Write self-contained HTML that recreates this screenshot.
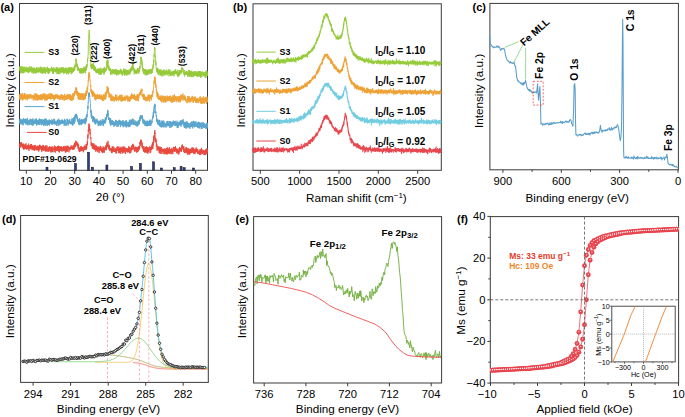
<!DOCTYPE html>
<html><head><meta charset="utf-8"><title>Figure</title>
<style>html,body{margin:0;padding:0;background:#fff;width:685px;height:417px;overflow:hidden}svg{display:block}text{font-family:"Liberation Sans", sans-serif}</style>
</head><body><svg width="685" height="417" viewBox="0 0 685 417" font-family='"Liberation Sans", sans-serif'><rect width="685" height="417" fill="#fff"/><rect x="19.5" y="3.5" width="188.0" height="166.8" fill="none" stroke="#3a3a3a" stroke-width="1"/><line x1="26.3" y1="170.3" x2="26.3" y2="173.8" stroke="#3a3a3a" stroke-width="1.0" /><text x="26.3" y="185.3" font-size="11.2" text-anchor="middle" fill="#000" >10</text><line x1="50.5" y1="170.3" x2="50.5" y2="173.8" stroke="#3a3a3a" stroke-width="1.0" /><text x="50.5" y="185.3" font-size="11.2" text-anchor="middle" fill="#000" >20</text><line x1="74.7" y1="170.3" x2="74.7" y2="173.8" stroke="#3a3a3a" stroke-width="1.0" /><text x="74.7" y="185.3" font-size="11.2" text-anchor="middle" fill="#000" >30</text><line x1="98.9" y1="170.3" x2="98.9" y2="173.8" stroke="#3a3a3a" stroke-width="1.0" /><text x="98.9" y="185.3" font-size="11.2" text-anchor="middle" fill="#000" >40</text><line x1="123.1" y1="170.3" x2="123.1" y2="173.8" stroke="#3a3a3a" stroke-width="1.0" /><text x="123.1" y="185.3" font-size="11.2" text-anchor="middle" fill="#000" >50</text><line x1="147.3" y1="170.3" x2="147.3" y2="173.8" stroke="#3a3a3a" stroke-width="1.0" /><text x="147.3" y="185.3" font-size="11.2" text-anchor="middle" fill="#000" >60</text><line x1="171.5" y1="170.3" x2="171.5" y2="173.8" stroke="#3a3a3a" stroke-width="1.0" /><text x="171.5" y="185.3" font-size="11.2" text-anchor="middle" fill="#000" >70</text><line x1="195.7" y1="170.3" x2="195.7" y2="173.8" stroke="#3a3a3a" stroke-width="1.0" /><text x="195.7" y="185.3" font-size="11.2" text-anchor="middle" fill="#000" >80</text><text x="110.2" y="200.7" font-size="11.7" text-anchor="middle" fill="#000" >2θ (°)</text><text transform="translate(13.6,90.4) rotate(-90)" x="0" y="0" font-size="11.7" text-anchor="middle" fill="#000">Intensity (a.u.)</text><text x="0.4" y="11" font-size="11" font-weight="bold" text-anchor="start" fill="#000" >(a)</text><polyline points="20,145.3 20,145.8 20,144.8 20,143.8 20,144.6 20,143.7 20,145.5 20,147.8 20,144.6 20,144.4 20,146.4 20.1,146.2 20.2,145.8 20.3,144 20.4,145.6 20.5,146.9 20.6,143.3 20.7,144.9 20.8,142.4 20.9,143.5 21,142.5 21.1,145.4 21.2,143.6 21.3,146.3 21.4,146.1 21.5,145.5 21.6,142.3 21.7,145 21.8,145.9 21.8,146.2 21.9,143.3 22,145.2 22.1,144.3 22.2,144.6 22.3,147.9 22.4,144.7 22.5,146.1 22.6,147.7 22.7,145.1 22.8,146 22.9,146.4 23,146.3 23.1,144.1 23.2,146.4 23.3,148.7 23.4,143.6 23.5,147.8 23.6,146.5 23.7,145.2 23.8,149.9 23.9,147.7 24,144.3 24.1,146.6 24.2,147.5 24.3,146.1 24.4,147.7 24.5,146.4 24.6,147.7 24.7,149.1 24.8,145.4 24.8,146.9 24.9,145.8 25,146.8 25.1,144.6 25.2,145.6 25.3,146.3 25.4,148.3 25.5,148.7 25.6,144.4 25.7,145.4 25.8,147.9 25.9,143.3 26,146 26.1,146.6 26.2,149 26.3,148 26.4,146.3 26.5,146.2 26.6,146.5 26.7,149.6 26.8,146.2 26.9,146.4 27,147.6 27.1,146.8 27.2,146.6 27.3,145.1 27.4,147 27.5,146.3 27.6,149.1 27.7,148.2 27.8,147 27.8,148.3 27.9,146.5 28,149 28.1,147.1 28.2,148.2 28.3,144.9 28.4,147.8 28.5,144.2 28.6,143.6 28.7,146.7 28.8,145.7 28.9,147.5 29,150.9 29.1,145.8 29.2,146.2 29.3,147.7 29.4,148.2 29.5,147 29.6,147 29.7,148.6 29.8,148.3 29.9,145.6 30,147.3 30.1,147.5 30.2,145.6 30.3,147.9 30.4,145.9 30.5,149.2 30.6,147.8 30.7,147.6 30.8,146.5 30.8,147.3 30.9,144 31,145.5 31.1,148.2 31.2,144 31.3,149 31.4,144.5 31.5,148.9 31.6,146.1 31.7,149 31.8,147.9 31.9,144.9 32,149.8 32.1,150.2 32.2,147.6 32.3,147.2 32.4,147.4 32.5,146 32.6,149.6 32.7,146.8 32.8,147.6 32.9,146.4 33,146.7 33.1,145.5 33.2,150 33.3,147.5 33.4,149.5 33.5,147.8 33.6,146.6 33.7,147.3 33.8,146.9 33.9,147.9 33.9,147.2 34,147.3 34.1,145.5 34.2,146.5 34.3,150.8 34.4,146.7 34.5,146.1 34.6,148.5 34.7,150.4 34.8,145.4 34.9,147.6 35,146.9 35.1,144.9 35.2,149.3 35.3,147.9 35.4,148.1 35.5,146.7 35.6,148.8 35.7,147.1 35.8,147.8 35.9,146.1 36,145.9 36.1,150.4 36.2,147.2 36.3,148.6 36.4,148 36.5,147.3 36.6,147.2 36.7,149.2 36.8,147.6 36.9,147.9 36.9,148.2 37,150.2 37.1,149.3 37.2,148.8 37.3,147.2 37.4,145.7 37.5,149.8 37.6,149.9 37.7,147.9 37.8,149.1 37.9,149.6 38,149.7 38.1,149.8 38.2,147.4 38.3,150.9 38.4,146.1 38.5,149.8 38.6,149.1 38.7,149.8 38.8,151.6 38.9,150.9 39,146.3 39.1,145.3 39.2,149.7 39.3,146.5 39.4,148.3 39.5,149.8 39.6,145.4 39.7,144.7 39.8,148.8 39.9,148.4 39.9,147.9 40,148.4 40.1,146.9 40.2,145.7 40.3,148.1 40.4,146.7 40.5,145.5 40.6,149.3 40.7,148.3 40.8,149.1 40.9,146.7 41,147.3 41.1,146.7 41.2,146.9 41.3,148.8 41.4,147.1 41.5,149.1 41.6,149.1 41.7,152 41.8,146 41.9,150 42,148.3 42.1,148.5 42.2,146 42.3,147.7 42.4,149.8 42.5,148.4 42.6,148.7 42.7,148 42.8,150.5 42.9,148.5 42.9,144.9 43,147.3 43.1,145.1 43.2,145 43.3,147.6 43.4,150.9 43.5,148.6 43.6,146.5 43.7,146.9 43.8,150.6 43.9,148.9 44,148.7 44.1,148.5 44.2,148.7 44.3,150 44.4,149.6 44.5,149 44.6,146.8 44.7,149.5 44.8,147.4 44.9,150.5 45,146.4 45.1,148.4 45.2,148.6 45.3,146.3 45.4,151.7 45.5,151.2 45.6,147.9 45.7,150 45.8,149.3 45.9,145.1 46,149.1 46,148.6 46.1,148.8 46.2,146.8 46.3,148.2 46.4,148.4 46.5,150.8 46.6,149.3 46.7,148.7 46.8,151.4 46.9,147.8 47,148 47.1,145.6 47.2,151.5 47.3,150.4 47.4,150.3 47.5,149.9 47.6,148.9 47.7,149.1 47.8,148.3 47.9,148.4 48,148.9 48.1,151.4 48.2,149.7 48.3,148.7 48.4,147.8 48.5,147.7 48.6,151.6 48.7,149.7 48.8,148.9 48.9,148.2 49,146.9 49,148.7 49.1,150.3 49.2,148.1 49.3,148.4 49.4,148.4 49.5,149 49.6,146 49.7,148.4 49.8,147.3 49.9,150.4 50,147.5 50.1,149.9 50.2,151.5 50.3,148.3 50.4,147.8 50.5,149.2 50.6,148.9 50.7,147.1 50.8,149.7 50.9,152.4 51,148.4 51.1,148.5 51.2,147 51.3,149.4 51.4,146.7 51.5,146.9 51.6,151.1 51.7,147.3 51.8,150.8 51.9,151.6 52,149.4 52,149.9 52.1,152.3 52.2,148.6 52.3,147.9 52.4,146.5 52.5,149 52.6,151.5 52.7,150.6 52.8,147.3 52.9,147.4 53,148 53.1,149.4 53.2,148.6 53.3,149.3 53.4,149.5 53.5,148.4 53.6,148.9 53.7,149.3 53.8,148.8 53.9,149.8 54,152.2 54.1,150 54.2,149.1 54.3,146 54.4,149.6 54.5,145.6 54.6,146.5 54.7,150.5 54.8,150.2 54.9,148.7 55,146 55,148.3 55.1,147.8 55.2,150.1 55.3,152.6 55.4,149.4 55.5,147.6 55.6,146.9 55.7,148.9 55.8,148.7 55.9,147 56,149.2 56.1,147 56.2,150.9 56.3,150.9 56.4,150.9 56.5,148.2 56.6,149.9 56.7,148.8 56.8,148.3 56.9,148.4 57,146.7 57.1,146.5 57.2,150.4 57.3,148.7 57.4,149.4 57.5,150.8 57.6,146 57.7,147.6 57.8,149.3 57.9,149.7 58,148.4 58.1,150.8 58.1,149.4 58.2,146.9 58.3,147.4 58.4,150.4 58.5,149.8 58.6,145.7 58.7,151.4 58.8,150.1 58.9,151.4 59,148.4 59.1,148.5 59.2,147.1 59.3,152.6 59.4,148.7 59.5,151.8 59.6,147.9 59.7,149.3 59.8,146.1 59.9,148.4 60,150.8 60.1,146.9 60.2,150.9 60.3,149.7 60.4,147.2 60.5,148.2 60.6,148.3 60.7,149 60.8,148.1 60.9,147.6 61,148.5 61.1,147.3 61.1,146.8 61.2,149 61.3,150.6 61.4,146.4 61.5,149.1 61.6,148 61.7,147.4 61.8,150.6 61.9,148.2 62,151.7 62.1,147.7 62.2,149.8 62.3,148.7 62.4,147.8 62.5,150.1 62.6,148.8 62.7,150.2 62.8,149 62.9,147.2 63,148.9 63.1,149.2 63.2,150.8 63.3,147.5 63.4,149.1 63.5,146.1 63.6,150.3 63.7,147.2 63.8,146 63.9,149 64,151.1 64.1,146.5 64.1,147.2 64.2,147.8 64.3,147.2 64.4,149.8 64.5,147.7 64.6,147.9 64.7,150.2 64.8,147.8 64.9,149.9 65,147.5 65.1,147 65.2,145.9 65.3,152.4 65.4,148.6 65.5,149.6 65.6,149.1 65.7,149.4 65.8,149.2 65.9,152.5 66,147.3 66.1,146.4 66.2,147.4 66.3,146.8 66.4,150.5 66.5,150.6 66.6,147.5 66.7,146.7 66.8,148.5 66.9,151.6 67,145.6 67.1,150.1 67.1,147.3 67.2,151 67.3,147.3 67.4,148.7 67.5,146.5 67.6,147.4 67.7,151.6 67.8,150.6 67.9,148.5 68,147.6 68.1,145.8 68.2,148.5 68.3,149.1 68.4,149 68.5,149 68.6,147.2 68.7,149 68.8,149.1 68.9,151.4 69,152.4 69.1,148.9 69.2,147.8 69.3,149 69.4,148.1 69.5,147.8 69.6,149 69.7,147.3 69.8,150.2 69.9,148.9 70,149.5 70.1,148.8 70.2,147.8 70.2,147.4 70.3,148.7 70.4,148.1 70.5,149.5 70.6,149 70.7,146.7 70.8,149.1 70.9,146.7 71,147.9 71.1,148.5 71.2,145.4 71.3,149.1 71.4,149.2 71.5,148.7 71.6,148.2 71.7,148.3 71.8,147.2 71.9,148.4 72,147.9 72.1,149 72.2,146.7 72.3,149.2 72.4,149 72.5,148.5 72.6,147.9 72.7,149.6 72.8,145.7 72.9,149.4 73,148.9 73.1,149 73.2,149.1 73.2,147.2 73.3,147.8 73.4,149.3 73.5,148.8 73.6,148.3 73.7,145.2 73.8,148.6 73.9,149.6 74,149.2 74.1,147.6 74.2,144.3 74.3,148.5 74.4,146.4 74.5,142.8 74.6,146.8 74.7,143.3 74.8,143.3 74.9,144.2 75,147.2 75.1,144.1 75.2,144.9 75.3,147.1 75.4,146.5 75.5,143.3 75.6,142.7 75.7,140.7 75.8,141.5 75.9,143.3 76,143.1 76.1,142.6 76.2,144.1 76.2,141.1 76.3,142.5 76.4,144.1 76.5,144 76.6,145.2 76.7,144.3 76.8,143.4 76.9,144.8 77,142.8 77.1,142 77.2,146.2 77.3,145.4 77.4,146.3 77.5,143 77.6,145.6 77.7,145.4 77.8,145.2 77.9,143.3 78,146.5 78.1,148.9 78.2,148.1 78.3,146.5 78.4,147.7 78.5,149.2 78.6,144.4 78.7,147.8 78.8,149.1 78.9,149.4 79,151.3 79.1,150.4 79.2,149 79.2,149 79.3,149.9 79.4,147.6 79.5,148.5 79.6,150.2 79.7,152.1 79.8,148.4 79.9,148.6 80,149.1 80.1,151.1 80.2,148.7 80.3,151.4 80.4,147.1 80.5,148.5 80.6,148.5 80.7,150.2 80.8,150.7 80.9,146.2 81,147.3 81.1,149.4 81.2,147.7 81.3,146.2 81.4,150.7 81.5,149.7 81.6,149.7 81.7,148 81.8,150.7 81.9,148.4 82,150.8 82.1,147.2 82.2,147.3 82.3,149.2 82.3,147.6 82.4,150 82.5,149.3 82.6,147.2 82.7,148.9 82.8,148.1 82.9,150.4 83,147.6 83.1,147.9 83.2,150.8 83.3,152.3 83.4,152.2 83.5,148.7 83.6,149 83.7,151.3 83.8,148.3 83.9,146.8 84,148.7 84.1,149.3 84.2,147 84.3,145.5 84.4,145.8 84.5,149.5 84.6,146.9 84.7,148 84.8,148.5 84.9,149.2 85,147.5 85.1,148.9 85.2,146.3 85.3,147.2 85.3,145.9 85.4,149.6 85.5,147.5 85.6,146.1 85.7,146.7 85.8,146.8 85.9,148.2 86,144 86.1,144.8 86.2,145.8 86.3,149.8 86.4,147.6 86.5,145.4 86.6,146.6 86.7,148.6 86.8,144.2 86.9,143.5 87,145.8 87.1,144 87.2,143.8 87.3,141.1 87.4,144.7 87.5,143.6 87.6,140.8 87.7,140.2 87.8,134.6 87.9,138.4 88,135.9 88.1,136 88.2,135.4 88.3,132.6 88.3,129.2 88.4,131.8 88.5,128.8 88.6,128.6 88.7,127.3 88.8,127 88.9,123.5 89,128.8 89.1,127 89.2,128.5 89.3,130.3 89.4,127.3 89.5,124.7 89.6,127.1 89.7,127.4 89.8,129.6 89.9,131.6 90,129 90.1,134.2 90.2,131.9 90.3,136.1 90.4,136.3 90.5,136.9 90.6,138.1 90.7,138.1 90.8,138.7 90.9,137.5 91,141.1 91.1,144.9 91.2,145.7 91.3,145 91.3,144.3 91.4,142.3 91.5,146.3 91.6,144 91.7,144.2 91.8,144 91.9,144.9 92,144.1 92.1,144.8 92.2,143.1 92.3,144.5 92.4,148.8 92.5,145.1 92.6,144.9 92.7,146.3 92.8,146.6 92.9,143.5 93,145.2 93.1,147.2 93.2,146.2 93.3,146.1 93.4,148.7 93.5,144.9 93.6,146.4 93.7,145.5 93.8,149.2 93.9,143.4 94,145.8 94.1,146.2 94.2,148.4 94.3,148.4 94.4,150 94.4,144.9 94.5,149.1 94.6,147.4 94.7,146.8 94.8,149.1 94.9,146.6 95,144.7 95.1,147.7 95.2,145.8 95.3,147.4 95.4,149.2 95.5,149.2 95.6,151.5 95.7,148.4 95.8,146.1 95.9,147.5 96,147.3 96.1,146.8 96.2,149.7 96.3,147.9 96.4,145.6 96.5,150.3 96.6,148.9 96.7,149.7 96.8,149.3 96.9,150.3 97,149.3 97.1,151.4 97.2,150 97.3,149.9 97.4,150 97.4,146.7 97.5,149 97.6,148.9 97.7,149.7 97.8,147 97.9,152.2 98,149.5 98.1,147.3 98.2,146.4 98.3,148.9 98.4,149.2 98.5,148.2 98.6,149.6 98.7,148.3 98.8,150.4 98.9,148.2 99,149.4 99.1,151.2 99.2,153.1 99.3,147.7 99.4,148.7 99.5,148 99.6,150.9 99.7,147.5 99.8,148.7 99.9,149.5 100,147.8 100.1,147.8 100.2,148.7 100.3,145.9 100.4,147 100.4,148.8 100.5,149.8 100.6,149.2 100.7,146.4 100.8,148.7 100.9,150.9 101,150.5 101.1,149.4 101.2,148 101.3,150.7 101.4,148.5 101.5,147.5 101.6,148.1 101.7,152.1 101.8,149.9 101.9,151.6 102,148.7 102.1,151.2 102.2,148.5 102.3,149.3 102.4,153.1 102.5,150.9 102.6,148.6 102.7,149.4 102.8,150.1 102.9,151.6 103,148.6 103.1,146.4 103.2,149 103.3,149.5 103.4,149.6 103.4,151.7 103.5,150 103.6,150.8 103.7,147.4 103.8,150.9 103.9,152.9 104,150.7 104.1,149.7 104.2,149.5 104.3,152.3 104.4,147.5 104.5,148.9 104.6,149.9 104.7,150.3 104.8,148.2 104.9,149.4 105,148.3 105.1,148.9 105.2,148.4 105.3,146.5 105.4,148.3 105.5,149.8 105.6,146.4 105.7,147.5 105.8,148.9 105.9,145.7 106,147.7 106.1,145.3 106.2,148.9 106.3,150.3 106.4,150 106.5,145.8 106.5,147.2 106.6,145.9 106.7,145.6 106.8,147.8 106.9,142.6 107,146.5 107.1,144.3 107.2,146.7 107.3,144.4 107.4,142.8 107.5,144.5 107.6,145.3 107.7,144.1 107.8,145 107.9,143.4 108,140.9 108.1,146.4 108.2,146.3 108.3,145.6 108.4,145.7 108.5,147.7 108.6,145.3 108.7,145.2 108.8,146.3 108.9,149 109,144.7 109.1,149.4 109.2,146.4 109.3,145.8 109.4,150.1 109.5,147.9 109.5,146 109.6,147.8 109.7,150.2 109.8,150.7 109.9,148 110,149.6 110.1,150.2 110.2,147.9 110.3,149.7 110.4,149.1 110.5,148.3 110.6,148.4 110.7,149.5 110.8,149.4 110.9,148.4 111,148.7 111.1,151.5 111.2,149.9 111.3,151.1 111.4,151.7 111.5,150.6 111.6,153.2 111.7,148.2 111.8,151.1 111.9,149.1 112,153 112.1,152.7 112.2,146.3 112.3,148.1 112.4,150.9 112.5,151.2 112.5,151.1 112.6,149.7 112.7,150.6 112.8,151 112.9,149.7 113,151.6 113.1,146.3 113.2,151 113.3,148.1 113.4,151.6 113.5,149.5 113.6,148.3 113.7,150.6 113.8,148.3 113.9,148.3 114,147.2 114.1,149.9 114.2,150.8 114.3,151.7 114.4,149.7 114.5,151.8 114.6,150 114.7,149.8 114.8,151 114.9,151.8 115,149.4 115.1,149.6 115.2,149.7 115.3,150.1 115.4,148.4 115.5,151.8 115.5,149.3 115.6,150.8 115.7,148.6 115.8,150.7 115.9,150.7 116,149.3 116.1,153.6 116.2,150.7 116.3,153.2 116.4,151.7 116.5,148.9 116.6,149.4 116.7,150.8 116.8,150.2 116.9,150.2 117,149.6 117.1,146.9 117.2,149.7 117.3,146.5 117.4,150.7 117.5,148.8 117.6,148.8 117.7,149.7 117.8,150.6 117.9,147.6 118,147 118.1,148.2 118.2,146.5 118.3,148.4 118.4,152.9 118.5,148.3 118.6,151.2 118.6,147.7 118.7,150.6 118.8,149.6 118.9,150 119,151.1 119.1,153.2 119.2,150.5 119.3,150.3 119.4,148.4 119.5,151.2 119.6,149.7 119.7,151.6 119.8,150.1 119.9,153.2 120,146.7 120.1,149.6 120.2,151.7 120.3,149.5 120.4,148.8 120.5,149.7 120.6,147.7 120.7,150.4 120.8,153.8 120.9,152.2 121,148.2 121.1,148.6 121.2,149.5 121.3,151.9 121.4,148.7 121.5,149 121.6,151.7 121.6,151.7 121.7,149.5 121.8,148.2 121.9,147.5 122,148.9 122.1,146.6 122.2,151.5 122.3,149.1 122.4,151 122.5,153.4 122.6,152.2 122.7,148.2 122.8,151.7 122.9,152.2 123,148.9 123.1,148.5 123.2,150 123.3,147.4 123.4,152.8 123.5,146.6 123.6,148.2 123.7,149.7 123.8,149.8 123.9,150.5 124,150.7 124.1,149.8 124.2,152.2 124.3,146.6 124.4,150.2 124.5,148.9 124.6,150.4 124.6,150.6 124.7,148.6 124.8,149.1 124.9,151.6 125,150.8 125.1,149 125.2,153.8 125.3,153.8 125.4,147.6 125.5,150.7 125.6,153.8 125.7,151.6 125.8,150.6 125.9,149.8 126,149.2 126.1,149.8 126.2,149.2 126.3,151.5 126.4,149.5 126.5,149.4 126.6,148.1 126.7,150.1 126.8,148.6 126.9,149.8 127,152 127.1,150.8 127.2,151 127.3,150.8 127.4,150.3 127.5,149.9 127.6,149.6 127.6,151.5 127.7,148.2 127.8,152.5 127.9,150.2 128,148.8 128.1,149.3 128.2,148.9 128.3,150.4 128.4,148.8 128.5,152.1 128.6,148.7 128.7,146.5 128.8,148.8 128.9,146.5 129,150 129.1,151.9 129.2,151.1 129.3,147.6 129.4,148.6 129.5,153.1 129.6,150.5 129.7,149.9 129.8,151.7 129.9,153.4 130,152.1 130.1,150 130.2,150.3 130.3,150.8 130.4,148.6 130.5,147.7 130.6,149.6 130.7,147.8 130.7,149.3 130.8,149.5 130.9,152.8 131,147.6 131.1,148.8 131.2,148.6 131.3,149.6 131.4,150.5 131.5,147.7 131.6,147 131.7,145.4 131.8,146.5 131.9,148.9 132,147.9 132.1,146 132.2,147 132.3,147.6 132.4,148.3 132.5,146.3 132.6,146.8 132.7,144.1 132.8,145.2 132.9,150.1 133,143.8 133.1,146.8 133.2,147.9 133.3,147 133.4,146.4 133.5,147.8 133.6,148 133.7,148 133.7,145 133.8,148.2 133.9,147.1 134,147.7 134.1,149.2 134.2,150 134.3,150.5 134.4,148.2 134.5,150.8 134.6,151.3 134.7,151.3 134.8,151.8 134.9,149.2 135,149.2 135.1,151 135.2,147.2 135.3,150 135.4,148.7 135.5,149 135.6,146.6 135.7,148.1 135.8,149.7 135.9,151.3 136,151.5 136.1,149.6 136.2,149.4 136.3,148.3 136.4,150.4 136.5,149.3 136.6,150.8 136.7,152.8 136.7,149.7 136.8,147.1 136.9,148.2 137,147.1 137.1,147.6 137.2,151.9 137.3,150 137.4,146.9 137.5,150.7 137.6,151.7 137.7,148.8 137.8,148.2 137.9,148.8 138,149.8 138.1,150.4 138.2,151.2 138.3,151.2 138.4,151.1 138.5,151.3 138.6,149.9 138.7,146 138.8,148.3 138.9,148.9 139,147.5 139.1,149.6 139.2,147.1 139.3,145.9 139.4,149.8 139.5,148.2 139.6,147.1 139.7,148.1 139.7,148 139.8,146.4 139.9,141.8 140,143.8 140.1,143.8 140.2,142.5 140.3,144.2 140.4,145.5 140.5,142.1 140.6,140.6 140.7,145.8 140.8,141.2 140.9,139.6 141,142 141.1,142.2 141.2,140.2 141.3,142.9 141.4,140.8 141.5,140.2 141.6,142.4 141.7,143.8 141.8,141.7 141.9,143.8 142,143.5 142.1,147.6 142.2,143.2 142.3,147.3 142.4,145.1 142.5,145.4 142.6,147.2 142.7,147.9 142.8,148.8 142.8,147.5 142.9,146.1 143,146.5 143.1,148.6 143.2,148.9 143.3,150.6 143.4,149 143.5,150.3 143.6,151.3 143.7,149 143.8,146.3 143.9,146.9 144,146.6 144.1,152 144.2,147.8 144.3,151.5 144.4,150.4 144.5,152.5 144.6,151.3 144.7,149.4 144.8,149.3 144.9,149.8 145,150 145.1,148.8 145.2,149.7 145.3,152.6 145.4,146.8 145.5,150.3 145.6,148.3 145.7,150.2 145.8,151.4 145.8,149.8 145.9,151.3 146,147.1 146.1,151.9 146.2,148.9 146.3,151.1 146.4,150.3 146.5,146.4 146.6,148.7 146.7,150.4 146.8,152.7 146.9,150.5 147,150.5 147.1,147.5 147.2,152.5 147.3,153.2 147.4,150.1 147.5,149.6 147.6,147.2 147.7,151.6 147.8,153.6 147.9,151.3 148,152.2 148.1,150.9 148.2,148.3 148.3,152.3 148.4,147.8 148.5,149.6 148.6,150.4 148.7,151.5 148.8,150.7 148.8,150.6 148.9,148.6 149,147.6 149.1,150 149.2,148.6 149.3,147.6 149.4,147.6 149.5,149 149.6,146.6 149.7,147.4 149.8,146.9 149.9,150 150,150.4 150.1,153.2 150.2,147 150.3,148.4 150.4,151.2 150.5,149.1 150.6,148.9 150.7,152.4 150.8,148.8 150.9,147.3 151,146.9 151.1,149.8 151.2,149.6 151.3,146.6 151.4,147.2 151.5,149.7 151.6,149.7 151.7,147.4 151.8,149.5 151.8,149.2 151.9,144.9 152,147.3 152.1,148.4 152.2,146.4 152.3,143.5 152.4,146.3 152.5,147.8 152.6,148.9 152.7,142.1 152.8,148.9 152.9,142.8 153,146 153.1,145.9 153.2,144.9 153.3,142.8 153.4,139.9 153.5,142.3 153.6,139.3 153.7,136.2 153.8,142.6 153.9,139.5 154,140.6 154.1,135.1 154.2,138.6 154.3,138.1 154.4,137.5 154.5,134.3 154.6,131.9 154.7,133.5 154.8,130.1 154.9,130.9 154.9,134.3 155,132.8 155.1,134.8 155.2,135.5 155.3,139.7 155.4,139.4 155.5,137.8 155.6,140.8 155.7,138.1 155.8,139.6 155.9,142.5 156,139.5 156.1,141.8 156.2,140.6 156.3,143.8 156.4,147 156.5,143.3 156.6,145.5 156.7,144 156.8,144 156.9,144.2 157,149.3 157.1,150.7 157.2,148.2 157.3,146.4 157.4,149.1 157.5,147.5 157.6,149.7 157.7,149 157.8,149.1 157.9,149.8 157.9,147.9 158,148.3 158.1,146.1 158.2,148.4 158.3,146.8 158.4,149.1 158.5,147.8 158.6,149.7 158.7,150.4 158.8,147.2 158.9,148.3 159,148.1 159.1,151.1 159.2,152.8 159.3,151.4 159.4,149.3 159.5,152.5 159.6,147.3 159.7,152.7 159.8,148.9 159.9,146.5 160,153.7 160.1,152.9 160.2,148.4 160.3,150.5 160.4,149.8 160.5,150.4 160.6,147.7 160.7,149.1 160.8,151.1 160.9,150.7 160.9,152.4 161,150.5 161.1,154 161.2,149.1 161.3,150.8 161.4,147.1 161.5,148.2 161.6,152.8 161.7,148.8 161.8,151.4 161.9,150.4 162,148.7 162.1,149.9 162.2,149.6 162.3,149.7 162.4,151.8 162.5,151.7 162.6,149.5 162.7,149 162.8,151.1 162.9,150.4 163,152.4 163.1,154.2 163.2,152.1 163.3,150.5 163.4,150.3 163.5,149.1 163.6,149 163.7,148.9 163.8,149.9 163.9,149.9 163.9,152 164,150 164.1,150.3 164.2,148.5 164.3,153.6 164.4,151.6 164.5,153.8 164.6,152.1 164.7,153.3 164.8,150.3 164.9,152 165,154.3 165.1,148.6 165.2,152.8 165.3,153.7 165.4,151.5 165.5,152.1 165.6,153 165.7,149.6 165.8,151.5 165.9,149.2 166,149.5 166.1,149.7 166.2,150.5 166.3,151 166.4,151.6 166.5,148.2 166.6,154.3 166.7,152.8 166.8,152.1 166.9,150.1 167,150.6 167,151.8 167.1,151.5 167.2,147.8 167.3,152.1 167.4,154.4 167.5,147.5 167.6,152.6 167.7,151.5 167.8,150.6 167.9,153.3 168,148.7 168.1,151.1 168.2,153.4 168.3,150.5 168.4,150.1 168.5,151 168.6,150 168.7,153.6 168.8,149.2 168.9,152.4 169,148.6 169.1,152 169.2,150.6 169.3,147.2 169.4,150.8 169.5,148.9 169.6,150 169.7,153.6 169.8,148.8 169.9,148.9 170,153.4 170,151 170.1,153.6 170.2,151.4 170.3,149.2 170.4,150.7 170.5,153 170.6,152.5 170.7,150.8 170.8,150.9 170.9,150.6 171,149.8 171.1,154.3 171.2,150.8 171.3,148.8 171.4,150 171.5,152.1 171.6,152 171.7,150.5 171.8,149.6 171.9,150.8 172,147.8 172.1,148.4 172.2,152.2 172.3,149.9 172.4,151.4 172.5,152.9 172.6,151.8 172.7,150.7 172.8,154.2 172.9,151.8 173,149.9 173,151.8 173.1,151.2 173.2,148.9 173.3,150.5 173.4,150.1 173.5,146.8 173.6,149.9 173.7,149.7 173.8,149.3 173.9,147.1 174,149.4 174.1,149.9 174.2,150.1 174.3,147.8 174.4,150.9 174.5,147.5 174.6,149.2 174.7,151.9 174.8,148.3 174.9,148.6 175,151.4 175.1,148.8 175.2,149 175.3,149.9 175.4,151.4 175.5,146 175.6,148.2 175.7,147.9 175.8,147.8 175.9,148.3 176,148.4 176,150.5 176.1,148.4 176.2,150.3 176.3,150.9 176.4,148.9 176.5,150.5 176.6,153.3 176.7,151 176.8,149.3 176.9,150.4 177,148.9 177.1,151 177.2,152.1 177.3,149.1 177.4,150.2 177.5,152.6 177.6,149.8 177.7,151 177.8,148.9 177.9,149.2 178,149.8 178.1,154.3 178.2,150 178.3,149.8 178.4,149.8 178.5,150.4 178.6,151.9 178.7,151.1 178.8,154.3 178.9,151.1 179,153.2 179.1,151.2 179.1,151.7 179.2,148.1 179.3,150.4 179.4,150.5 179.5,150.2 179.6,147 179.7,152.1 179.8,149.8 179.9,149.7 180,149.9 180.1,149.9 180.2,151 180.3,148 180.4,148.5 180.5,150.6 180.6,150.2 180.7,149.2 180.8,148.8 180.9,148.2 181,149.5 181.1,151.5 181.2,147.5 181.3,151.9 181.4,150.5 181.5,148.1 181.6,150.2 181.7,146.1 181.8,145.5 181.9,146.2 182,147.6 182.1,147.7 182.1,147.3 182.2,148.3 182.3,144.5 182.4,149 182.5,145.7 182.6,147.1 182.7,147.7 182.8,146.5 182.9,146.2 183,147 183.1,148.9 183.2,150.1 183.3,150.2 183.4,147.6 183.5,148.1 183.6,148 183.7,150.5 183.8,146.2 183.9,152.1 184,149.2 184.1,148.7 184.2,150.8 184.3,152.1 184.4,151 184.5,152.3 184.6,150.7 184.7,152.7 184.8,152.8 184.9,150.5 185,153.2 185.1,151 185.1,150.9 185.2,149.2 185.3,150.3 185.4,152.2 185.5,148.6 185.6,152 185.7,151.5 185.8,151.4 185.9,147.4 186,150.8 186.1,152.1 186.2,149.7 186.3,151.2 186.4,147.4 186.5,152.2 186.6,149.9 186.7,152.6 186.8,147.8 186.9,152.3 187,150.7 187.1,152.5 187.2,149.5 187.3,150 187.4,154.7 187.5,149.7 187.6,149.9 187.7,150.6 187.8,149.3 187.9,153.2 188,154.2 188.1,149.9 188.1,148.1 188.2,153.2 188.3,153.1 188.4,152.6 188.5,153.2 188.6,149.6 188.7,150.9 188.8,148.7 188.9,148.7 189,152.9 189.1,150 189.2,154.8 189.3,151.3 189.4,150.1 189.5,152.6 189.6,154.3 189.7,152 189.8,149.1 189.9,151.8 190,153.6 190.1,150.3 190.2,149.8 190.3,153 190.4,151.4 190.5,149.3 190.6,150.5 190.7,149.9 190.8,151.7 190.9,151.4 191,153.2 191.1,152.4 191.2,148.4 191.2,151.9 191.3,152.7 191.4,152 191.5,153 191.6,150.2 191.7,149.5 191.8,152.7 191.9,149.2 192,147.5 192.1,152.9 192.2,149.8 192.3,150.5 192.4,148.6 192.5,148.7 192.6,149 192.7,150.3 192.8,151.6 192.9,147.3 193,152.2 193.1,148.7 193.2,148.9 193.3,151.9 193.4,150.6 193.5,148 193.6,153.8 193.7,149.1 193.8,151 193.9,150.8 194,152.9 194.1,149.6 194.2,152.2 194.2,149.1 194.3,152.3 194.4,149 194.5,149.7 194.6,153.7 194.7,151 194.8,150.6 194.9,154.1 195,151.2 195.1,149.1 195.2,151.9 195.3,148.6 195.4,152.7 195.5,152.9 195.6,149.8 195.7,149.7 195.8,151.2 195.9,151 196,149.3 196.1,152 196.2,147.5 196.3,150.3 196.4,150.4 196.5,150.6 196.6,151.7 196.7,149 196.8,152.2 196.9,150.9 197,150.1 197.1,148.8 197.2,149.2 197.2,151.9 197.3,149.6 197.4,151.4 197.5,153.2 197.6,153.1 197.7,154 197.8,150.8 197.9,149.4 198,153.1 198.1,151.9 198.2,153.3 198.3,151.4 198.4,153.5 198.5,152.8 198.6,152.6 198.7,152.3 198.8,152.1 198.9,151.8 199,151.8 199.1,153.1 199.2,150.5 199.3,154.4 199.4,151.2 199.5,153.1 199.6,151.3 199.7,151 199.8,155 199.9,150.9 200,149.2 200.1,150.2 200.2,150.9 200.2,155 200.3,151.8 200.4,153.1 200.5,149.7 200.6,152.1 200.7,152.6 200.8,154.6 200.9,150.2 201,152.5 201.1,152 201.2,149.7 201.3,151.4 201.4,151 201.5,147.9 201.6,152.5 201.7,152.4 201.8,150.7 201.9,149.1 202,154.1 202.1,151.9 202.2,153.3 202.3,153.9 202.4,150.6 202.5,152.9 202.6,151.1 202.7,151.4 202.8,151.3 202.9,151.5 203,153.4 203.1,151.7 203.2,151.2 203.3,151 203.3,152.1 203.4,149.9 203.5,150.6 203.6,151.4 203.7,150.5 203.8,151.3 203.9,150.4 204,155 204.1,153.8 204.2,152.3 204.3,151.4 204.4,155.1 204.5,152.1 204.6,151.4 204.7,152.1 204.8,152.1 204.9,154 205,151.5 205.1,155.1 205.2,150 205.3,152.8 205.4,149.8 205.5,154.7 205.6,151 205.7,151.4 205.8,153.2 205.9,153.7 206,149.6 206.1,150.9 206.2,149.1 206.3,151.8 206.3,151.4 206.4,150.9 206.5,150.4 206.6,150.9 206.7,150.3 206.8,152.5 206.9,154.2 207,148.2 207,151.4 207,150.8 207,152.4 207,149.9 207,151.3 207,149.8 207,152.8" fill="none" stroke="#e8493f" stroke-width="0.9" stroke-linejoin="round" /><polyline points="20,121.7 20,121.3 20,122.2 20,121.1 20,118.9 20,122.6 20,122.1 20,121.3 20,123.3 20,123.7 20,119.7 20.1,120.2 20.2,124.3 20.3,124.1 20.4,120.3 20.5,119.5 20.6,120.5 20.7,120.7 20.8,118.8 20.9,121.7 21,119.4 21.1,119.5 21.2,123.2 21.3,120.4 21.4,121.5 21.5,122.7 21.6,123.1 21.7,121 21.8,121.7 21.8,120.2 21.9,124.7 22,122.8 22.1,119.7 22.2,121.6 22.3,122.9 22.4,122.5 22.5,124.8 22.6,124.1 22.7,120.7 22.8,121.5 22.9,119.4 23,122.1 23.1,121.9 23.2,125.3 23.3,121.8 23.4,118.1 23.5,120.5 23.6,121.9 23.7,119.5 23.8,120.2 23.9,121 24,122.3 24.1,121.4 24.2,120.1 24.3,123.1 24.4,120.7 24.5,120.8 24.6,119.3 24.7,120.3 24.8,122.8 24.8,118.9 24.9,121.6 25,123 25.1,121 25.2,122.1 25.3,119.8 25.4,124 25.5,123.6 25.6,122.1 25.7,118.6 25.8,119.9 25.9,123.4 26,124.7 26.1,122.2 26.2,123.9 26.3,120.7 26.4,121.4 26.5,121.7 26.6,122.5 26.7,119.1 26.8,123.4 26.9,124.1 27,119.7 27.1,119.4 27.2,122.4 27.3,120.6 27.4,118.1 27.5,123.2 27.6,122 27.7,120.9 27.8,125.4 27.8,122 27.9,120.4 28,121.9 28.1,119.9 28.2,120.4 28.3,122.4 28.4,120.8 28.5,121 28.6,124.7 28.7,123.3 28.8,123.2 28.9,122.7 29,122.6 29.1,124.3 29.2,121.8 29.3,125 29.4,120.1 29.5,121.3 29.6,119.4 29.7,121.2 29.8,122.7 29.9,124.3 30,120.6 30.1,121.8 30.2,121.2 30.3,120.5 30.4,119.7 30.5,121.9 30.6,118.8 30.7,122 30.8,121.9 30.8,120.7 30.9,120.1 31,119.4 31.1,125.1 31.2,119.5 31.3,124.6 31.4,122.9 31.5,121.2 31.6,119.8 31.7,123.7 31.8,124.9 31.9,120.2 32,121.3 32.1,123.7 32.2,122.4 32.3,125.4 32.4,120.9 32.5,122.8 32.6,119.7 32.7,125.5 32.8,120.6 32.9,118.3 33,121.6 33.1,121.6 33.2,125.2 33.3,121.3 33.4,121.8 33.5,122.9 33.6,124.7 33.7,121.8 33.8,123.7 33.9,122.8 33.9,121.4 34,122 34.1,121.9 34.2,120.3 34.3,124 34.4,119.5 34.5,123.9 34.6,123.6 34.7,121.7 34.8,120.6 34.9,121.5 35,122.7 35.1,123.2 35.2,122.4 35.3,123.6 35.4,120.9 35.5,122.3 35.6,119.2 35.7,123.3 35.8,122.2 35.9,121.2 36,124 36.1,123.1 36.2,118.3 36.3,122 36.4,119.4 36.5,123.8 36.6,125.5 36.7,121 36.8,122.1 36.9,121.5 36.9,122.6 37,123.1 37.1,124.2 37.2,120.2 37.3,124.7 37.4,120.3 37.5,122.4 37.6,124 37.7,123.2 37.8,120.3 37.9,120.7 38,121.2 38.1,121.9 38.2,124 38.3,119.7 38.4,122.8 38.5,123 38.6,123 38.7,122.8 38.8,124.6 38.9,122.8 39,123.5 39.1,123 39.2,125.1 39.3,118.7 39.4,124.2 39.5,121.5 39.6,121.5 39.7,120.3 39.8,118.7 39.9,121.3 39.9,120.8 40,122.9 40.1,119.4 40.2,124.5 40.3,122.5 40.4,121.6 40.5,120.8 40.6,120.6 40.7,120 40.8,121.1 40.9,122 41,121.7 41.1,119.6 41.2,121.6 41.3,120.5 41.4,122.3 41.5,125.3 41.6,123.1 41.7,121.5 41.8,119.2 41.9,119.6 42,119.1 42.1,123.3 42.2,120.7 42.3,122.2 42.4,121 42.5,122.2 42.6,124.5 42.7,120.9 42.8,121.5 42.9,120.7 42.9,123.6 43,120.3 43.1,120.1 43.2,119.6 43.3,119.6 43.4,122.9 43.5,125.7 43.6,120.3 43.7,123.7 43.8,122.5 43.9,120.2 44,121.6 44.1,121.7 44.2,120.9 44.3,125.5 44.4,118.8 44.5,122.8 44.6,122.7 44.7,121.1 44.8,122.4 44.9,123.6 45,122.4 45.1,122.8 45.2,123.3 45.3,118.6 45.4,124.7 45.5,125.7 45.6,123.8 45.7,123.9 45.8,119.7 45.9,121.9 46,120.7 46,121.1 46.1,123.8 46.2,120.7 46.3,121.9 46.4,118.8 46.5,121.9 46.6,122.3 46.7,120.9 46.8,120.9 46.9,125.4 47,120 47.1,120.3 47.2,120.7 47.3,124.2 47.4,125.8 47.5,122.7 47.6,120.9 47.7,121.4 47.8,124 47.9,120.6 48,124.7 48.1,124.6 48.2,122.3 48.3,123.3 48.4,123.5 48.5,124.9 48.6,120.3 48.7,124.2 48.8,121.5 48.9,120.8 49,122.4 49,121.8 49.1,120.5 49.2,119.4 49.3,120.5 49.4,124.7 49.5,125.6 49.6,123.3 49.7,124.3 49.8,121.3 49.9,122.1 50,122.7 50.1,120.3 50.2,120.5 50.3,122.4 50.4,121.6 50.5,120.4 50.6,122.9 50.7,121.8 50.8,124 50.9,122.2 51,121.7 51.1,122.4 51.2,121.9 51.3,121.1 51.4,121.5 51.5,123.5 51.6,123.4 51.7,124.5 51.8,119.3 51.9,121.5 52,121.5 52,122.5 52.1,121.5 52.2,121.3 52.3,123.6 52.4,122.6 52.5,120.2 52.6,124.6 52.7,124 52.8,121.2 52.9,123.7 53,121 53.1,124.2 53.2,121.9 53.3,120.9 53.4,121.6 53.5,120.9 53.6,122.6 53.7,122.6 53.8,122.3 53.9,121.3 54,118.7 54.1,122.4 54.2,119 54.3,122.7 54.4,124.3 54.5,122.8 54.6,121.6 54.7,122 54.8,122.1 54.9,121.3 55,121.3 55,120.7 55.1,124.4 55.2,122.3 55.3,124 55.4,121.9 55.5,122.4 55.6,122 55.7,123.1 55.8,123.8 55.9,122.7 56,121.1 56.1,120.9 56.2,125.2 56.3,121.8 56.4,121.8 56.5,124.9 56.6,124.2 56.7,123.3 56.8,121.6 56.9,125.9 57,123 57.1,123.3 57.2,122 57.3,119.9 57.4,120 57.5,123 57.6,123 57.7,121.9 57.8,120.3 57.9,119.8 58,121.8 58.1,119.8 58.1,123.9 58.2,124.4 58.3,125.9 58.4,123.9 58.5,121.3 58.6,120.8 58.7,118.8 58.8,121.3 58.9,122 59,124.1 59.1,123.4 59.2,123.4 59.3,122.7 59.4,123.5 59.5,124.9 59.6,120.5 59.7,121.6 59.8,119.9 59.9,125.2 60,124.6 60.1,123.7 60.2,120.3 60.3,122.7 60.4,122 60.5,122.5 60.6,122 60.7,123.3 60.8,121.7 60.9,123.9 61,122.8 61.1,121.9 61.1,122.2 61.2,121.6 61.3,123.8 61.4,121.9 61.5,122.9 61.6,121.7 61.7,119.8 61.8,124 61.9,120.5 62,123.6 62.1,123.1 62.2,119.5 62.3,120.7 62.4,121.5 62.5,121 62.6,120.3 62.7,123.7 62.8,122 62.9,123.1 63,121.7 63.1,122.9 63.2,121.1 63.3,122.4 63.4,123.4 63.5,122.5 63.6,121.6 63.7,120.5 63.8,122.7 63.9,123 64,122 64.1,121.1 64.1,123.4 64.2,126 64.3,121.9 64.4,123 64.5,123.1 64.6,118.8 64.7,122.6 64.8,121.2 64.9,124.8 65,122 65.1,121.1 65.2,122 65.3,122.7 65.4,121.4 65.5,122.3 65.6,120 65.7,122 65.8,123.8 65.9,125.9 66,123.7 66.1,122.9 66.2,124.5 66.3,124.2 66.4,125.3 66.5,124.3 66.6,122.2 66.7,122.9 66.8,122.7 66.9,122.9 67,122.8 67.1,121 67.1,118.8 67.2,121.2 67.3,118.9 67.4,122.5 67.5,122.4 67.6,119.5 67.7,123.6 67.8,123.9 67.9,122.6 68,125.3 68.1,125.7 68.2,120.3 68.3,124.2 68.4,123.2 68.5,123.1 68.6,124 68.7,121.1 68.8,121.3 68.9,120.9 69,121.1 69.1,122.2 69.2,119.8 69.3,120.5 69.4,123.4 69.5,122.2 69.6,123 69.7,119 69.8,121 69.9,121.4 70,122.4 70.1,121.3 70.2,124 70.2,122.2 70.3,122.3 70.4,122.3 70.5,123.5 70.6,121.5 70.7,124.2 70.8,123.1 70.9,122.5 71,122.3 71.1,123.1 71.2,124 71.3,123.9 71.4,122.9 71.5,123.7 71.6,122.4 71.7,124.3 71.8,122.1 71.9,118.5 72,124.4 72.1,122.3 72.2,120 72.3,121.7 72.4,120.4 72.5,125.6 72.6,122.8 72.7,119.1 72.8,122.8 72.9,121.1 73,125.1 73.1,119.8 73.2,118 73.2,121.7 73.3,120.9 73.4,120.6 73.5,117.7 73.6,121.9 73.7,124 73.8,117.6 73.9,122.8 74,119.6 74.1,124 74.2,121 74.3,119.7 74.4,121.8 74.5,120.5 74.6,118.3 74.7,120.3 74.8,117.9 74.9,115.4 75,121.8 75.1,117.3 75.2,116.5 75.3,117.9 75.4,114.2 75.5,114.3 75.6,115.5 75.7,115.2 75.8,116 75.9,117.7 76,114.8 76.1,116.4 76.2,116.6 76.2,113.8 76.3,116.2 76.4,114.3 76.5,118.1 76.6,117.3 76.7,116.8 76.8,114.7 76.9,117.6 77,116.4 77.1,119.3 77.2,118.1 77.3,117.2 77.4,120.5 77.5,120.4 77.6,118.4 77.7,121.7 77.8,119.4 77.9,119.6 78,120.5 78.1,119.2 78.2,119.9 78.3,120.5 78.4,123.6 78.5,123.7 78.6,120.7 78.7,124.1 78.8,121.3 78.9,122.1 79,123 79.1,122.1 79.2,125.2 79.2,122.1 79.3,119.6 79.4,124 79.5,121 79.6,121.3 79.7,118.2 79.8,123.6 79.9,123.3 80,123.3 80.1,123.6 80.2,124.9 80.3,121.9 80.4,123.6 80.5,120.7 80.6,121.3 80.7,123.8 80.8,122.7 80.9,119.6 81,122.6 81.1,121.7 81.2,120.5 81.3,122.7 81.4,121.3 81.5,119.2 81.6,120 81.7,125.1 81.8,119.3 81.9,122.3 82,123 82.1,123 82.2,119.8 82.3,121.3 82.3,122.1 82.4,123.3 82.5,120.7 82.6,119.8 82.7,123.6 82.8,123.7 82.9,122.4 83,120.7 83.1,122.5 83.2,121.9 83.3,123.2 83.4,119.5 83.5,121.8 83.6,121.3 83.7,119.6 83.8,121.9 83.9,121.6 84,120.7 84.1,122.1 84.2,118.9 84.3,121.2 84.4,122 84.5,121.7 84.6,123 84.7,119 84.8,118.4 84.9,121.4 85,121.6 85.1,124.4 85.2,121.7 85.3,119 85.3,121.9 85.4,118.8 85.5,117.6 85.6,123.6 85.7,120.4 85.8,120.9 85.9,120.5 86,122.4 86.1,119.5 86.2,120.9 86.3,116.6 86.4,115.6 86.5,120.2 86.6,119.9 86.7,117.7 86.8,116.7 86.9,116 87,113.9 87.1,117.1 87.2,114.9 87.3,113.8 87.4,112.7 87.5,113 87.6,111 87.7,110.4 87.8,105.9 87.9,107.6 88,109.1 88.1,103.3 88.2,102.6 88.3,103.1 88.3,101.8 88.4,99.9 88.5,94.6 88.6,97.1 88.7,93.1 88.8,92.8 88.9,94.5 89,92.5 89.1,94.2 89.2,96.5 89.3,94.6 89.4,95.1 89.5,93 89.6,94.5 89.7,94.9 89.8,97.1 89.9,97.4 90,99.5 90.1,101.6 90.2,101.6 90.3,102.1 90.4,103.5 90.5,107.9 90.6,108.3 90.7,111 90.8,112.1 90.9,110.5 91,113.2 91.1,110.2 91.2,117.1 91.3,116.2 91.3,114.3 91.4,113.1 91.5,116.3 91.6,112.7 91.7,115 91.8,118 91.9,117 92,116.3 92.1,119 92.2,115.6 92.3,118.1 92.4,116.8 92.5,116.3 92.6,118.7 92.7,116.2 92.8,121.4 92.9,117.1 93,121.7 93.1,116.5 93.2,119.6 93.3,116.6 93.4,116.5 93.5,119.3 93.6,120.3 93.7,117.1 93.8,121.6 93.9,118.3 94,120.1 94.1,120.7 94.2,121.2 94.3,117.2 94.4,123.3 94.4,121.6 94.5,120 94.6,119.1 94.7,118.1 94.8,118.8 94.9,122.2 95,120.7 95.1,119.4 95.2,120.6 95.3,124.3 95.4,121.1 95.5,120.7 95.6,124.2 95.7,122.7 95.8,122 95.9,120.9 96,119.3 96.1,120 96.2,121.2 96.3,121.7 96.4,122.8 96.5,123.2 96.6,122.6 96.7,122.6 96.8,120.5 96.9,118.7 97,121.4 97.1,120.7 97.2,121.2 97.3,121.9 97.4,120.2 97.4,120.5 97.5,122.3 97.6,122.7 97.7,121.3 97.8,123.4 97.9,122.1 98,120.7 98.1,122.6 98.2,125.8 98.3,121.4 98.4,124.6 98.5,125 98.6,125.2 98.7,121.2 98.8,126.1 98.9,122.8 99,122.2 99.1,122.2 99.2,123.7 99.3,122.7 99.4,122.4 99.5,124.9 99.6,121.4 99.7,120.9 99.8,124.1 99.9,123.9 100,124.6 100.1,120.8 100.2,124.6 100.3,123.5 100.4,125.8 100.4,120.5 100.5,123.1 100.6,122.2 100.7,119.9 100.8,121.5 100.9,124.7 101,121.9 101.1,121.4 101.2,124.2 101.3,124.4 101.4,124.4 101.5,121.3 101.6,122.6 101.7,124.5 101.8,121.5 101.9,121.4 102,124.1 102.1,125.4 102.2,120.6 102.3,119.1 102.4,120.1 102.5,120.9 102.6,122.4 102.7,123.7 102.8,122.3 102.9,121.4 103,122.8 103.1,120.9 103.2,122.5 103.3,121.4 103.4,126.1 103.4,123.9 103.5,121 103.6,120.7 103.7,121.6 103.8,119.5 103.9,121 104,121 104.1,123.7 104.2,121.4 104.3,120.7 104.4,119.7 104.5,119.9 104.6,121.7 104.7,121.4 104.8,123.6 104.9,120.4 105,123.2 105.1,121.7 105.2,121 105.3,117.3 105.4,118.4 105.5,121.7 105.6,122.6 105.7,120.3 105.8,121 105.9,118.6 106,118.4 106.1,117.5 106.2,120 106.3,118.5 106.4,117.1 106.5,116.5 106.5,117.6 106.6,116.7 106.7,114.3 106.8,118.3 106.9,115.3 107,114.5 107.1,116.7 107.2,115.6 107.3,113.4 107.4,114.3 107.5,111.4 107.6,112.2 107.7,109.9 107.8,115.8 107.9,110.6 108,115.5 108.1,113.2 108.2,113.4 108.3,115.2 108.4,116.5 108.5,117.5 108.6,120 108.7,118 108.8,119.3 108.9,117.1 109,119.8 109.1,119.2 109.2,118.5 109.3,119.5 109.4,119.8 109.5,120.5 109.5,121.2 109.6,119.8 109.7,119.6 109.8,122.4 109.9,118.3 110,120.4 110.1,124.3 110.2,118.1 110.3,120.7 110.4,123.2 110.5,119.2 110.6,125.8 110.7,118.7 110.8,124.8 110.9,125.1 111,124.1 111.1,122.1 111.2,123.2 111.3,121 111.4,124.1 111.5,120.7 111.6,122.3 111.7,124.5 111.8,120.9 111.9,122.2 112,123.1 112.1,120.5 112.2,124.9 112.3,123.5 112.4,120.3 112.5,122.9 112.5,121.6 112.6,121.9 112.7,123.2 112.8,121.8 112.9,124.8 113,121.9 113.1,124.8 113.2,123 113.3,124.6 113.4,122.2 113.5,122.3 113.6,121.1 113.7,124.2 113.8,124.8 113.9,126.8 114,125.5 114.1,123.7 114.2,122.9 114.3,123.9 114.4,123.2 114.5,125.8 114.6,124.9 114.7,121.8 114.8,122.1 114.9,125.7 115,123.8 115.1,122.9 115.2,125.4 115.3,122.6 115.4,122.8 115.5,122.5 115.5,119.9 115.6,124.9 115.7,121.2 115.8,122.4 115.9,122.1 116,124.6 116.1,123.3 116.2,123.4 116.3,120.5 116.4,123.2 116.5,120.8 116.6,123.9 116.7,124.1 116.8,123.4 116.9,127 117,124.4 117.1,124.5 117.2,123.7 117.3,123.1 117.4,125.1 117.5,125.4 117.6,121.2 117.7,125.3 117.8,124.4 117.9,125.1 118,124.3 118.1,121.3 118.2,121.4 118.3,126.7 118.4,123.9 118.5,121 118.6,124.1 118.6,122.9 118.7,120.3 118.8,119.9 118.9,120.7 119,124 119.1,123.4 119.2,123.1 119.3,124 119.4,124.6 119.5,119.9 119.6,123 119.7,122.1 119.8,121.4 119.9,122.6 120,123.3 120.1,123.1 120.2,121 120.3,122.7 120.4,127.1 120.5,121.7 120.6,120.6 120.7,124 120.8,124.6 120.9,124.4 121,121.6 121.1,125.3 121.2,122.2 121.3,121.6 121.4,122.5 121.5,123.4 121.6,124.8 121.6,124.7 121.7,123.5 121.8,125.2 121.9,123.7 122,125.2 122.1,121.1 122.2,120.8 122.3,125 122.4,121.2 122.5,123.1 122.6,123.4 122.7,122.8 122.8,122.8 122.9,126 123,120 123.1,125.2 123.2,127.2 123.3,123.7 123.4,123.6 123.5,124.9 123.6,126.8 123.7,121.5 123.8,123.8 123.9,123.3 124,124.6 124.1,123.9 124.2,124.8 124.3,122.9 124.4,123.7 124.5,122.5 124.6,122.5 124.6,123.4 124.7,123.4 124.8,121.6 124.9,126.4 125,123.4 125.1,121.2 125.2,125.6 125.3,122.3 125.4,124.5 125.5,123.6 125.6,124.1 125.7,123.9 125.8,122.6 125.9,123.7 126,127.2 126.1,120 126.2,123.8 126.3,124.4 126.4,121.8 126.5,121.2 126.6,127.2 126.7,123 126.8,127.2 126.9,124.6 127,123.8 127.1,124.5 127.2,124.7 127.3,125.7 127.4,124.4 127.5,123.9 127.6,123.9 127.6,126 127.7,125 127.8,121.8 127.9,122.5 128,124.2 128.1,122.5 128.2,122.9 128.3,121.9 128.4,123.1 128.5,124.3 128.6,125.3 128.7,123.6 128.8,127.1 128.9,123.4 129,127.1 129.1,125.3 129.2,124.4 129.3,122.6 129.4,119.9 129.5,123.2 129.6,123.7 129.7,126.7 129.8,120.9 129.9,126.7 130,122.9 130.1,124.5 130.2,119.6 130.3,123.4 130.4,122.5 130.5,124.3 130.6,123.2 130.7,120.9 130.7,124.5 130.8,124 130.9,123.7 131,124.4 131.1,124.4 131.2,122.4 131.3,119.9 131.4,119.7 131.5,124.4 131.6,123.2 131.7,122 131.8,120.9 131.9,121.6 132,121.4 132.1,120.6 132.2,119.9 132.3,124.6 132.4,121.3 132.5,119.8 132.6,118.5 132.7,119.5 132.8,122 132.9,122.1 133,120.5 133.1,121 133.2,120.5 133.3,119.2 133.4,123.6 133.5,122.1 133.6,125.1 133.7,120.4 133.7,121.6 133.8,123.5 133.9,121.6 134,119.8 134.1,120.6 134.2,122.6 134.3,123.1 134.4,122.4 134.5,124.4 134.6,124.5 134.7,123.4 134.8,122.9 134.9,122.5 135,124 135.1,124.7 135.2,123.2 135.3,123.9 135.4,122.6 135.5,120.7 135.6,121.4 135.7,124.6 135.8,124 135.9,126 136,123.4 136.1,124.8 136.2,125.6 136.3,125 136.4,122.2 136.5,122.9 136.6,123.5 136.7,121.5 136.7,124.1 136.8,125 136.9,122.4 137,126.7 137.1,122.7 137.2,122.8 137.3,122.7 137.4,121.9 137.5,123.8 137.6,123.1 137.7,125.9 137.8,124 137.9,123.8 138,122.5 138.1,120.3 138.2,122.5 138.3,121.1 138.4,124.2 138.5,122.4 138.6,125.2 138.7,123.5 138.8,123.5 138.9,122.3 139,122.1 139.1,122.7 139.2,122.9 139.3,119.8 139.4,121.7 139.5,124.2 139.6,120.1 139.7,119.5 139.7,118.4 139.8,116.8 139.9,121 140,118.7 140.1,118.7 140.2,121 140.3,121 140.4,115.4 140.5,118.4 140.6,117.3 140.7,116.5 140.8,116.4 140.9,115.2 141,117.9 141.1,116.1 141.2,115.6 141.3,117.2 141.4,116.8 141.5,116.2 141.6,116.3 141.7,119.1 141.8,117.3 141.9,116.6 142,115.7 142.1,117 142.2,116.2 142.3,118.6 142.4,119.2 142.5,115.6 142.6,119.6 142.7,121 142.8,120.5 142.8,118.8 142.9,123 143,119.8 143.1,119.1 143.2,119.6 143.3,121.7 143.4,123.6 143.5,124.1 143.6,122.6 143.7,120.2 143.8,121.3 143.9,121 144,122.4 144.1,119.7 144.2,123 144.3,124 144.4,122.7 144.5,123.8 144.6,121.5 144.7,120.6 144.8,122.1 144.9,125.3 145,125.1 145.1,122.5 145.2,125.4 145.3,122.8 145.4,126 145.5,124.2 145.6,122.6 145.7,124.8 145.8,122.1 145.8,121.8 145.9,120.9 146,124 146.1,123.4 146.2,123.4 146.3,122.8 146.4,126.1 146.5,122.8 146.6,122.3 146.7,125.7 146.8,126.1 146.9,124.2 147,120.5 147.1,122.5 147.2,124.6 147.3,123.6 147.4,126.3 147.5,121.2 147.6,124.8 147.7,122.5 147.8,125.9 147.9,123.4 148,125.4 148.1,122.4 148.2,121.1 148.3,121.6 148.4,122.5 148.5,121.7 148.6,125.6 148.7,125.8 148.8,124 148.8,121.7 148.9,123.3 149,122.2 149.1,126 149.2,124 149.3,124.3 149.4,122.7 149.5,119.8 149.6,122 149.7,121.3 149.8,123.9 149.9,123.4 150,121.8 150.1,122.5 150.2,125.9 150.3,121.4 150.4,121.5 150.5,122.6 150.6,121.7 150.7,122.2 150.8,123.8 150.9,125.8 151,119.6 151.1,122.6 151.2,122.6 151.3,122.3 151.4,122 151.5,121.6 151.6,123.8 151.7,121.1 151.8,121.5 151.8,121.6 151.9,121.6 152,120.9 152.1,122.7 152.2,120.6 152.3,120.6 152.4,119.9 152.5,117.9 152.6,117.8 152.7,116.9 152.8,118.6 152.9,116.5 153,115.4 153.1,117 153.2,116.9 153.3,112.2 153.4,117.5 153.5,113.8 153.6,112.8 153.7,114 153.8,111.4 153.9,109.3 154,113.1 154.1,106.8 154.2,107.7 154.3,108.7 154.4,104.7 154.5,105.8 154.6,106.3 154.7,109 154.8,103.8 154.9,105.4 154.9,107 155,106.4 155.1,104.8 155.2,108.3 155.3,108.5 155.4,109.9 155.5,112 155.6,112.7 155.7,112.5 155.8,113.2 155.9,111.5 156,114 156.1,115.4 156.2,115 156.3,116.6 156.4,115.6 156.5,120.3 156.6,121.8 156.7,118 156.8,119.8 156.9,119.1 157,122.2 157.1,121.1 157.2,120.8 157.3,120.5 157.4,121.4 157.5,119.7 157.6,122.8 157.7,120.6 157.8,123 157.9,122.4 157.9,124.3 158,122.5 158.1,124.4 158.2,121.1 158.3,123.9 158.4,122.5 158.5,123.3 158.6,123.2 158.7,124.8 158.8,119.7 158.9,123.8 159,120.7 159.1,125.5 159.2,120 159.3,121.7 159.4,120.6 159.5,126.4 159.6,121.3 159.7,123.8 159.8,122.7 159.9,120.5 160,123.1 160.1,124.9 160.2,123.5 160.3,125.5 160.4,123.2 160.5,123.9 160.6,123.2 160.7,124.5 160.8,127.2 160.9,124.6 160.9,124.3 161,122.9 161.1,122.7 161.2,126.6 161.3,122.1 161.4,122.5 161.5,123.9 161.6,123.3 161.7,127.5 161.8,120.5 161.9,124.8 162,125.4 162.1,122.2 162.2,123 162.3,124.9 162.4,127 162.5,122.6 162.6,121.4 162.7,125.9 162.8,126.9 162.9,123.7 163,120.7 163.1,126.8 163.2,123.9 163.3,126.2 163.4,124.2 163.5,123.6 163.6,123.5 163.7,126.9 163.8,126.8 163.9,120.7 163.9,122.7 164,127.5 164.1,123.7 164.2,122 164.3,124.4 164.4,124.2 164.5,124.2 164.6,123.5 164.7,123.8 164.8,123.6 164.9,125 165,123 165.1,123.9 165.2,124.2 165.3,126.7 165.4,125.1 165.5,124.2 165.6,125.4 165.7,125.2 165.8,126.4 165.9,125.3 166,127.6 166.1,126.8 166.2,124.4 166.3,123.8 166.4,126 166.5,125.4 166.6,124.3 166.7,121.9 166.8,121.3 166.9,125.1 167,125.9 167,125.9 167.1,122.3 167.2,126.3 167.3,123.6 167.4,125.2 167.5,125.3 167.6,123.1 167.7,123.5 167.8,120.9 167.9,122.9 168,121.4 168.1,125.3 168.2,124.7 168.3,126.2 168.4,125.2 168.5,123.4 168.6,125.2 168.7,123.9 168.8,125.6 168.9,125.1 169,122.8 169.1,124.6 169.2,124.7 169.3,124 169.4,126.1 169.5,127.6 169.6,123.9 169.7,124 169.8,121 169.9,124.4 170,123.8 170,121 170.1,125.1 170.2,125.6 170.3,123.3 170.4,123.9 170.5,122.9 170.6,125.9 170.7,121.9 170.8,124 170.9,128 171,124.7 171.1,125.4 171.2,124.3 171.3,122.5 171.4,124.5 171.5,125.3 171.6,122.8 171.7,125.1 171.8,126.7 171.9,126.4 172,121.8 172.1,122.8 172.2,121.7 172.3,126.4 172.4,125.5 172.5,125.7 172.6,122.9 172.7,122.4 172.8,124.5 172.9,124.5 173,122.8 173,124.5 173.1,125.4 173.2,124.6 173.3,122.4 173.4,120.5 173.5,123.6 173.6,124.3 173.7,123.5 173.8,123.2 173.9,122.6 174,125 174.1,123.6 174.2,123.9 174.3,121.9 174.4,122.4 174.5,123.7 174.6,121.6 174.7,121.1 174.8,122.7 174.9,125.4 175,123.6 175.1,125.8 175.2,123 175.3,122.8 175.4,120.9 175.5,122.4 175.6,125.9 175.7,124.1 175.8,124.8 175.9,124.9 176,123.7 176,123.4 176.1,124 176.2,125.1 176.3,124.8 176.4,124.9 176.5,124.3 176.6,122.8 176.7,123.7 176.8,122.6 176.9,126 177,120.7 177.1,124 177.2,128 177.3,123.8 177.4,122.4 177.5,124.4 177.6,126.7 177.7,124.2 177.8,125.6 177.9,124.7 178,123.9 178.1,128.1 178.2,124.7 178.3,123.6 178.4,123.7 178.5,125.2 178.6,125.3 178.7,125.9 178.8,124.8 178.9,122 179,125.4 179.1,124 179.1,124 179.2,121.9 179.3,123.4 179.4,123.2 179.5,124.3 179.6,121.8 179.7,124.4 179.8,124.5 179.9,122.3 180,123.1 180.1,122.6 180.2,125.7 180.3,120.4 180.4,123.4 180.5,121 180.6,123 180.7,125.2 180.8,122.5 180.9,123.7 181,121.9 181.1,126.7 181.2,124.7 181.3,125 181.4,120.6 181.5,120.8 181.6,124.5 181.7,122.1 181.8,121.9 181.9,122.8 182,120 182.1,123.4 182.1,122 182.2,122.8 182.3,120.8 182.4,122.9 182.5,120.8 182.6,123.8 182.7,124.2 182.8,123.9 182.9,123.4 183,123.7 183.1,119.1 183.2,124.3 183.3,122.5 183.4,123.3 183.5,122.8 183.6,121 183.7,122.6 183.8,124.8 183.9,126.2 184,122.8 184.1,122.4 184.2,126.6 184.3,122.6 184.4,127.8 184.5,124.4 184.6,122.8 184.7,126.1 184.8,127.4 184.9,122 185,127.3 185.1,124.1 185.1,127.2 185.2,124 185.3,121.9 185.4,125.6 185.5,126.3 185.6,128.3 185.7,127.8 185.8,126 185.9,124.4 186,123.9 186.1,124.3 186.2,123.4 186.3,124.4 186.4,121.3 186.5,125.2 186.6,124.8 186.7,128.5 186.8,126.2 186.9,124.1 187,125.9 187.1,122.8 187.2,123.9 187.3,121.7 187.4,127.5 187.5,126 187.6,122.9 187.7,124.9 187.8,126.7 187.9,125.9 188,125.7 188.1,123.5 188.1,123.9 188.2,125.2 188.3,126.6 188.4,123.6 188.5,123.1 188.6,127 188.7,123.4 188.8,126.9 188.9,125.5 189,126.6 189.1,128.1 189.2,126.3 189.3,126.4 189.4,123.5 189.5,123.8 189.6,126.2 189.7,127.7 189.8,127.5 189.9,128.7 190,125.6 190.1,125.4 190.2,126.8 190.3,125.1 190.4,125 190.5,123.2 190.6,126.8 190.7,123.2 190.8,126 190.9,122.6 191,127 191.1,123.3 191.2,126.5 191.2,122.3 191.3,124.3 191.4,127.1 191.5,123.6 191.6,125.1 191.7,124.2 191.8,121.4 191.9,125.5 192,125.7 192.1,123 192.2,126 192.3,123.5 192.4,123.2 192.5,124.9 192.6,123.7 192.7,128.4 192.8,122.1 192.9,126.1 193,126.5 193.1,121.2 193.2,121.6 193.3,125.6 193.4,123.8 193.5,125.2 193.6,126.5 193.7,123.8 193.8,122.6 193.9,120.8 194,124.7 194.1,122.7 194.2,124.8 194.2,124.7 194.3,121.8 194.4,127.3 194.5,126.2 194.6,125.8 194.7,122.2 194.8,123.6 194.9,123.4 195,123.7 195.1,122.5 195.2,125.3 195.3,125 195.4,125.3 195.5,123.8 195.6,127 195.7,125.1 195.8,121.2 195.9,123.7 196,124.8 196.1,126.6 196.2,124.4 196.3,124.5 196.4,123.9 196.5,126.2 196.6,124.3 196.7,124 196.8,123.8 196.9,126.1 197,124.2 197.1,122.2 197.2,126.3 197.2,124 197.3,125.8 197.4,125.9 197.5,127.3 197.6,127.1 197.7,124.2 197.8,125 197.9,123 198,128.2 198.1,126 198.2,127.7 198.3,124.7 198.4,121.7 198.5,128 198.6,125.5 198.7,125.5 198.8,125.4 198.9,126.4 199,126.3 199.1,122.5 199.2,127.2 199.3,124.4 199.4,124.5 199.5,128.4 199.6,127 199.7,124.8 199.8,122.1 199.9,125.6 200,126.3 200.1,125.2 200.2,123.2 200.2,124 200.3,123.2 200.4,125.8 200.5,126.8 200.6,127.2 200.7,124.1 200.8,125.8 200.9,126.4 201,124.5 201.1,125.1 201.2,129 201.3,125.8 201.4,127 201.5,124.7 201.6,125.5 201.7,122.4 201.8,125.4 201.9,127.5 202,129 202.1,127.5 202.2,126.6 202.3,125.5 202.4,124.4 202.5,125.2 202.6,126.5 202.7,124.1 202.8,127.1 202.9,123.7 203,122.3 203.1,123.7 203.2,122.5 203.3,123.1 203.3,127.4 203.4,125.1 203.5,125.9 203.6,127.5 203.7,127.7 203.8,124.6 203.9,127.8 204,126.2 204.1,125.5 204.2,126.3 204.3,123 204.4,124.1 204.5,125.3 204.6,126.6 204.7,124.9 204.8,125.3 204.9,127.2 205,128 205.1,126.9 205.2,127.7 205.3,124.8 205.4,125 205.5,126.1 205.6,125 205.7,124.6 205.8,128.4 205.9,125.2 206,123.8 206.1,126.4 206.2,128.7 206.3,125.7 206.3,127.7 206.4,124.8 206.5,124.7 206.6,124.3 206.7,125.3 206.8,128.8 206.9,123.5 207,128.4 207,123.8 207,125.2 207,127 207,126.7 207,126.1 207,122.7 207,126.2" fill="none" stroke="#5aa5cd" stroke-width="0.9" stroke-linejoin="round" /><polyline points="20,94.8 20,100.2 20,96.2 20,96.9 20,94.6 20,95.7 20,94.3 20,98.3 20,96.1 20,97.6 20,95.4 20.1,95.7 20.2,98.9 20.3,94.9 20.4,93.5 20.5,97.3 20.6,94.6 20.7,95.8 20.8,98.2 20.9,95.2 21,98.2 21.1,95.4 21.2,99.2 21.3,98.9 21.4,95.8 21.5,96.3 21.6,95.2 21.7,97 21.8,98.6 21.8,94.1 21.9,98.2 22,94.3 22.1,95.1 22.2,93.5 22.3,100.2 22.4,96.7 22.5,97.1 22.6,95.5 22.7,98.5 22.8,93 22.9,96.7 23,100.3 23.1,96 23.2,96.7 23.3,97.8 23.4,95.2 23.5,96.7 23.6,98.3 23.7,97 23.8,97.3 23.9,96.1 24,97.2 24.1,96.8 24.2,99.2 24.3,97.9 24.4,96.3 24.5,93.1 24.6,97.9 24.7,98 24.8,95.1 24.8,93.2 24.9,94.7 25,98.3 25.1,94.8 25.2,95.9 25.3,97.1 25.4,98.8 25.5,96.7 25.6,96.5 25.7,95.7 25.8,99.6 25.9,98.6 26,96.5 26.1,94.3 26.2,95.3 26.3,97.7 26.4,95.5 26.5,98.3 26.6,97.4 26.7,97.2 26.8,97.9 26.9,97.6 27,95.2 27.1,96.2 27.2,100.3 27.3,94.6 27.4,95.9 27.5,98.6 27.6,96.5 27.7,95.3 27.8,94.4 27.8,97.7 27.9,98.5 28,99.2 28.1,96.8 28.2,98.6 28.3,94.9 28.4,97 28.5,95.6 28.6,97.1 28.7,98.1 28.8,98.6 28.9,95 29,99 29.1,95.9 29.2,95 29.3,96.5 29.4,94.2 29.5,96.8 29.6,97.3 29.7,96.4 29.8,97.7 29.9,96.2 30,96.8 30.1,94.3 30.2,96.9 30.3,95.3 30.4,96 30.5,96.6 30.6,97.1 30.7,93.9 30.8,94.1 30.8,96.3 30.9,97.6 31,97.4 31.1,98.4 31.2,99.1 31.3,97.7 31.4,96.8 31.5,95 31.6,95.2 31.7,96 31.8,97.3 31.9,97.2 32,96.8 32.1,96.6 32.2,97.9 32.3,97.2 32.4,97.3 32.5,97.4 32.6,95.9 32.7,95 32.8,97.7 32.9,97.6 33,96.5 33.1,96.1 33.2,100.4 33.3,95.5 33.4,96.5 33.5,97.3 33.6,94.8 33.7,97.1 33.8,100 33.9,98.5 33.9,98 34,97.9 34.1,97.1 34.2,98.5 34.3,96.6 34.4,96.1 34.5,97 34.6,98.5 34.7,97.4 34.8,98.1 34.9,93.3 35,99 35.1,100.5 35.2,99.2 35.3,96.3 35.4,95.4 35.5,97.4 35.6,95.2 35.7,98.2 35.8,96 35.9,98.6 36,99.3 36.1,93.3 36.2,97.4 36.3,95.7 36.4,94.4 36.5,95.8 36.6,96.5 36.7,98.7 36.8,94.2 36.9,98.7 36.9,100.4 37,98 37.1,97.9 37.2,96.9 37.3,94.9 37.4,97.9 37.5,97.6 37.6,98.2 37.7,100.5 37.8,98.2 37.9,97.7 38,99.7 38.1,94.6 38.2,94.9 38.3,96.3 38.4,95.8 38.5,98.2 38.6,96.4 38.7,100 38.8,99.6 38.9,98.3 39,96.3 39.1,98 39.2,98.4 39.3,95.1 39.4,97.6 39.5,98.2 39.6,97.3 39.7,99.7 39.8,99.1 39.9,95.5 39.9,97.2 40,95.5 40.1,98 40.2,95.5 40.3,98.6 40.4,97.7 40.5,98.7 40.6,96.7 40.7,94.4 40.8,100.1 40.9,96.7 41,99.4 41.1,97.7 41.2,98.2 41.3,100.2 41.4,97.6 41.5,99.4 41.6,94.4 41.7,98.5 41.8,96.6 41.9,96.8 42,97 42.1,97.6 42.2,99.9 42.3,93.8 42.4,97.1 42.5,95.8 42.6,99.1 42.7,96.3 42.8,97.8 42.9,96.3 42.9,98.2 43,98.8 43.1,96.3 43.2,97.1 43.3,94.5 43.4,97.6 43.5,98.5 43.6,96.1 43.7,99 43.8,93.4 43.9,93.8 44,94.6 44.1,96.2 44.2,97.1 44.3,96.9 44.4,96.9 44.5,98.3 44.6,96.2 44.7,94.8 44.8,94.9 44.9,100.7 45,93.5 45.1,96.7 45.2,99.6 45.3,97.9 45.4,95.6 45.5,97.1 45.6,98.6 45.7,99.2 45.8,95.5 45.9,98.4 46,97.5 46,99 46.1,99.5 46.2,96.5 46.3,94.5 46.4,97.8 46.5,100.2 46.6,98.3 46.7,97.5 46.8,100.7 46.9,95.3 47,98.7 47.1,96.1 47.2,97.2 47.3,97.3 47.4,99.7 47.5,95.5 47.6,96.2 47.7,94.3 47.8,98 47.9,96.3 48,97.8 48.1,95.2 48.2,96.5 48.3,98.9 48.4,96.8 48.5,98.2 48.6,98 48.7,96.5 48.8,94.4 48.9,98.8 49,97.4 49,98.8 49.1,93.6 49.2,94.2 49.3,93.5 49.4,95.6 49.5,99 49.6,98.1 49.7,97.1 49.8,97.4 49.9,98.5 50,96.6 50.1,97.8 50.2,97.4 50.3,93.5 50.4,96.5 50.5,99.5 50.6,96.5 50.7,96.9 50.8,96.1 50.9,96.3 51,99.1 51.1,96.7 51.2,95.4 51.3,93.6 51.4,96.2 51.5,93.7 51.6,94 51.7,98.6 51.8,98.4 51.9,93.8 52,98.7 52,98 52.1,95.8 52.2,98.5 52.3,94.3 52.4,95.1 52.5,94.7 52.6,95.2 52.7,98.7 52.8,94.9 52.9,95.2 53,95.5 53.1,97.5 53.2,96.6 53.3,98.7 53.4,96 53.5,94.9 53.6,96.3 53.7,97.3 53.8,95.6 53.9,97.7 54,100.4 54.1,96.2 54.2,97.3 54.3,99.6 54.4,96.1 54.5,95.7 54.6,95.3 54.7,97.9 54.8,98.1 54.9,96.9 55,97.3 55,99.4 55.1,98.7 55.2,94.7 55.3,97.2 55.4,97.4 55.5,98.5 55.6,96.8 55.7,96.1 55.8,96.4 55.9,94.1 56,97.1 56.1,96.1 56.2,98 56.3,95.4 56.4,96.4 56.5,95.5 56.6,95.3 56.7,98.4 56.8,96.4 56.9,98 57,95.2 57.1,97.4 57.2,94.2 57.3,96.4 57.4,96.3 57.5,98.2 57.6,97.5 57.7,96.9 57.8,98.7 57.9,97.5 58,98.1 58.1,98.5 58.1,97.1 58.2,96.7 58.3,97.8 58.4,96.5 58.5,97.9 58.6,99.1 58.7,98.7 58.8,96.5 58.9,95 59,97.1 59.1,97 59.2,99.1 59.3,96.5 59.4,96.8 59.5,98.5 59.6,96.4 59.7,96.9 59.8,100.2 59.9,99.8 60,98.3 60.1,97.7 60.2,95.5 60.3,98.2 60.4,97.3 60.5,97.6 60.6,96.3 60.7,97.2 60.8,96.9 60.9,97.8 61,99.7 61.1,97.9 61.1,94.3 61.2,95.5 61.3,94.5 61.4,95.8 61.5,98.2 61.6,97.9 61.7,96.2 61.8,97.7 61.9,95.9 62,94.8 62.1,94.8 62.2,95.7 62.3,99.7 62.4,94.9 62.5,99.4 62.6,99.6 62.7,96.9 62.8,97.2 62.9,96.2 63,97.2 63.1,98.4 63.2,97.3 63.3,99 63.4,99.3 63.5,97.8 63.6,97.8 63.7,97.1 63.8,97.8 63.9,95.3 64,98 64.1,97.6 64.1,95.7 64.2,100.9 64.3,95.5 64.4,95.7 64.5,97.7 64.6,93.9 64.7,95.9 64.8,94.6 64.9,95.6 65,97 65.1,97.8 65.2,99.2 65.3,98.7 65.4,99.3 65.5,98.3 65.6,96.4 65.7,99.2 65.8,96.4 65.9,96.2 66,99.9 66.1,98.6 66.2,97.6 66.3,98.6 66.4,98.8 66.5,94.9 66.6,97.1 66.7,95.2 66.8,97.5 66.9,96.1 67,99.6 67.1,98.1 67.1,95.8 67.2,97.2 67.3,95.1 67.4,97.3 67.5,98.2 67.6,97.7 67.7,93.9 67.8,96.6 67.9,98.1 68,97.8 68.1,99.2 68.2,95 68.3,98.1 68.4,96.1 68.5,97.5 68.6,97.9 68.7,98.4 68.8,96.2 68.9,97.5 69,95.1 69.1,94.7 69.2,98.2 69.3,97.1 69.4,94.3 69.5,95.7 69.6,97.2 69.7,99.9 69.8,99 69.9,98.5 70,94 70.1,97 70.2,98 70.2,97.8 70.3,97.8 70.4,96.7 70.5,100.2 70.6,99.7 70.7,96.9 70.8,95.4 70.9,100.7 71,96.1 71.1,99.1 71.2,100.4 71.3,95.4 71.4,97.5 71.5,96.4 71.6,97.9 71.7,97.5 71.8,100.3 71.9,98 72,96.9 72.1,98.9 72.2,96.4 72.3,96.2 72.4,100.5 72.5,95.3 72.6,95.9 72.7,96.8 72.8,94.8 72.9,93.1 73,98.4 73.1,95.1 73.2,95.5 73.2,95.7 73.3,94.6 73.4,94.3 73.5,96.4 73.6,99.7 73.7,97.2 73.8,97 73.9,93 74,95.4 74.1,93.2 74.2,96.4 74.3,94.5 74.4,94.7 74.5,94.3 74.6,93.2 74.7,91.3 74.8,94.7 74.9,90.9 75,91 75.1,92.2 75.2,91.2 75.3,92.5 75.4,93.5 75.5,91.9 75.6,91.5 75.7,91 75.8,92.2 75.9,87.3 76,91.1 76.1,88.8 76.2,88.2 76.2,90.5 76.3,89.9 76.4,91.8 76.5,93 76.6,87.8 76.7,91.5 76.8,95.3 76.9,93.8 77,95.1 77.1,93 77.2,90.7 77.3,91.5 77.4,95 77.5,95.7 77.6,93 77.7,94 77.8,95.2 77.9,91.9 78,94.5 78.1,98.1 78.2,99.2 78.3,95.4 78.4,99 78.5,95 78.6,94.6 78.7,92.6 78.8,97.9 78.9,95.6 79,100 79.1,97 79.2,96.8 79.2,93.3 79.3,99.2 79.4,96 79.5,96.4 79.6,93.2 79.7,98.3 79.8,98.5 79.9,95.7 80,96.9 80.1,97.5 80.2,98.5 80.3,97 80.4,99.8 80.5,96.4 80.6,95.8 80.7,96 80.8,93.4 80.9,95.5 81,98.6 81.1,97.3 81.2,95.5 81.3,97.5 81.4,93.4 81.5,96.4 81.6,97.8 81.7,98.1 81.8,95.5 81.9,98.5 82,100.1 82.1,96.1 82.2,98.2 82.3,94.1 82.3,93.4 82.4,97.9 82.5,96.9 82.6,97.2 82.7,95.8 82.8,96.3 82.9,98.2 83,99.8 83.1,96.4 83.2,93.8 83.3,98.9 83.4,97.7 83.5,97.9 83.6,97 83.7,100.3 83.8,96.7 83.9,97.5 84,93.3 84.1,95.5 84.2,95.3 84.3,96.4 84.4,97 84.5,95 84.6,99.3 84.7,94.4 84.8,95.4 84.9,96.6 85,93.9 85.1,97 85.2,97 85.3,95.3 85.3,99.1 85.4,95.8 85.5,96.1 85.6,93.8 85.7,92.4 85.8,94.1 85.9,94.5 86,94.1 86.1,96 86.2,90.9 86.3,92.2 86.4,90.8 86.5,96 86.6,92.4 86.7,92.1 86.8,90.7 86.9,93.7 87,91 87.1,91.6 87.2,87.1 87.3,92.1 87.4,90 87.5,89.6 87.6,90 87.7,86.7 87.8,85.9 87.9,86.5 88,85.1 88.1,82.9 88.2,82.4 88.3,80.4 88.3,81.4 88.4,80.8 88.5,78.2 88.6,80.5 88.7,73.7 88.8,75.2 88.9,78.1 89,74 89.1,71.8 89.2,77.1 89.3,75.8 89.4,73.2 89.5,77.3 89.6,74.9 89.7,75.2 89.8,78.3 89.9,78.7 90,78.6 90.1,81 90.2,80.8 90.3,83.7 90.4,84.5 90.5,86.8 90.6,85.5 90.7,84.8 90.8,85.5 90.9,88.1 91,91.9 91.1,91.2 91.2,89.1 91.3,92.4 91.3,89.1 91.4,93.3 91.5,91.2 91.6,93.5 91.7,93.5 91.8,92.1 91.9,93.3 92,91 92.1,92.9 92.2,95 92.3,96.8 92.4,94.5 92.5,93.4 92.6,91.5 92.7,95.2 92.8,90.5 92.9,92.1 93,94.2 93.1,91.5 93.2,96.5 93.3,95.8 93.4,93 93.5,93.2 93.6,92 93.7,92 93.8,95.4 93.9,95.9 94,95.6 94.1,95.6 94.2,94.3 94.3,96.1 94.4,93 94.4,95.7 94.5,98.4 94.6,98.3 94.7,95.2 94.8,95.6 94.9,98.7 95,99.5 95.1,93.8 95.2,95.8 95.3,97 95.4,98.8 95.5,95.2 95.6,97.9 95.7,96.3 95.8,100.5 95.9,97.7 96,96.7 96.1,96.4 96.2,98.9 96.3,98.2 96.4,95.2 96.5,97.5 96.6,94.8 96.7,95.8 96.8,94.9 96.9,94.9 97,96 97.1,95.5 97.2,98.2 97.3,98.7 97.4,96.9 97.4,95.4 97.5,98.7 97.6,93.8 97.7,94 97.8,98.7 97.9,98.5 98,99.1 98.1,97 98.2,95.2 98.3,96.5 98.4,98.4 98.5,96.1 98.6,96.2 98.7,95 98.8,95.4 98.9,99 99,98.3 99.1,95.5 99.2,95.6 99.3,96.5 99.4,98.5 99.5,95.5 99.6,97.2 99.7,94 99.8,95.3 99.9,98.3 100,99.1 100.1,95.5 100.2,96.2 100.3,98.9 100.4,96.9 100.4,96.6 100.5,98.5 100.6,97.9 100.7,99.5 100.8,98.9 100.9,96.5 101,97.3 101.1,97.4 101.2,95.2 101.3,95.8 101.4,99.3 101.5,94.8 101.6,99.3 101.7,98 101.8,97.3 101.9,98.5 102,98.4 102.1,99.6 102.2,96.8 102.3,97.1 102.4,97.1 102.5,100.8 102.6,99.1 102.7,95.8 102.8,96.9 102.9,96.2 103,97.4 103.1,97.8 103.2,101.1 103.3,94.2 103.4,99.2 103.4,98.1 103.5,96.1 103.6,97 103.7,96.4 103.8,97.3 103.9,98.9 104,94.5 104.1,99.4 104.2,96.4 104.3,99.6 104.4,97.6 104.5,99 104.6,97.7 104.7,98.6 104.8,96.7 104.9,95 105,97.5 105.1,97.4 105.2,99.7 105.3,92.4 105.4,95.4 105.5,97.4 105.6,93.1 105.7,94.7 105.8,98.5 105.9,97 106,92.7 106.1,96.4 106.2,95.7 106.3,94.6 106.4,93.5 106.5,92.9 106.5,90.5 106.6,90.8 106.7,92.5 106.8,91.1 106.9,93.7 107,89.5 107.1,86.2 107.2,88.9 107.3,89.8 107.4,89.8 107.5,89.2 107.6,87.7 107.7,91.9 107.8,88.3 107.9,90.9 108,89.5 108.1,88.2 108.2,93.2 108.3,87.6 108.4,90 108.5,92.7 108.6,91.7 108.7,94.1 108.8,93 108.9,92.7 109,97.5 109.1,93.8 109.2,94.2 109.3,92.9 109.4,93.7 109.5,96.4 109.5,96.5 109.6,95.8 109.7,94.7 109.8,97.3 109.9,93.3 110,95.8 110.1,96.1 110.2,95.2 110.3,97.1 110.4,95.7 110.5,95.6 110.6,100.2 110.7,98.5 110.8,99.3 110.9,97.4 111,99 111.1,98.8 111.2,99.6 111.3,101.1 111.4,97.1 111.5,98 111.6,97.5 111.7,94.1 111.8,95.2 111.9,97.7 112,98.8 112.1,96.7 112.2,99.8 112.3,100 112.4,97.1 112.5,100.3 112.5,100.9 112.6,98.7 112.7,96.2 112.8,100.5 112.9,97.6 113,97.3 113.1,98.2 113.2,97 113.3,99.9 113.4,99.3 113.5,100.1 113.6,99 113.7,96.6 113.8,97.8 113.9,99.6 114,97.3 114.1,101.7 114.2,97.6 114.3,97.1 114.4,100.1 114.5,99.4 114.6,98.1 114.7,97.7 114.8,98.9 114.9,99.6 115,99.5 115.1,97.6 115.2,98.9 115.3,99.6 115.4,99.5 115.5,94.6 115.5,96.6 115.6,96.8 115.7,97.8 115.8,98.5 115.9,99.8 116,99.3 116.1,98 116.2,98.2 116.3,101.3 116.4,97.1 116.5,98.8 116.6,101 116.7,98.8 116.8,94.7 116.9,98.9 117,97.6 117.1,98.1 117.2,100.1 117.3,99.1 117.4,97.8 117.5,99.8 117.6,99 117.7,98.5 117.8,98.8 117.9,98.7 118,97.7 118.1,97.5 118.2,98.3 118.3,96.6 118.4,96.1 118.5,100.6 118.6,97.9 118.6,98.3 118.7,98.1 118.8,98.4 118.9,98.4 119,98.4 119.1,96.9 119.2,100 119.3,97.1 119.4,100.1 119.5,95 119.6,96.5 119.7,100.1 119.8,98.1 119.9,97.2 120,99 120.1,96.5 120.2,98.5 120.3,94.8 120.4,97.6 120.5,97.2 120.6,99.3 120.7,99.9 120.8,96.9 120.9,101.2 121,97.3 121.1,94.8 121.2,94.8 121.3,101.1 121.4,98.2 121.5,97.2 121.6,97.1 121.6,96.5 121.7,100.8 121.8,98.2 121.9,101.5 122,98 122.1,94.8 122.2,99.9 122.3,97.8 122.4,98 122.5,101.1 122.6,97.9 122.7,100.4 122.8,98.4 122.9,97.1 123,99.3 123.1,97.4 123.2,100.6 123.3,100.1 123.4,98.5 123.5,99.5 123.6,99.4 123.7,97.9 123.8,100 123.9,98 124,99.5 124.1,96.8 124.2,98.6 124.3,99.1 124.4,97 124.5,97.7 124.6,97.5 124.6,99.7 124.7,97.2 124.8,99.2 124.9,101.1 125,99.1 125.1,95.6 125.2,98.7 125.3,100.3 125.4,97.9 125.5,100.4 125.6,99.5 125.7,99.2 125.8,98 125.9,97.5 126,98 126.1,98.5 126.2,99.4 126.3,99.2 126.4,97.9 126.5,98.6 126.6,99.1 126.7,95.6 126.8,97.1 126.9,97 127,98.1 127.1,97.9 127.2,98 127.3,96.9 127.4,99.6 127.5,98.9 127.6,95.5 127.6,98.4 127.7,96.4 127.8,101.4 127.9,97.6 128,97.7 128.1,98.5 128.2,98 128.3,98.3 128.4,101.1 128.5,98.8 128.6,99.8 128.7,100.3 128.8,96.6 128.9,101.3 129,99.5 129.1,100 129.2,96.8 129.3,99.7 129.4,99 129.5,97.3 129.6,101.8 129.7,99.2 129.8,97.7 129.9,98.5 130,99.7 130.1,100 130.2,99 130.3,100.1 130.4,100.5 130.5,95.7 130.6,97 130.7,96.1 130.7,97.8 130.8,100.1 130.9,98.7 131,95.6 131.1,96.8 131.2,99 131.3,96.2 131.4,96.8 131.5,97.4 131.6,93.5 131.7,98 131.8,97 131.9,97.3 132,94.5 132.1,94.7 132.2,94.9 132.3,96.3 132.4,95.8 132.5,95.9 132.6,98.7 132.7,97.9 132.8,94.3 132.9,94.5 133,98.7 133.1,95.2 133.2,98.3 133.3,98.8 133.4,95.1 133.5,95.7 133.6,96.5 133.7,95 133.7,94.9 133.8,96 133.9,98.4 134,96.2 134.1,96.7 134.2,96.4 134.3,94.9 134.4,100 134.5,93.9 134.6,96.4 134.7,98.6 134.8,95.3 134.9,98.8 135,100 135.1,96.4 135.2,98.3 135.3,96 135.4,98.9 135.5,98.2 135.6,98.4 135.7,100.4 135.8,98.9 135.9,100.4 136,99.2 136.1,96 136.2,98.6 136.3,99 136.4,95.6 136.5,100.4 136.6,98.2 136.7,98.7 136.7,96.5 136.8,98.2 136.9,98.6 137,97.5 137.1,98.2 137.2,94.4 137.3,100.4 137.4,96 137.5,94.3 137.6,96.2 137.7,96.4 137.8,98.8 137.9,96.2 138,98.2 138.1,96 138.2,101.2 138.3,98.5 138.4,100.9 138.5,95.6 138.6,98.4 138.7,95.5 138.8,98 138.9,98.1 139,93.9 139.1,94.6 139.2,94.3 139.3,93.5 139.4,94.7 139.5,94 139.6,92.9 139.7,95.4 139.7,95.8 139.8,92.3 139.9,93.3 140,93.9 140.1,93.2 140.2,92 140.3,94.3 140.4,94 140.5,93.3 140.6,91.4 140.7,95 140.8,94.3 140.9,90.3 141,90.6 141.1,92.8 141.2,89.3 141.3,91.5 141.4,91 141.5,89.9 141.6,90.9 141.7,88.9 141.8,91 141.9,88.8 142,96.3 142.1,95.7 142.2,95.6 142.3,94.3 142.4,95.9 142.5,96.7 142.6,96.5 142.7,96.7 142.8,93.7 142.8,96.4 142.9,94.9 143,94 143.1,94.3 143.2,97.2 143.3,98.5 143.4,94.4 143.5,100 143.6,99.7 143.7,96.6 143.8,96.5 143.9,97.3 144,99.3 144.1,96.9 144.2,95.8 144.3,98.4 144.4,94.2 144.5,98.1 144.6,99.9 144.7,98.5 144.8,99.4 144.9,98.9 145,99.3 145.1,98.3 145.2,96.7 145.3,97.7 145.4,98 145.5,100.4 145.6,101 145.7,98.9 145.8,96.9 145.8,97 145.9,97.9 146,100.7 146.1,98.8 146.2,98.2 146.3,96.9 146.4,99.8 146.5,98.8 146.6,98.2 146.7,98.5 146.8,101.2 146.9,98 147,101.3 147.1,100.5 147.2,98.4 147.3,99.8 147.4,98.1 147.5,96.8 147.6,97.8 147.7,96.7 147.8,99.2 147.9,98.3 148,99.3 148.1,99.7 148.2,94.6 148.3,98.8 148.4,95.1 148.5,98.5 148.6,96.7 148.7,98.4 148.8,100.6 148.8,95.2 148.9,98.5 149,98 149.1,94.8 149.2,99.2 149.3,98.1 149.4,97.1 149.5,96.7 149.6,101.6 149.7,97.3 149.8,94.8 149.9,96.3 150,97.2 150.1,97.1 150.2,97.6 150.3,95.9 150.4,98.6 150.5,96.8 150.6,95.2 150.7,96.1 150.8,96.8 150.9,98.8 151,98.1 151.1,96.6 151.2,97.1 151.3,97.4 151.4,100.4 151.5,95.6 151.6,97.4 151.7,97.7 151.8,94.6 151.8,96.4 151.9,96.1 152,94.7 152.1,96.3 152.2,96.8 152.3,96.6 152.4,93.9 152.5,94.2 152.6,97 152.7,91 152.8,92.8 152.9,93.4 153,91.5 153.1,91.7 153.2,90.1 153.3,90.4 153.4,90.5 153.5,87 153.6,86.8 153.7,85.5 153.8,83.9 153.9,83.6 154,80.7 154.1,83.1 154.2,83.9 154.3,83.1 154.4,81.6 154.5,77.1 154.6,81.1 154.7,76.9 154.8,78 154.9,81.5 154.9,76.7 155,80.6 155.1,80.2 155.2,80.2 155.3,79.8 155.4,83 155.5,82.4 155.6,86 155.7,87.3 155.8,83.7 155.9,86.1 156,87.3 156.1,86.6 156.2,87.6 156.3,90.4 156.4,90.6 156.5,88.7 156.6,91.3 156.7,93.7 156.8,91.2 156.9,92.1 157,97 157.1,96.9 157.2,92.1 157.3,92.9 157.4,96.2 157.5,93.8 157.6,95.6 157.7,95.5 157.8,97.5 157.9,93.1 157.9,93.2 158,94.8 158.1,98.9 158.2,97 158.3,94.4 158.4,98.3 158.5,98.8 158.6,97.2 158.7,97.1 158.8,98.5 158.9,100 159,98.2 159.1,98.9 159.2,97.9 159.3,97.4 159.4,96.5 159.5,98.6 159.6,97.7 159.7,97.8 159.8,99.9 159.9,99.2 160,99.9 160.1,95.6 160.2,99.4 160.3,97.4 160.4,97 160.5,97 160.6,100.6 160.7,100 160.8,97.3 160.9,96.6 160.9,98.6 161,97.8 161.1,101.5 161.2,96.1 161.3,95.5 161.4,98.3 161.5,98.7 161.6,99 161.7,100.1 161.8,102.4 161.9,98.2 162,97.8 162.1,95.7 162.2,99.2 162.3,100.3 162.4,98.4 162.5,100.9 162.6,98.9 162.7,101.5 162.8,99.5 162.9,97.1 163,97.8 163.1,96.2 163.2,95.9 163.3,99.4 163.4,100.5 163.5,102.4 163.6,98.9 163.7,98.6 163.8,97 163.9,100.7 163.9,99.7 164,98 164.1,100.2 164.2,100 164.3,95.8 164.4,100.3 164.5,99.3 164.6,98.4 164.7,98.3 164.8,102.1 164.9,101.8 165,102.3 165.1,97.1 165.2,97.9 165.3,100.7 165.4,97 165.5,97.8 165.6,96 165.7,102.4 165.8,101 165.9,99.9 166,99.5 166.1,98.4 166.2,98.4 166.3,100.2 166.4,97.9 166.5,101.3 166.6,98.3 166.7,97.6 166.8,101.4 166.9,98.9 167,100.1 167,98.5 167.1,95.6 167.2,100.1 167.3,96.8 167.4,101.1 167.5,96.5 167.6,95.9 167.7,99.7 167.8,100 167.9,99.4 168,97.1 168.1,100.8 168.2,96.7 168.3,98.4 168.4,97.8 168.5,98.6 168.6,100.7 168.7,98.1 168.8,100.2 168.9,100.5 169,96.2 169.1,97.2 169.2,98.6 169.3,98.2 169.4,99.8 169.5,95.9 169.6,100.5 169.7,100.6 169.8,99 169.9,96.8 170,99.3 170,98.3 170.1,100.2 170.2,99.1 170.3,100.5 170.4,98.5 170.5,101.8 170.6,95.7 170.7,97.5 170.8,100.1 170.9,96.6 171,100.5 171.1,97.1 171.2,99.4 171.3,97.6 171.4,98.5 171.5,99.5 171.6,99 171.7,98.5 171.8,102.8 171.9,99.2 172,97.5 172.1,100.8 172.2,100.6 172.3,101.3 172.4,102.3 172.5,97.5 172.6,101 172.7,101.1 172.8,99.1 172.9,99.5 173,95.4 173,98 173.1,102.1 173.2,95.8 173.3,97.9 173.4,99.3 173.5,99.8 173.6,101.5 173.7,95.6 173.8,98.7 173.9,100 174,96.2 174.1,98.3 174.2,101.6 174.3,100.6 174.4,99.1 174.5,94.5 174.6,97.8 174.7,98.7 174.8,97.4 174.9,97.8 175,101.5 175.1,97.6 175.2,96.2 175.3,98.4 175.4,97.4 175.5,97.5 175.6,97.9 175.7,99.5 175.8,98.6 175.9,96.2 176,98.1 176,99.3 176.1,97.7 176.2,100.6 176.3,100 176.4,96.9 176.5,99.3 176.6,102.3 176.7,101.6 176.8,98.8 176.9,100.5 177,97.8 177.1,96.5 177.2,100 177.3,99.5 177.4,100 177.5,99.1 177.6,99.7 177.7,98.2 177.8,100 177.9,100.6 178,99.1 178.1,100.6 178.2,96.1 178.3,97.8 178.4,101.7 178.5,102.3 178.6,99.6 178.7,99 178.8,97 178.9,99.8 179,100.5 179.1,96.6 179.1,100.1 179.2,100 179.3,99.9 179.4,97.1 179.5,100 179.6,96.4 179.7,101.6 179.8,99.2 179.9,96.9 180,101.2 180.1,100.8 180.2,97.6 180.3,102.3 180.4,96.9 180.5,99.1 180.6,100.5 180.7,94.8 180.8,100 180.9,98 181,98 181.1,96 181.2,98.4 181.3,95.7 181.4,95.8 181.5,96.6 181.6,95.1 181.7,99.9 181.8,94.7 181.9,95.6 182,96.2 182.1,96.7 182.1,98.1 182.2,98.1 182.3,96.1 182.4,96 182.5,96.8 182.6,98.2 182.7,98.1 182.8,96.1 182.9,93.5 183,100.8 183.1,99 183.2,98 183.3,98.3 183.4,96.9 183.5,96.2 183.6,97.5 183.7,97.8 183.8,97.2 183.9,95.8 184,98 184.1,99.6 184.2,97.8 184.3,98.8 184.4,95.2 184.5,98.5 184.6,98.8 184.7,96.9 184.8,96.1 184.9,99.9 185,97.8 185.1,100.1 185.1,98.5 185.2,100.4 185.3,98.7 185.4,96.7 185.5,99.2 185.6,98.8 185.7,100.6 185.8,98.6 185.9,98.8 186,101 186.1,101.5 186.2,100.8 186.3,101.3 186.4,100.3 186.5,100.9 186.6,101.1 186.7,100.3 186.8,99.7 186.9,99.8 187,103.2 187.1,99.6 187.2,99.2 187.3,99 187.4,99.5 187.5,100 187.6,97.6 187.7,96.2 187.8,100.1 187.9,96.8 188,100.1 188.1,99.9 188.1,101.7 188.2,102.6 188.3,100.3 188.4,98.7 188.5,97.6 188.6,98.3 188.7,99.7 188.8,96.1 188.9,99.8 189,99.7 189.1,100.8 189.2,99.1 189.3,99.9 189.4,98.4 189.5,98.9 189.6,96.6 189.7,99.9 189.8,102.4 189.9,100 190,100.3 190.1,98 190.2,102.2 190.3,98.4 190.4,101.1 190.5,99.9 190.6,98 190.7,101.5 190.8,99.7 190.9,100 191,100.5 191.1,99.7 191.2,99 191.2,100.5 191.3,99 191.4,99.8 191.5,98.5 191.6,97.1 191.7,98.5 191.8,98.8 191.9,99.7 192,101.7 192.1,96.6 192.2,99.8 192.3,96 192.4,97.7 192.5,98.6 192.6,95.9 192.7,96.2 192.8,99.7 192.9,99.5 193,99.2 193.1,97.9 193.2,102.9 193.3,99 193.4,97.7 193.5,102.1 193.6,100.2 193.7,98.4 193.8,101.1 193.9,99.3 194,100.1 194.1,99.4 194.2,97.1 194.2,100.6 194.3,99.2 194.4,97.1 194.5,97.6 194.6,100.6 194.7,98.3 194.8,99.1 194.9,100.2 195,99.3 195.1,96.4 195.2,100.3 195.3,100.8 195.4,100.8 195.5,102.1 195.6,100 195.7,100.7 195.8,102.2 195.9,99 196,102.5 196.1,102.6 196.2,100.9 196.3,102.8 196.4,101.1 196.5,98.1 196.6,101.7 196.7,100.3 196.8,100.5 196.9,100 197,102.1 197.1,100.8 197.2,98.6 197.2,100.7 197.3,101.1 197.4,98.6 197.5,99.1 197.6,99.2 197.7,98.8 197.8,100.5 197.9,101.7 198,103.2 198.1,102 198.2,101.7 198.3,101.9 198.4,102.3 198.5,99.3 198.6,101.1 198.7,100.5 198.8,99.7 198.9,99.1 199,99.1 199.1,99.5 199.2,97.8 199.3,100.9 199.4,99.9 199.5,100.1 199.6,100.6 199.7,101.2 199.8,98.9 199.9,99.8 200,97.2 200.1,96.4 200.2,96.6 200.2,102.7 200.3,96.8 200.4,100.8 200.5,102.6 200.6,99.2 200.7,102.9 200.8,103.2 200.9,101.7 201,103.6 201.1,101.1 201.2,98.7 201.3,100.9 201.4,99.3 201.5,97.8 201.6,97.8 201.7,103.6 201.8,99.1 201.9,100 202,98.9 202.1,100.3 202.2,99.6 202.3,99.3 202.4,97.9 202.5,97.6 202.6,98.8 202.7,100.6 202.8,103.7 202.9,101.9 203,103.3 203.1,100.9 203.2,99.9 203.3,97.8 203.3,100.1 203.4,96.5 203.5,99.6 203.6,103 203.7,100.7 203.8,102.1 203.9,99.5 204,97.7 204.1,99.3 204.2,99.4 204.3,102.2 204.4,103.6 204.5,98.8 204.6,99.5 204.7,99.9 204.8,99.5 204.9,98 205,100.3 205.1,100.8 205.2,100.8 205.3,98.1 205.4,100 205.5,97.1 205.6,101.8 205.7,98.4 205.8,99.7 205.9,99.4 206,99.2 206.1,98.3 206.2,97.1 206.3,103.2 206.3,100.6 206.4,100.7 206.5,103.7 206.6,100 206.7,101.2 206.8,100.2 206.9,102.3 207,101.1 207,100.8 207,99.8 207,100.7 207,102.3 207,96.6 207,100 207,99.5" fill="none" stroke="#eea236" stroke-width="0.9" stroke-linejoin="round" /><polyline points="20,69.2 20,66.3 20,71 20,68.3 20,69.3 20,68.9 20,66.8 20,69 20,66.5 20,68.1 20,69.2 20.1,69.8 20.2,69.9 20.3,69.5 20.4,73.3 20.5,70.5 20.6,67.6 20.7,68.7 20.8,68.6 20.9,69.5 21,68.7 21.1,68.3 21.2,72.7 21.3,69.9 21.4,69.2 21.5,69.4 21.6,69.4 21.7,72.2 21.8,70.6 21.8,71.8 21.9,66.1 22,70.4 22.1,71.7 22.2,73.3 22.3,69.9 22.4,66.8 22.5,70.9 22.6,68.8 22.7,66.7 22.8,68.7 22.9,71.7 23,71.9 23.1,71.1 23.2,68 23.3,73.4 23.4,67.8 23.5,69.7 23.6,67.3 23.7,72.2 23.8,70.6 23.9,71.4 24,70 24.1,69.7 24.2,70.2 24.3,66.6 24.4,71.6 24.5,71.5 24.6,69.2 24.7,69.9 24.8,70.4 24.8,72.6 24.9,70.6 25,70 25.1,69 25.2,67.3 25.3,68.9 25.4,70 25.5,69.5 25.6,70 25.7,71.2 25.8,70.7 25.9,70.4 26,71.1 26.1,70.3 26.2,69.9 26.3,70.8 26.4,66.9 26.5,72.1 26.6,67.7 26.7,71.4 26.8,70 26.9,71.9 27,70 27.1,68.3 27.2,71.8 27.3,70.3 27.4,70.2 27.5,70.1 27.6,71.7 27.7,71.4 27.8,70.4 27.8,67.3 27.9,69.3 28,70.2 28.1,73.1 28.2,70.7 28.3,69.8 28.4,72.1 28.5,69.8 28.6,70 28.7,70.3 28.8,67.4 28.9,71.7 29,70.8 29.1,69.5 29.2,68 29.3,70.4 29.4,72.5 29.5,68.9 29.6,68.2 29.7,70.8 29.8,67.2 29.9,66.3 30,69.3 30.1,68.8 30.2,69.6 30.3,69.1 30.4,70.6 30.5,69.7 30.6,69 30.7,69.3 30.8,71.2 30.8,71.7 30.9,71.6 31,71.3 31.1,66.4 31.2,68.3 31.3,69.5 31.4,70.4 31.5,67.3 31.6,72.6 31.7,70.6 31.8,69 31.9,70.4 32,69.5 32.1,68.8 32.2,71 32.3,69.3 32.4,67.6 32.5,69 32.6,69.9 32.7,68.2 32.8,72.3 32.9,68.2 33,73.2 33.1,71.7 33.2,68.5 33.3,70.4 33.4,72.2 33.5,69.8 33.6,68.1 33.7,70.3 33.8,73.6 33.9,67.5 33.9,71.1 34,70.2 34.1,70 34.2,69.5 34.3,69.6 34.4,72 34.5,71.2 34.6,68.4 34.7,72.9 34.8,67.9 34.9,71.3 35,70.5 35.1,72.3 35.2,70.8 35.3,72 35.4,70.2 35.5,71.9 35.6,70.8 35.7,73.7 35.8,69 35.9,72.3 36,71 36.1,70.5 36.2,69.2 36.3,71 36.4,67.6 36.5,67.8 36.6,71.5 36.7,67.5 36.8,72.7 36.9,69.8 36.9,70.7 37,70.4 37.1,71 37.2,69.8 37.3,69.6 37.4,70 37.5,72.1 37.6,72.2 37.7,72.5 37.8,70.9 37.9,69.9 38,67.3 38.1,71.4 38.2,71.7 38.3,69.6 38.4,71.7 38.5,72.5 38.6,70.4 38.7,72.1 38.8,70.8 38.9,67.3 39,69.5 39.1,69.6 39.2,71.2 39.3,68.8 39.4,69.5 39.5,68.6 39.6,70.2 39.7,70.4 39.8,72 39.9,71.7 39.9,70.6 40,70.7 40.1,70.5 40.2,70.5 40.3,73 40.4,66.6 40.5,70 40.6,70.9 40.7,72.3 40.8,68.4 40.9,70.9 41,71.8 41.1,69.6 41.2,67 41.3,69.7 41.4,68.2 41.5,71.5 41.6,68.9 41.7,73.5 41.8,70.6 41.9,69 42,69.5 42.1,68.5 42.2,71.1 42.3,73 42.4,70 42.5,72 42.6,68.7 42.7,70.9 42.8,73.8 42.9,67.9 42.9,72.5 43,72.4 43.1,67.1 43.2,67.9 43.3,68.7 43.4,72.1 43.5,69.6 43.6,70.1 43.7,71.6 43.8,70.6 43.9,70.8 44,69.8 44.1,72.4 44.2,69.1 44.3,73.3 44.4,69.8 44.5,69 44.6,71.6 44.7,71.2 44.8,67 44.9,70.8 45,68.1 45.1,69 45.2,71.8 45.3,68.9 45.4,71.1 45.5,69.8 45.6,73.8 45.7,70.3 45.8,68.4 45.9,68.5 46,68.9 46,70.7 46.1,70.4 46.2,72.1 46.3,70.7 46.4,70.7 46.5,71 46.6,70.2 46.7,71 46.8,71.8 46.9,71.8 47,69.5 47.1,67.4 47.2,69.1 47.3,71 47.4,66.8 47.5,69.6 47.6,71.3 47.7,69.5 47.8,68.5 47.9,73.5 48,72.9 48.1,70 48.2,72.8 48.3,72.8 48.4,68.5 48.5,74 48.6,68.8 48.7,70 48.8,68.6 48.9,70.6 49,68.2 49,70.5 49.1,72.4 49.2,70.9 49.3,70 49.4,73.2 49.5,68.9 49.6,72.2 49.7,70 49.8,70.9 49.9,70.6 50,70.7 50.1,70.4 50.2,69.1 50.3,69.5 50.4,71.3 50.5,70.3 50.6,68.5 50.7,69.3 50.8,69.3 50.9,70.4 51,70.8 51.1,70.7 51.2,69.4 51.3,70.6 51.4,68.1 51.5,66.8 51.6,70.4 51.7,67.6 51.8,68.9 51.9,68.4 52,71.6 52,68.4 52.1,71 52.2,69.7 52.3,68.4 52.4,67.8 52.5,71.3 52.6,71.2 52.7,71.9 52.8,73.7 52.9,71 53,71 53.1,70.3 53.2,70.7 53.3,69.9 53.4,69 53.5,74 53.6,67.3 53.7,71 53.8,71.3 53.9,70.8 54,68.8 54.1,70.2 54.2,69.7 54.3,68.7 54.4,70.5 54.5,69.8 54.6,69.6 54.7,71.7 54.8,68.7 54.9,71.3 55,69.5 55,71.3 55.1,70.7 55.2,71 55.3,68.8 55.4,69.2 55.5,69 55.6,70.8 55.7,71.8 55.8,72.4 55.9,69.7 56,70.7 56.1,67.7 56.2,67 56.3,69 56.4,69.4 56.5,67.8 56.6,67.4 56.7,71.5 56.8,69.1 56.9,67.6 57,74.2 57.1,70.8 57.2,70 57.3,71.7 57.4,69.2 57.5,73.3 57.6,67.9 57.7,68.3 57.8,70.3 57.9,69.2 58,73 58.1,67.8 58.1,69.3 58.2,71 58.3,71.5 58.4,72.3 58.5,71.2 58.6,74.2 58.7,69.7 58.8,70.9 58.9,72 59,70 59.1,70 59.2,69.7 59.3,69.4 59.4,68.6 59.5,69.6 59.6,67.9 59.7,71.2 59.8,67.8 59.9,74.2 60,73.5 60.1,72.5 60.2,70.2 60.3,69.5 60.4,72.7 60.5,70.9 60.6,71.5 60.7,69.3 60.8,72.4 60.9,69.2 61,70.8 61.1,67.6 61.1,69.4 61.2,71.4 61.3,69.8 61.4,69.8 61.5,71.9 61.6,70.4 61.7,72.7 61.8,67.1 61.9,71.6 62,71.5 62.1,67.9 62.2,68.3 62.3,72.1 62.4,68.7 62.5,69.5 62.6,71.6 62.7,70 62.8,71.4 62.9,69.1 63,71.1 63.1,72.5 63.2,71.2 63.3,67.1 63.4,71.7 63.5,70.7 63.6,69 63.7,73 63.8,67.6 63.9,73.9 64,69.5 64.1,73.3 64.1,70.5 64.2,68.3 64.3,70.8 64.4,71.2 64.5,71.6 64.6,72.5 64.7,69 64.8,71.5 64.9,71.9 65,70.1 65.1,69 65.2,69 65.3,71.9 65.4,72 65.5,69.2 65.6,68.3 65.7,72.8 65.8,67.9 65.9,70.9 66,69.2 66.1,67.6 66.2,70.8 66.3,70.3 66.4,73.1 66.5,74.3 66.6,70.3 66.7,72.4 66.8,72.4 66.9,69.7 67,69.1 67.1,73.4 67.1,70 67.2,70.6 67.3,70.1 67.4,70.4 67.5,69.6 67.6,71.9 67.7,72.8 67.8,70 67.9,68.2 68,70.7 68.1,68 68.2,69.5 68.3,72.8 68.4,74.3 68.5,71.3 68.6,68.8 68.7,72 68.8,67.1 68.9,69.4 69,73.3 69.1,71.9 69.2,68.2 69.3,67.7 69.4,72.1 69.5,70.5 69.6,69.6 69.7,71.3 69.8,69.6 69.9,67.2 70,72 70.1,69.5 70.2,68.8 70.2,68.3 70.3,71 70.4,69.2 70.5,71.6 70.6,70.1 70.7,72.4 70.8,69.9 70.9,69.4 71,67.1 71.1,68.6 71.2,71.8 71.3,74.2 71.4,68.3 71.5,68.7 71.6,71.1 71.7,71.3 71.8,69.3 71.9,70.6 72,67.6 72.1,69.9 72.2,72 72.3,73.2 72.4,70.1 72.5,69.9 72.6,71.1 72.7,72.2 72.8,71.1 72.9,68.9 73,70.8 73.1,71.8 73.2,68.9 73.2,67.7 73.3,70.9 73.4,70.6 73.5,71.6 73.6,70 73.7,68.6 73.8,68.9 73.9,67.7 74,67.7 74.1,68.2 74.2,68.2 74.3,70.8 74.4,66.4 74.5,68.2 74.6,66.9 74.7,70.2 74.8,67.6 74.9,66.1 75,67.6 75.1,65.7 75.2,64.2 75.3,67 75.4,64.9 75.5,65.9 75.6,64.2 75.7,62.8 75.8,61.1 75.9,58.5 76,61.2 76.1,60 76.2,61.1 76.2,60.1 76.3,59.4 76.4,59.4 76.5,63.1 76.6,64.8 76.7,62.8 76.8,64.8 76.9,67.1 77,63.9 77.1,65.3 77.2,64.5 77.3,69 77.4,67.9 77.5,67 77.6,65.3 77.7,68.1 77.8,70.4 77.9,68.4 78,68.4 78.1,70.4 78.2,67.3 78.3,69.7 78.4,70.7 78.5,68.4 78.6,68.4 78.7,70.4 78.8,69.8 78.9,69.7 79,70.5 79.1,70.5 79.2,68.6 79.2,69.1 79.3,71 79.4,72.2 79.5,72.7 79.6,68.9 79.7,72.3 79.8,71.7 79.9,70.3 80,71.3 80.1,71.9 80.2,73.5 80.3,68.6 80.4,71.5 80.5,70.2 80.6,70.1 80.7,72.5 80.8,71.9 80.9,68.7 81,70 81.1,70.9 81.2,68.1 81.3,72 81.4,70.4 81.5,70.8 81.6,71.1 81.7,73.6 81.8,70.6 81.9,69.9 82,73.5 82.1,69.6 82.2,69.6 82.3,68.1 82.3,72.4 82.4,70.9 82.5,71.3 82.6,70.7 82.7,70.2 82.8,69.1 82.9,69.1 83,71.2 83.1,70.6 83.2,73.2 83.3,69.1 83.4,69.5 83.5,68.6 83.6,72.7 83.7,68.2 83.8,71.6 83.9,72.7 84,70 84.1,71.4 84.2,66.6 84.3,69.5 84.4,67.2 84.5,70.4 84.6,70 84.7,68.6 84.8,71.6 84.9,70.5 85,68.9 85.1,68.9 85.2,67.2 85.3,69.3 85.3,73.2 85.4,68.3 85.5,70.2 85.6,68.4 85.7,70.6 85.8,69.9 85.9,68.6 86,65.8 86.1,67.9 86.2,70.7 86.3,68 86.4,69.3 86.5,67.2 86.6,64.6 86.7,68.2 86.8,67.7 86.9,65.8 87,65.7 87.1,66.4 87.2,64.3 87.3,65.2 87.4,63.5 87.5,59.4 87.6,61.7 87.7,59.7 87.8,57.9 87.9,58.6 88,55.3 88.1,55.2 88.2,54.1 88.3,50.2 88.3,44.9 88.4,43.7 88.5,43.9 88.6,39.3 88.7,35.8 88.8,34.7 88.9,33.9 89,32.2 89.1,32.3 89.2,29.9 89.3,31.8 89.4,33.4 89.5,35.9 89.6,34.8 89.7,40.6 89.8,41.3 89.9,48.6 90,51.4 90.1,53.9 90.2,54.6 90.3,54.3 90.4,58.6 90.5,58.1 90.6,60.9 90.7,59.6 90.8,61.2 90.9,63.9 91,67 91.1,64.5 91.2,68.8 91.3,69.2 91.3,63.8 91.4,66.2 91.5,64.9 91.6,66.4 91.7,65.9 91.8,66.7 91.9,68.6 92,68.5 92.1,67.3 92.2,66.7 92.3,66.8 92.4,66.7 92.5,67.3 92.6,66.2 92.7,66.9 92.8,63.7 92.9,67.3 93,68.9 93.1,66.3 93.2,63.7 93.3,68.7 93.4,66.1 93.5,63.4 93.6,66.9 93.7,68.6 93.8,68.5 93.9,70.3 94,69.5 94.1,68.9 94.2,65.5 94.3,67.2 94.4,69.7 94.4,70.7 94.5,67.9 94.6,68.8 94.7,70.8 94.8,66.7 94.9,66.8 95,69.8 95.1,70.7 95.2,69.5 95.3,66.9 95.4,70.5 95.5,68.2 95.6,71.7 95.7,70.5 95.8,71.1 95.9,71.8 96,69.8 96.1,72.2 96.2,72.9 96.3,71.5 96.4,73.1 96.5,69.8 96.6,72.5 96.7,71.4 96.8,69.2 96.9,70.8 97,70.1 97.1,70 97.2,71.2 97.3,72.9 97.4,70.5 97.4,71.3 97.5,68.5 97.6,71.3 97.7,73.1 97.8,72.5 97.9,71.9 98,70.2 98.1,69.4 98.2,71 98.3,68.8 98.4,69 98.5,72.8 98.6,69.6 98.7,74.3 98.8,68.7 98.9,72 99,69.2 99.1,71.5 99.2,69.4 99.3,71.3 99.4,71 99.5,70.5 99.6,72.1 99.7,73.9 99.8,70.2 99.9,72.8 100,71.4 100.1,71.2 100.2,74.9 100.3,67.7 100.4,70.1 100.4,68.2 100.5,70.8 100.6,70.9 100.7,74.9 100.8,71.9 100.9,74.4 101,73.6 101.1,70.5 101.2,72.1 101.3,74.2 101.4,71.6 101.5,71.7 101.6,72.2 101.7,68.7 101.8,69.9 101.9,71.9 102,72.3 102.1,69.7 102.2,70.7 102.3,71.1 102.4,71 102.5,72.5 102.6,71.5 102.7,71.6 102.8,68.8 102.9,69.5 103,71.8 103.1,68.5 103.2,71.7 103.3,70.1 103.4,69.8 103.4,72.4 103.5,70 103.6,69.7 103.7,70 103.8,71.3 103.9,74.8 104,67.6 104.1,71.1 104.2,70.7 104.3,72.7 104.4,70.4 104.5,67.4 104.6,73.3 104.7,69 104.8,70.8 104.9,68.5 105,68.9 105.1,69.8 105.2,72.1 105.3,72 105.4,69.4 105.5,71.2 105.6,69.5 105.7,70.2 105.8,70.1 105.9,70.7 106,68.3 106.1,68.8 106.2,69.1 106.3,68.5 106.4,66.5 106.5,70.4 106.5,66.1 106.6,67.7 106.7,66.1 106.8,67.2 106.9,60.9 107,67.4 107.1,62.8 107.2,60.5 107.3,62.4 107.4,65.5 107.5,62.6 107.6,59.6 107.7,61.2 107.8,64.7 107.9,60.5 108,63.2 108.1,63.7 108.2,68.5 108.3,65 108.4,68.4 108.5,65.5 108.6,65.9 108.7,69.5 108.8,69.3 108.9,65.6 109,70.1 109.1,70.4 109.2,68.5 109.3,70.2 109.4,70.5 109.5,69.4 109.5,69.3 109.6,69.3 109.7,70.1 109.8,68.4 109.9,70.7 110,68.3 110.1,71.1 110.2,70.9 110.3,69.3 110.4,72.6 110.5,74.5 110.6,73.5 110.7,68.9 110.8,73.5 110.9,71.7 111,71.2 111.1,70.3 111.2,71.4 111.3,73.8 111.4,72.4 111.5,70.7 111.6,70.3 111.7,70.8 111.8,72.5 111.9,74.8 112,69.7 112.1,71.5 112.2,70.9 112.3,70.3 112.4,72.3 112.5,72.6 112.5,69.1 112.6,69.8 112.7,73.7 112.8,72.2 112.9,72.6 113,70.8 113.1,71 113.2,72.5 113.3,70.8 113.4,69.8 113.5,71.7 113.6,73.3 113.7,69.9 113.8,73.6 113.9,72.9 114,70.2 114.1,71.8 114.2,71.7 114.3,72.9 114.4,72.9 114.5,69.5 114.6,69.4 114.7,73.6 114.8,72 114.9,72.5 115,72.4 115.1,74.5 115.2,69.7 115.3,73.7 115.4,70.4 115.5,73.1 115.5,74.1 115.6,69.4 115.7,72.5 115.8,71.4 115.9,71.3 116,71.9 116.1,70 116.2,70.2 116.3,73 116.4,73.3 116.5,70.9 116.6,69.3 116.7,75.5 116.8,73.8 116.9,72.5 117,70.1 117.1,70.9 117.2,72.3 117.3,70.2 117.4,74.7 117.5,72.1 117.6,72.6 117.7,70.1 117.8,70.3 117.9,70.5 118,72.4 118.1,71.5 118.2,71.4 118.3,72.5 118.4,72.3 118.5,74.5 118.6,71.6 118.6,70.2 118.7,71.9 118.8,74.5 118.9,71 119,72 119.1,71.3 119.2,72.7 119.3,72.4 119.4,70.6 119.5,71.6 119.6,73.6 119.7,73.9 119.8,73.6 119.9,73.5 120,71.4 120.1,71.4 120.2,73.6 120.3,70 120.4,71.9 120.5,68.8 120.6,71.3 120.7,70.8 120.8,69.9 120.9,73 121,70.7 121.1,71.4 121.2,71.6 121.3,70.7 121.4,74.5 121.5,71.2 121.6,72.4 121.6,69.8 121.7,71.2 121.8,71.5 121.9,71.5 122,71 122.1,72.3 122.2,74.7 122.3,71.8 122.4,71.8 122.5,71.4 122.6,75.7 122.7,74.8 122.8,73 122.9,73.3 123,70.8 123.1,71.8 123.2,72.4 123.3,72.3 123.4,70.6 123.5,70.7 123.6,72.9 123.7,72.6 123.8,68.5 123.9,72.2 124,74.2 124.1,71 124.2,72.5 124.3,69.6 124.4,73.5 124.5,70.1 124.6,69.9 124.6,71.5 124.7,75.7 124.8,71 124.9,69.9 125,72.9 125.1,72.5 125.2,74.9 125.3,69.9 125.4,69.3 125.5,71.5 125.6,72.7 125.7,72.7 125.8,73.9 125.9,69.5 126,70.7 126.1,71.8 126.2,73.5 126.3,72.9 126.4,71.3 126.5,70.3 126.6,73.6 126.7,73.7 126.8,75.7 126.9,71.8 127,74.8 127.1,70 127.2,71.1 127.3,70.9 127.4,71.3 127.5,70.5 127.6,71.1 127.6,71.9 127.7,71.3 127.8,73.2 127.9,71.9 128,72 128.1,74.5 128.2,72.5 128.3,72.3 128.4,72 128.5,72.1 128.6,73 128.7,70.6 128.8,73.9 128.9,74.6 129,73.9 129.1,71.1 129.2,69.2 129.3,71.1 129.4,72.1 129.5,73.3 129.6,71.5 129.7,71.3 129.8,74.4 129.9,70.6 130,73.5 130.1,73.2 130.2,69.4 130.3,72.1 130.4,70.6 130.5,69.8 130.6,68.2 130.7,68.6 130.7,71.9 130.8,70.4 130.9,71.4 131,69 131.1,70.1 131.2,70 131.3,67.5 131.4,67.1 131.5,70.4 131.6,69.5 131.7,67.3 131.8,68.4 131.9,69.2 132,70.8 132.1,65.7 132.2,67.8 132.3,69.9 132.4,66 132.5,68.1 132.6,61.8 132.7,67.7 132.8,65.3 132.9,62.2 133,67.1 133.1,67.9 133.2,68.6 133.3,69 133.4,67.4 133.5,66.6 133.6,67.5 133.7,68.7 133.7,69.8 133.8,68.6 133.9,69.8 134,71.5 134.1,70.8 134.2,74.2 134.3,74.4 134.4,68.9 134.5,70 134.6,68.9 134.7,69.2 134.8,72.3 134.9,69.7 135,69.7 135.1,71.1 135.2,73 135.3,71 135.4,71 135.5,73.3 135.6,72.5 135.7,72.5 135.8,73.4 135.9,70 136,72.1 136.1,70.7 136.2,73.6 136.3,73.2 136.4,70 136.5,74.1 136.6,69.8 136.7,73.8 136.7,72.2 136.8,70.3 136.9,69.9 137,71.3 137.1,71.7 137.2,70.5 137.3,72.7 137.4,69.3 137.5,71.7 137.6,71.7 137.7,68.4 137.8,72.2 137.9,69.4 138,68 138.1,70.5 138.2,71.1 138.3,73 138.4,70.5 138.5,73.8 138.6,73.7 138.7,73 138.8,73.3 138.9,71.5 139,69.8 139.1,71.8 139.2,72.1 139.3,70.6 139.4,69.6 139.5,67 139.6,70.5 139.7,69.6 139.7,66.3 139.8,68.2 139.9,68.7 140,66.7 140.1,67.5 140.2,66.7 140.3,62.1 140.4,63.2 140.5,63.7 140.6,63.5 140.7,63.4 140.8,56.8 140.9,59.3 141,60.1 141.1,60.7 141.2,61.4 141.3,57.1 141.4,58.5 141.5,58 141.6,62 141.7,59.2 141.8,64.4 141.9,64.9 142,65.1 142.1,61.5 142.2,64.7 142.3,67.9 142.4,64.8 142.5,67.4 142.6,68.2 142.7,70.4 142.8,69.8 142.8,70.1 142.9,69.2 143,70.2 143.1,70.2 143.2,71.9 143.3,70.5 143.4,72.8 143.5,68.2 143.6,73.3 143.7,71 143.8,73.4 143.9,71.6 144,73 144.1,74.2 144.2,70.7 144.3,71.9 144.4,71.5 144.5,72.2 144.6,69.1 144.7,71.6 144.8,71.5 144.9,70.6 145,71.6 145.1,69.3 145.2,74.4 145.3,72.8 145.4,75.3 145.5,70.6 145.6,70.1 145.7,72.6 145.8,69.3 145.8,72.5 145.9,70.9 146,71.6 146.1,72.6 146.2,72.3 146.3,75.4 146.4,73.3 146.5,70 146.6,73.9 146.7,69.9 146.8,72.4 146.9,70.1 147,70.8 147.1,74.5 147.2,71.3 147.3,71.1 147.4,71.3 147.5,71.7 147.6,74.8 147.7,70.2 147.8,70.1 147.9,73.3 148,69.5 148.1,71.6 148.2,74.2 148.3,72.3 148.4,71.4 148.5,71 148.6,70.7 148.7,71.2 148.8,72.5 148.8,74.4 148.9,73.9 149,71.2 149.1,70.9 149.2,73.4 149.3,69 149.4,71.4 149.5,71.6 149.6,70.2 149.7,70.4 149.8,72.7 149.9,69.2 150,70.5 150.1,70.9 150.2,72.2 150.3,69.6 150.4,73.8 150.5,71.4 150.6,71.5 150.7,71.2 150.8,70.7 150.9,70.1 151,73.7 151.1,72.1 151.2,71.5 151.3,73.3 151.4,70.3 151.5,72.6 151.6,71.4 151.7,69.8 151.8,72.6 151.8,68.6 151.9,72.2 152,69.4 152.1,71.5 152.2,73 152.3,71.4 152.4,69.2 152.5,70 152.6,69.1 152.7,67.4 152.8,67.1 152.9,68.7 153,69 153.1,64.5 153.2,66.7 153.3,67 153.4,65.4 153.5,62.6 153.6,65 153.7,59.9 153.8,61.8 153.9,62.1 154,54.4 154.1,56.7 154.2,55.2 154.3,53.5 154.4,50.4 154.5,49.9 154.6,47.1 154.7,49.1 154.8,49.7 154.9,48 154.9,48.3 155,50.2 155.1,52.4 155.2,54 155.3,55.3 155.4,57.2 155.5,56.4 155.6,56.6 155.7,62.5 155.8,65.1 155.9,61.4 156,63.7 156.1,66.3 156.2,68.2 156.3,68.4 156.4,70.1 156.5,68.3 156.6,69.6 156.7,70 156.8,68.9 156.9,72 157,71.3 157.1,72.1 157.2,70 157.3,72.6 157.4,69.2 157.5,71.8 157.6,67.8 157.7,69.6 157.8,72.7 157.9,70.7 157.9,71.9 158,68.9 158.1,74.4 158.2,72.8 158.3,71.8 158.4,72.6 158.5,72.5 158.6,74.4 158.7,72.4 158.8,69.6 158.9,71.7 159,74.3 159.1,73.2 159.2,71.5 159.3,73.3 159.4,72.5 159.5,73.3 159.6,69.6 159.7,70.8 159.8,73.5 159.9,72 160,73 160.1,75.8 160.2,71.9 160.3,72.9 160.4,71.5 160.5,71.4 160.6,72.4 160.7,70.1 160.8,69.1 160.9,74.9 160.9,72.4 161,74.5 161.1,72.8 161.2,72.9 161.3,73.8 161.4,73.9 161.5,70.6 161.6,74.7 161.7,71 161.8,73 161.9,76.5 162,72.8 162.1,75.6 162.2,72.1 162.3,73.8 162.4,72.8 162.5,73.5 162.6,71.3 162.7,71.2 162.8,73.3 162.9,70.1 163,71.3 163.1,73.9 163.2,71.8 163.3,71.3 163.4,70.9 163.5,73.1 163.6,72.2 163.7,73.1 163.8,72.5 163.9,76 163.9,72.1 164,69.5 164.1,73.1 164.2,72.9 164.3,73.1 164.4,70.1 164.5,74.8 164.6,72.8 164.7,72.8 164.8,70.2 164.9,73.7 165,72.8 165.1,75.2 165.2,72.2 165.3,70.8 165.4,73.1 165.5,71.4 165.6,73.6 165.7,71.1 165.8,72.7 165.9,72.6 166,72.9 166.1,72.1 166.2,71.6 166.3,72.9 166.4,72 166.5,73.2 166.6,72.5 166.7,69.6 166.8,72.9 166.9,75.4 167,73.5 167,74 167.1,73.8 167.2,72.2 167.3,70.7 167.4,74.4 167.5,74.8 167.6,74 167.7,73.7 167.8,73.7 167.9,73 168,73.5 168.1,73.1 168.2,73.6 168.3,71.4 168.4,72 168.5,74 168.6,72.5 168.7,69.6 168.8,73.3 168.9,69.6 169,76.3 169.1,74.3 169.2,74.2 169.3,71.9 169.4,71.2 169.5,72.7 169.6,73.1 169.7,71.8 169.8,73.3 169.9,74.2 170,74.1 170,71.3 170.1,69.7 170.2,73.1 170.3,72 170.4,73.8 170.5,75.9 170.6,75.9 170.7,73.6 170.8,75 170.9,75.9 171,73.2 171.1,73.6 171.2,74.5 171.3,73 171.4,72.3 171.5,71.8 171.6,73.1 171.7,72.1 171.8,74.4 171.9,72.5 172,75.6 172.1,75.1 172.2,71 172.3,74.9 172.4,72.4 172.5,75.4 172.6,73.9 172.7,73 172.8,74.2 172.9,72.1 173,73.6 173,73.7 173.1,72.8 173.2,73.6 173.3,71.3 173.4,73.8 173.5,70.9 173.6,73.9 173.7,73.6 173.8,73.9 173.9,71.7 174,76.3 174.1,72.1 174.2,72.7 174.3,71.1 174.4,74.6 174.5,71.4 174.6,73.7 174.7,70.4 174.8,72.4 174.9,71.2 175,73.3 175.1,71.3 175.2,70.4 175.3,72.6 175.4,70 175.5,70.4 175.6,73.4 175.7,69.1 175.8,73.6 175.9,71.8 176,71 176,73 176.1,73.7 176.2,71.8 176.3,72.5 176.4,74.2 176.5,74.2 176.6,72.9 176.7,71.7 176.8,71.5 176.9,72.1 177,74.2 177.1,74.1 177.2,73.7 177.3,75.5 177.4,72.7 177.5,72.6 177.6,72.6 177.7,76.4 177.8,69.8 177.9,73.7 178,74 178.1,73.3 178.2,76.9 178.3,75.2 178.4,74.5 178.5,71.7 178.6,74.1 178.7,72.6 178.8,73.3 178.9,73.6 179,72.4 179.1,74.3 179.1,75.9 179.2,74.9 179.3,73.5 179.4,70 179.5,74.9 179.6,74.9 179.7,72.8 179.8,72.3 179.9,74.1 180,71.7 180.1,74.3 180.2,71.1 180.3,71.3 180.4,72.8 180.5,70.3 180.6,72.6 180.7,73.3 180.8,70.2 180.9,73.7 181,71.1 181.1,72.7 181.2,71.9 181.3,70.6 181.4,70.2 181.5,68 181.6,69.3 181.7,68.9 181.8,72.5 181.9,71.2 182,67 182.1,70.3 182.1,69.1 182.2,68 182.3,69.4 182.4,70 182.5,67.9 182.6,68.6 182.7,69.7 182.8,68.1 182.9,70.3 183,70.2 183.1,69.6 183.2,69.6 183.3,71.8 183.4,73 183.5,72.3 183.6,70.6 183.7,73.4 183.8,72.6 183.9,73.5 184,74.6 184.1,71.3 184.2,72.6 184.3,72 184.4,71.6 184.5,76.4 184.6,74.7 184.7,70.3 184.8,73.9 184.9,72.4 185,75.2 185.1,73.5 185.1,73.1 185.2,73.6 185.3,74 185.4,73.5 185.5,73.1 185.6,73.2 185.7,74.3 185.8,71.7 185.9,73.5 186,73.3 186.1,72.7 186.2,74.8 186.3,71.5 186.4,73 186.5,72.2 186.6,74.5 186.7,72.8 186.8,73.7 186.9,74.2 187,71 187.1,74.4 187.2,72.4 187.3,73.2 187.4,73.5 187.5,75 187.6,74.9 187.7,76.6 187.8,74 187.9,72.9 188,72.9 188.1,74.8 188.1,76.3 188.2,74.3 188.3,72.8 188.4,74.2 188.5,74.1 188.6,73.8 188.7,72.5 188.8,70.1 188.9,72.9 189,75.5 189.1,74.1 189.2,70.1 189.3,73.8 189.4,70.7 189.5,77 189.6,74.1 189.7,71.8 189.8,75.1 189.9,72.5 190,74.7 190.1,73.8 190.2,71.8 190.3,74.9 190.4,71.6 190.5,76 190.6,73.9 190.7,72.1 190.8,70.8 190.9,76.4 191,76.2 191.1,71.7 191.2,76.5 191.2,74.1 191.3,73.4 191.4,73.6 191.5,73.3 191.6,76.1 191.7,74 191.8,70.8 191.9,77.2 192,75.2 192.1,72 192.2,73.2 192.3,72.3 192.4,73.8 192.5,74.4 192.6,74.1 192.7,72.7 192.8,72.4 192.9,75 193,73.5 193.1,77.2 193.2,72.2 193.3,74.8 193.4,73.5 193.5,72.2 193.6,75.6 193.7,73.5 193.8,71.8 193.9,72.6 194,74.8 194.1,71 194.2,75.3 194.2,74.1 194.3,72.5 194.4,75.2 194.5,75.8 194.6,74 194.7,73.3 194.8,76.1 194.9,75.6 195,71.7 195.1,73 195.2,73 195.3,72.8 195.4,71 195.5,75 195.6,73.7 195.7,73.8 195.8,76 195.9,72.8 196,73.7 196.1,74.2 196.2,73.1 196.3,73.6 196.4,75.1 196.5,73.9 196.6,76.1 196.7,72.7 196.8,74.2 196.9,71.6 197,73.7 197.1,72.8 197.2,76.2 197.2,75.2 197.3,74.8 197.4,77 197.5,76.3 197.6,75.2 197.7,72.8 197.8,71.6 197.9,73.9 198,73.4 198.1,72.9 198.2,73.5 198.3,71.3 198.4,76.5 198.5,72.1 198.6,72.9 198.7,75 198.8,71.3 198.9,75.6 199,75.6 199.1,73.5 199.2,72.3 199.3,73.3 199.4,71 199.5,76.3 199.6,74.1 199.7,72.8 199.8,72.6 199.9,75 200,76.6 200.1,72 200.2,73.1 200.2,71.2 200.3,75.2 200.4,74.3 200.5,77.7 200.6,73.9 200.7,73.4 200.8,72.9 200.9,75.5 201,71.4 201.1,75.4 201.2,74.5 201.3,73.3 201.4,72.6 201.5,75.9 201.6,77.2 201.7,73.4 201.8,75 201.9,77 202,73.1 202.1,73.7 202.2,72.1 202.3,73.9 202.4,74 202.5,73.5 202.6,72.9 202.7,71.5 202.8,71.9 202.9,72.5 203,75.2 203.1,73.3 203.2,72.8 203.3,75.3 203.3,75.1 203.4,72.9 203.5,73.1 203.6,75.3 203.7,74.8 203.8,72.8 203.9,74.6 204,74.1 204.1,76 204.2,72.7 204.3,75.7 204.4,74.9 204.5,72.5 204.6,76 204.7,75.7 204.8,72 204.9,77.5 205,72.3 205.1,72.7 205.2,73.7 205.3,75.5 205.4,75.2 205.5,74.1 205.6,76.5 205.7,74.9 205.8,76.6 205.9,77.8 206,74.6 206.1,70.6 206.2,73.5 206.3,72.4 206.3,74.4 206.4,74.4 206.5,72.2 206.6,72.3 206.7,73.8 206.8,73.9 206.9,70.7 207,75.9 207,74.3 207,74.3 207,74.8 207,72.6 207,74.2 207,76 207,76.1" fill="none" stroke="#95ca3a" stroke-width="0.9" stroke-linejoin="round" /><line x1="24.6" y1="52.4" x2="44.4" y2="52.4" stroke="#95ca3a" stroke-width="1.0" /><text x="48.3" y="54.9" font-size="8.9" font-weight="bold" text-anchor="start" fill="#000" >S3</text><line x1="24.6" y1="82.5" x2="44.4" y2="82.5" stroke="#eea236" stroke-width="1.0" /><text x="48.3" y="85" font-size="8.9" font-weight="bold" text-anchor="start" fill="#000" >S2</text><line x1="24.6" y1="106.6" x2="44.4" y2="106.6" stroke="#5aa5cd" stroke-width="1.0" /><text x="48.3" y="109.1" font-size="8.9" font-weight="bold" text-anchor="start" fill="#000" >S1</text><line x1="26.9" y1="132.4" x2="46.7" y2="132.4" stroke="#e8493f" stroke-width="1.0" /><text x="48.3" y="134.9" font-size="8.9" font-weight="bold" text-anchor="start" fill="#000" >S0</text><rect x="46" y="167.2" width="2" height="3.3" fill="#2b3f8c" stroke="#111" stroke-width="0.5"/><rect x="74.5" y="163.6" width="2" height="6.9" fill="#2b3f8c" stroke="#111" stroke-width="0.5"/><rect x="87.5" y="152.2" width="2" height="18.3" fill="#2b3f8c" stroke="#111" stroke-width="0.5"/><rect x="91.4" y="167.2" width="2" height="3.3" fill="#2b3f8c" stroke="#111" stroke-width="0.5"/><rect x="105.9" y="165" width="2" height="5.5" fill="#2b3f8c" stroke="#111" stroke-width="0.5"/><rect x="130.6" y="166.5" width="2" height="4" fill="#2b3f8c" stroke="#111" stroke-width="0.5"/><rect x="139.4" y="163.3" width="2" height="7.2" fill="#2b3f8c" stroke="#111" stroke-width="0.5"/><rect x="152.5" y="161.8" width="2" height="8.7" fill="#2b3f8c" stroke="#111" stroke-width="0.5"/><rect x="160.4" y="168" width="2" height="2.5" fill="#2b3f8c" stroke="#111" stroke-width="0.5"/><rect x="173.2" y="167.7" width="2" height="2.8" fill="#2b3f8c" stroke="#111" stroke-width="0.5"/><rect x="180.1" y="166.5" width="2" height="4" fill="#2b3f8c" stroke="#111" stroke-width="0.5"/><rect x="183.2" y="167.7" width="2" height="2.8" fill="#2b3f8c" stroke="#111" stroke-width="0.5"/><rect x="192.5" y="168" width="2" height="2.5" fill="#2b3f8c" stroke="#111" stroke-width="0.5"/><text x="22.6" y="161.8" font-size="8.7" font-weight="bold" text-anchor="start" fill="#000" >PDF#19-0629</text><text transform="translate(76,45.5) rotate(-90)" x="0" y="2.3" font-size="8.6" font-weight="bold" text-anchor="middle" fill="#000">(220)</text><text transform="translate(89,15.3) rotate(-90)" x="0" y="2.3" font-size="8.6" font-weight="bold" text-anchor="middle" fill="#000">(311)</text><text transform="translate(94.2,52.7) rotate(-90)" x="0" y="2.3" font-size="8.6" font-weight="bold" text-anchor="middle" fill="#000">(222)</text><text transform="translate(107.7,48.9) rotate(-90)" x="0" y="2.3" font-size="8.6" font-weight="bold" text-anchor="middle" fill="#000">(400)</text><text transform="translate(132.7,54) rotate(-90)" x="0" y="2.3" font-size="8.6" font-weight="bold" text-anchor="middle" fill="#000">(422)</text><text transform="translate(141.4,44.4) rotate(-90)" x="0" y="2.3" font-size="8.6" font-weight="bold" text-anchor="middle" fill="#000">(511)</text><text transform="translate(155.2,35.5) rotate(-90)" x="0" y="2.3" font-size="8.6" font-weight="bold" text-anchor="middle" fill="#000">(440)</text><text transform="translate(182.5,56.2) rotate(-90)" x="0" y="2.3" font-size="8.6" font-weight="bold" text-anchor="middle" fill="#000">(533)</text><rect x="253.0" y="3.8" width="188.3" height="166.5" fill="none" stroke="#3a3a3a" stroke-width="1"/><line x1="260.3" y1="170.3" x2="260.3" y2="173.8" stroke="#3a3a3a" stroke-width="1.0" /><text x="260.3" y="184.7" font-size="11.2" text-anchor="middle" fill="#000" >500</text><line x1="299.6" y1="170.3" x2="299.6" y2="173.8" stroke="#3a3a3a" stroke-width="1.0" /><text x="299.6" y="184.7" font-size="11.2" text-anchor="middle" fill="#000" >1000</text><line x1="339" y1="170.3" x2="339" y2="173.8" stroke="#3a3a3a" stroke-width="1.0" /><text x="339" y="184.7" font-size="11.2" text-anchor="middle" fill="#000" >1500</text><line x1="378.3" y1="170.3" x2="378.3" y2="173.8" stroke="#3a3a3a" stroke-width="1.0" /><text x="378.3" y="184.7" font-size="11.2" text-anchor="middle" fill="#000" >2000</text><line x1="417.7" y1="170.3" x2="417.7" y2="173.8" stroke="#3a3a3a" stroke-width="1.0" /><text x="417.7" y="184.7" font-size="11.2" text-anchor="middle" fill="#000" >2500</text><text x="356.4" y="202.4" font-size="11.7" text-anchor="middle" fill="#000" >Raman shifit (cm<tspan font-size="8" dy="-4.5">−1</tspan><tspan dy="4.5">)</tspan></text><text transform="translate(245.2,90.4) rotate(-90)" x="0" y="0" font-size="11.7" text-anchor="middle" fill="#000">Intensity (a.u.)</text><text x="233" y="11" font-size="11" font-weight="bold" text-anchor="start" fill="#000" >(b)</text><polyline points="252.4,150.5 252.5,149.7 252.6,149.1 252.8,151.4 252.9,150.5 253,149.5 253.1,147.7 253.2,149 253.3,147.9 253.5,151.3 253.6,150.2 253.7,149.2 253.8,149.7 253.9,152.7 254.1,151.3 254.2,148.5 254.3,149.8 254.4,148.6 254.5,148.1 254.6,150.2 254.8,152.6 254.9,151.6 255,150 255.1,149.6 255.2,150.2 255.4,151.1 255.5,148.4 255.6,147.9 255.7,152 255.8,150.3 255.9,151.7 256.1,150.2 256.2,151.6 256.3,149.3 256.4,150.5 256.5,151.6 256.6,151.1 256.8,149.5 256.9,150.9 257,149.2 257.1,148.4 257.2,150.5 257.4,151.5 257.5,150.9 257.6,148.6 257.7,150.9 257.8,150.7 257.9,149.5 258.1,147.3 258.2,151.1 258.3,150.9 258.4,150.5 258.5,148.1 258.7,148.3 258.8,151.1 258.9,150.8 259,150.5 259.1,149.7 259.2,150.4 259.4,149.4 259.5,149.6 259.6,149 259.7,150.2 259.8,149.5 260,151 260.1,150.7 260.2,149.1 260.3,152 260.4,148.7 260.5,150.4 260.7,151.1 260.8,151.3 260.9,147.5 261,151 261.1,151.3 261.3,151.5 261.4,147.5 261.5,149.2 261.6,149.8 261.7,149.5 261.8,151.4 262,149.2 262.1,151.3 262.2,150.6 262.3,148.3 262.4,148.9 262.6,149.4 262.7,150 262.8,151 262.9,149.7 263,150.9 263.1,148.2 263.3,146.6 263.4,149.6 263.5,150.4 263.6,149.5 263.7,148.8 263.9,150.4 264,152.1 264.1,149.8 264.2,149.1 264.3,149 264.4,152.1 264.6,149.9 264.7,150.6 264.8,151.3 264.9,151.1 265,148.9 265.1,151 265.3,150.9 265.4,150.5 265.5,151 265.6,149.3 265.7,149.8 265.9,149.3 266,150.8 266.1,149.2 266.2,150.4 266.3,148.7 266.4,149.8 266.6,149.5 266.7,149.8 266.8,150.1 266.9,149.7 267,149.7 267.2,147.6 267.3,151.1 267.4,149.2 267.5,149.6 267.6,149 267.7,151 267.9,148.9 268,150.5 268.1,151.2 268.2,151.7 268.3,151.2 268.5,150.6 268.6,148.6 268.7,151.3 268.8,151.2 268.9,150.8 269,150.8 269.2,150 269.3,149.3 269.4,151.1 269.5,151.3 269.6,148.8 269.8,150.9 269.9,150.2 270,150.9 270.1,150.2 270.2,151.1 270.3,151 270.5,150.9 270.6,148.4 270.7,150.8 270.8,150 270.9,148.7 271.1,150.7 271.2,148.4 271.3,150.9 271.4,151.7 271.5,149.3 271.6,150.9 271.8,150.4 271.9,150.6 272,148.4 272.1,150.6 272.2,150 272.4,150.7 272.5,149.9 272.6,151.1 272.7,150.2 272.8,150.6 272.9,151.4 273.1,150.1 273.2,151 273.3,150.1 273.4,150.5 273.5,149.3 273.6,150.7 273.8,151.2 273.9,149.8 274,150.7 274.1,150.3 274.2,148.7 274.4,150.3 274.5,151.3 274.6,149.3 274.7,147.9 274.8,150.1 274.9,149.2 275.1,151.9 275.2,149.8 275.3,149.9 275.4,149.2 275.5,150.1 275.7,149.3 275.8,148.9 275.9,149.8 276,149 276.1,151.3 276.2,148.6 276.4,149.8 276.5,149.1 276.6,148.4 276.7,151.6 276.8,147.6 277,151.4 277.1,148.3 277.2,149.9 277.3,152.3 277.4,147.5 277.5,148.3 277.7,151.2 277.8,150 277.9,149.2 278,149.8 278.1,148.8 278.3,149.9 278.4,151.4 278.5,149.4 278.6,150 278.7,151.1 278.8,151.9 279,149.2 279.1,150.1 279.2,149.2 279.3,149.1 279.4,149.4 279.6,149.1 279.7,147.9 279.8,147.6 279.9,149 280,149.9 280.1,151.1 280.3,149.2 280.4,149.6 280.5,150.5 280.6,150.6 280.7,149.6 280.9,149.7 281,151.8 281.1,149.4 281.2,149.2 281.3,148 281.4,150.2 281.6,149.5 281.7,151.8 281.8,149.4 281.9,150.6 282,150.7 282.1,151.5 282.3,148.3 282.4,151.4 282.5,149.7 282.6,149.6 282.7,149.4 282.9,149.3 283,149.3 283.1,147.2 283.2,150.2 283.3,149.7 283.4,148.6 283.6,149.6 283.7,152.1 283.8,150.1 283.9,149.2 284,151.5 284.2,148.8 284.3,149.5 284.4,149 284.5,149.4 284.6,150.4 284.7,150.2 284.9,148.8 285,149.5 285.1,149.7 285.2,149.2 285.3,149.5 285.5,148.8 285.6,148.8 285.7,149.6 285.8,148.5 285.9,150 286,149.3 286.2,148.5 286.3,148.9 286.4,149 286.5,149.3 286.6,149.6 286.8,149.3 286.9,148.6 287,151 287.1,150.4 287.2,149.6 287.3,150.5 287.5,149.8 287.6,149.2 287.7,149.5 287.8,152.3 287.9,150.5 288.1,150.5 288.2,149 288.3,150 288.4,151.8 288.5,149.8 288.6,150.5 288.8,150.7 288.9,150 289,151 289.1,149.6 289.2,149.9 289.3,148.6 289.5,152.1 289.6,149.6 289.7,149.4 289.8,150.7 289.9,148.7 290.1,149.2 290.2,148.4 290.3,149.2 290.4,148.8 290.5,149.8 290.6,149.1 290.8,148.5 290.9,148.8 291,149 291.1,148.6 291.2,150.1 291.4,149.8 291.5,149.3 291.6,147.8 291.7,149.6 291.8,147.7 291.9,149.2 292.1,149.1 292.2,148.4 292.3,148.1 292.4,148.2 292.5,151.1 292.7,148.7 292.8,148.7 292.9,149.9 293,149.3 293.1,150 293.2,147.6 293.4,147.7 293.5,152.4 293.6,148.8 293.7,148.5 293.8,148.9 294,149.8 294.1,147.5 294.2,149 294.3,148.7 294.4,149.4 294.5,148.8 294.7,148.1 294.8,147.7 294.9,146 295,149.6 295.1,147 295.3,148.1 295.4,150.3 295.5,148 295.6,149.1 295.7,148.2 295.8,149.2 296,148.4 296.1,147.8 296.2,149.8 296.3,148 296.4,146.9 296.6,147.9 296.7,148.8 296.8,147 296.9,149 297,149 297.1,150.4 297.3,147.4 297.4,148.8 297.5,146.3 297.6,147.6 297.7,148.1 297.8,148.4 298,147.9 298.1,147.8 298.2,147.2 298.3,147.4 298.4,148.1 298.6,148.4 298.7,148.4 298.8,148.8 298.9,148.9 299,145.7 299.1,147.1 299.3,147.4 299.4,146.9 299.5,148.6 299.6,148.3 299.7,147.3 299.9,147.5 300,148.7 300.1,147 300.2,147 300.3,148.2 300.4,147.7 300.6,148.7 300.7,147.5 300.8,147.9 300.9,146.5 301,146 301.2,146.9 301.3,144.1 301.4,147.3 301.5,147.9 301.6,146.9 301.7,146.5 301.9,147.8 302,146.6 302.1,147.6 302.2,148.9 302.3,147.3 302.5,147.4 302.6,146.9 302.7,146.6 302.8,146.6 302.9,146.3 303,147.3 303.2,144.5 303.3,145.8 303.4,146.7 303.5,145.1 303.6,145.8 303.8,145.2 303.9,146.3 304,146.7 304.1,147.2 304.2,146.2 304.3,144.8 304.5,145.8 304.6,146.1 304.7,146.9 304.8,143.1 304.9,145.7 305.1,143.3 305.2,145.9 305.3,145.6 305.4,145.6 305.5,145.9 305.6,145.3 305.8,144.2 305.9,145.2 306,146 306.1,144.5 306.2,144.6 306.3,143.2 306.5,145.7 306.6,143.8 306.7,143.5 306.8,143.7 306.9,143.2 307.1,143.8 307.2,145.3 307.3,144.8 307.4,145.3 307.5,145.3 307.6,142.7 307.8,144.1 307.9,145.1 308,145.9 308.1,141.9 308.2,141.8 308.4,143.7 308.5,142.8 308.6,142 308.7,143.3 308.8,142 308.9,140.4 309.1,142.7 309.2,142.7 309.3,143.2 309.4,143.4 309.5,142.5 309.7,142 309.8,141.4 309.9,140.3 310,141.5 310.1,142.9 310.2,142.4 310.4,143.8 310.5,141.4 310.6,139.6 310.7,142.2 310.8,142.3 311,139.9 311.1,139.3 311.2,141.1 311.3,141.6 311.4,139.5 311.5,140.2 311.7,139.7 311.8,139.1 311.9,138.9 312,140.3 312.1,139.6 312.3,139.2 312.4,137.1 312.5,141.5 312.6,138.6 312.7,139.3 312.8,138.1 313,139.6 313.1,137.5 313.2,139 313.3,138.6 313.4,139.6 313.5,137.4 313.7,137.7 313.8,138 313.9,140.3 314,136.4 314.1,138.2 314.3,137 314.4,137.9 314.5,138.1 314.6,137.4 314.7,137.4 314.8,137.3 315,136.2 315.1,136.5 315.2,134.8 315.3,136 315.4,135.4 315.6,135.8 315.7,136.7 315.8,136.1 315.9,136.1 316,136.6 316.1,132.7 316.3,135.5 316.4,134.8 316.5,134.6 316.6,133.1 316.7,134.9 316.9,135.4 317,135 317.1,133.7 317.2,134.3 317.3,134.4 317.4,135.1 317.6,134.3 317.7,132.9 317.8,132.7 317.9,132.6 318,132.4 318.2,131.4 318.3,132.6 318.4,130.8 318.5,130.5 318.6,131.5 318.7,130.3 318.9,130.4 319,128.2 319.1,131 319.2,129.9 319.3,129.6 319.5,129.9 319.6,129.4 319.7,128.2 319.8,130.8 319.9,128 320,129.2 320.2,129.9 320.3,127 320.4,127.5 320.5,126.3 320.6,128 320.8,126.2 320.9,125.2 321,127.4 321.1,126.7 321.2,124.6 321.3,126.5 321.5,125.1 321.6,127.5 321.7,126.2 321.8,123.5 321.9,123.5 322,122.6 322.2,123.4 322.3,123 322.4,123.4 322.5,122.5 322.6,120.6 322.8,121 322.9,123 323,122.5 323.1,120.8 323.2,120.6 323.3,120.3 323.5,120.2 323.6,118.2 323.7,120.7 323.8,118.8 323.9,119.4 324.1,116.4 324.2,119.1 324.3,120 324.4,116.1 324.5,119.8 324.6,118.6 324.8,117.1 324.9,116.1 325,118.8 325.1,117.7 325.2,118 325.4,117 325.5,116.3 325.6,118 325.7,116 325.8,117.9 325.9,115.1 326.1,115.9 326.2,115.3 326.3,118.2 326.4,115 326.5,115.7 326.7,117.6 326.8,117.2 326.9,119.3 327,119.1 327.1,117.9 327.2,118 327.4,115.5 327.5,116.6 327.6,117.3 327.7,117.6 327.8,116.5 328,117.1 328.1,117.4 328.2,119.6 328.3,119.1 328.4,118.5 328.5,118.7 328.7,119.5 328.8,118.7 328.9,119.3 329,118 329.1,120.7 329.3,121.3 329.4,120.9 329.5,121.2 329.6,121.3 329.7,123.3 329.8,121.6 330,120.2 330.1,120.7 330.2,122.8 330.3,123.4 330.4,123.3 330.5,123.6 330.7,123.2 330.8,121.6 330.9,122.7 331,121.7 331.1,123.4 331.3,122.6 331.4,124.4 331.5,124.3 331.6,122.6 331.7,125.7 331.8,125.9 332,123.8 332.1,125.7 332.2,126.5 332.3,125.6 332.4,127 332.6,126.5 332.7,127.6 332.8,126.8 332.9,126.7 333,127.5 333.1,128 333.3,127.6 333.4,127 333.5,126.9 333.6,127.5 333.7,127.4 333.9,128.4 334,128.5 334.1,128.4 334.2,128.6 334.3,128.9 334.4,130.6 334.6,130.3 334.7,128.6 334.8,129.8 334.9,129.1 335,129.5 335.2,129.4 335.3,129.2 335.4,128.5 335.5,127.5 335.6,130.4 335.7,131.5 335.9,129.4 336,131 336.1,130.2 336.2,131 336.3,130 336.5,130.7 336.6,130.9 336.7,128.6 336.8,131.4 336.9,131.1 337,128.7 337.2,132.1 337.3,131.4 337.4,131.8 337.5,132 337.6,131.2 337.8,130.6 337.9,131.3 338,131.4 338.1,134.2 338.2,133.9 338.3,131.4 338.5,131.6 338.6,132.4 338.7,132.7 338.8,131.3 338.9,131 339,134.1 339.2,133.2 339.3,130.4 339.4,130.2 339.5,131.2 339.6,132.3 339.8,132.6 339.9,131.6 340,130.2 340.1,132.1 340.2,132.4 340.3,131.7 340.5,131.1 340.6,132.2 340.7,131.4 340.8,130.1 340.9,131.3 341.1,129.7 341.2,131.9 341.3,131.2 341.4,129.5 341.5,130.6 341.6,131.4 341.8,127.6 341.9,129.5 342,131.1 342.1,127.4 342.2,128.5 342.4,126.8 342.5,127.9 342.6,125 342.7,125.4 342.8,126.1 342.9,126.4 343.1,126.1 343.2,125.7 343.3,125.9 343.4,124.8 343.5,124.2 343.7,121.8 343.8,122 343.9,124.9 344,123.3 344.1,121 344.2,120.2 344.4,119.8 344.5,117.7 344.6,119.6 344.7,116.5 344.8,116.3 345,118.3 345.1,113.3 345.2,115.6 345.3,113.2 345.4,114.2 345.5,114.8 345.7,114.7 345.8,115.4 345.9,114.7 346,115.9 346.1,115.2 346.2,116.7 346.4,116.2 346.5,119.2 346.6,117.8 346.7,120.8 346.8,120.4 347,121.4 347.1,123.9 347.2,123.6 347.3,122.2 347.4,125.7 347.5,122.8 347.7,127 347.8,127.1 347.9,126.7 348,129.1 348.1,129.3 348.3,132.5 348.4,130.5 348.5,133.7 348.6,133.7 348.7,132.1 348.8,132.4 349,135.2 349.1,134.1 349.2,134.9 349.3,134.9 349.4,134.3 349.6,135.6 349.7,135.4 349.8,135.1 349.9,136.8 350,139.4 350.1,139.6 350.3,138.1 350.4,138.6 350.5,139.3 350.6,140.5 350.7,139.6 350.9,139 351,139.3 351.1,141.2 351.2,143.1 351.3,139.8 351.4,138.4 351.6,141.8 351.7,141 351.8,141.4 351.9,142.8 352,141.7 352.2,140.3 352.3,139.8 352.4,142.1 352.5,141 352.6,142.7 352.7,141.2 352.9,142.3 353,141.3 353.1,142.6 353.2,142.6 353.3,143.9 353.5,144.9 353.6,143.3 353.7,142.7 353.8,145.9 353.9,144.3 354,144.6 354.2,144.7 354.3,145.8 354.4,145.4 354.5,145.1 354.6,145.3 354.7,143.6 354.9,144 355,144.7 355.1,145 355.2,145 355.3,145.4 355.5,145.2 355.6,144.7 355.7,143.5 355.8,146.3 355.9,146.1 356,144.6 356.2,146.1 356.3,146.1 356.4,145.8 356.5,143.8 356.6,144.6 356.8,145.3 356.9,147.8 357,145.1 357.1,145.8 357.2,145 357.3,145.7 357.5,146.7 357.6,144.1 357.7,143.3 357.8,147.2 357.9,146.6 358.1,146 358.2,147.8 358.3,147.8 358.4,144.5 358.5,146.7 358.6,148.1 358.8,146.2 358.9,146.7 359,148.1 359.1,146.8 359.2,145.8 359.4,146.4 359.5,145.8 359.6,147.9 359.7,145.4 359.8,148.5 359.9,145.6 360.1,147.5 360.2,145.9 360.3,147.2 360.4,148.7 360.5,148.9 360.7,149.1 360.8,147.6 360.9,147.9 361,148 361.1,148.5 361.2,147.4 361.4,149.1 361.5,148.3 361.6,149.2 361.7,148.5 361.8,148.8 362,147.3 362.1,147.6 362.2,146.7 362.3,147.8 362.4,148 362.5,149.1 362.7,146.9 362.8,151.8 362.9,148.2 363,149.7 363.1,149.5 363.2,145.6 363.4,148.1 363.5,150.1 363.6,145.8 363.7,149.4 363.8,147.5 364,148 364.1,148.8 364.2,146.6 364.3,148.8 364.4,147.9 364.5,147.9 364.7,149.5 364.8,152.6 364.9,149.1 365,149.4 365.1,148.7 365.3,148 365.4,149.1 365.5,150.5 365.6,149.1 365.7,149.9 365.8,148.7 366,151.7 366.1,147.1 366.2,149.6 366.3,149.6 366.4,149.3 366.6,147.8 366.7,147.8 366.8,148.8 366.9,149.2 367,147.8 367.1,147.9 367.3,149.7 367.4,150.3 367.5,148.5 367.6,148.4 367.7,148.4 367.9,151.9 368,149.8 368.1,149.2 368.2,150.4 368.3,151.8 368.4,150.6 368.6,147.7 368.7,149.2 368.8,148.9 368.9,149 369,148 369.2,148.9 369.3,148.2 369.4,149.8 369.5,149.4 369.6,147.9 369.7,147.5 369.9,148.9 370,150.2 370.1,150 370.2,149.4 370.3,145.8 370.5,148.9 370.6,148.7 370.7,149.1 370.8,148.2 370.9,149.1 371,148.8 371.2,152.5 371.3,150.3 371.4,149.4 371.5,149.5 371.6,149.5 371.7,149.8 371.9,149.2 372,149.6 372.1,150.8 372.2,150.5 372.3,150 372.5,151.1 372.6,149.9 372.7,148.6 372.8,147.7 372.9,148.9 373,149.6 373.2,150.1 373.3,150.9 373.4,149.1 373.5,148.8 373.6,150.6 373.8,151 373.9,149.2 374,150.1 374.1,151.3 374.2,150.1 374.3,149.7 374.5,147.5 374.6,151.2 374.7,150.5 374.8,149.9 374.9,149.3 375.1,148.4 375.2,149.7 375.3,149.7 375.4,151 375.5,148.5 375.6,151.4 375.8,149.9 375.9,151.2 376,148.8 376.1,150.2 376.2,151.2 376.4,150 376.5,148.3 376.6,149.5 376.7,150.5 376.8,148.3 376.9,148.3 377.1,150.2 377.2,148.9 377.3,150.7 377.4,148.6 377.5,147.9 377.7,149.1 377.8,151.6 377.9,149 378,149.9 378.1,150.2 378.2,148.9 378.4,151.2 378.5,150.1 378.6,150.4 378.7,148.1 378.8,148 378.9,146.9 379.1,149.8 379.2,149.7 379.3,150.8 379.4,151.6 379.5,149.7 379.7,149.7 379.8,150.5 379.9,151.7 380,149.1 380.1,150.7 380.2,149.7 380.4,149.6 380.5,150.9 380.6,149.2 380.7,148.8 380.8,150.8 381,150 381.1,149.7 381.2,149.9 381.3,150.6 381.4,149.6 381.5,150.9 381.7,150.5 381.8,151.7 381.9,151.5 382,151 382.1,149.8 382.3,150.2 382.4,149.4 382.5,153.2 382.6,149.8 382.7,150.7 382.8,151.6 383,148.6 383.1,149.2 383.2,149.7 383.3,149 383.4,148.7 383.6,149.5 383.7,151.5 383.8,150.9 383.9,150.1 384,150.1 384.1,148.3 384.3,150.9 384.4,150.6 384.5,148.9 384.6,150.3 384.7,149.9 384.9,149.6 385,149 385.1,149.4 385.2,149.1 385.3,150.6 385.4,150.5 385.6,150.5 385.7,149.9 385.8,149.7 385.9,152.4 386,148.1 386.2,151.5 386.3,150.5 386.4,150.2 386.5,149.6 386.6,149.9 386.7,148.9 386.9,148.6 387,150 387.1,148.3 387.2,151.1 387.3,151.4 387.4,146.4 387.6,148.5 387.7,150.5 387.8,150.4 387.9,150.3 388,150.7 388.2,151 388.3,151.1 388.4,152.2 388.5,150.2 388.6,151.1 388.7,148.4 388.9,150.1 389,148.9 389.1,151.7 389.2,152.8 389.3,150.8 389.5,148.8 389.6,150.1 389.7,150.2 389.8,150.4 389.9,151.4 390,151.3 390.2,147.3 390.3,151.7 390.4,149.7 390.5,149.6 390.6,151.8 390.8,149.9 390.9,148.7 391,148.8 391.1,150.3 391.2,151.2 391.3,151.9 391.5,150.1 391.6,149.7 391.7,152 391.8,149.7 391.9,151.9 392.1,150.5 392.2,150.5 392.3,150 392.4,150.6 392.5,149.7 392.6,149.5 392.8,150.1 392.9,149.5 393,150.6 393.1,150.4 393.2,150 393.4,150 393.5,150 393.6,152.2 393.7,150.3 393.8,149.6 393.9,149.9 394.1,151 394.2,150.1 394.3,150.1 394.4,150 394.5,150.5 394.7,150.7 394.8,150.8 394.9,148.5 395,149.1 395.1,147.4 395.2,151.2 395.4,151.5 395.5,151.7 395.6,150.5 395.7,151.6 395.8,150.3 395.9,150.2 396.1,148.6 396.2,149.4 396.3,149.6 396.4,151.3 396.5,152.1 396.7,149.8 396.8,150.7 396.9,150.6 397,149.5 397.1,148.4 397.2,149.5 397.4,148.7 397.5,150 397.6,150.2 397.7,150.1 397.8,150.1 398,150.8 398.1,149.3 398.2,151.3 398.3,148.5 398.4,150.4 398.5,150.7 398.7,149.5 398.8,148.6 398.9,151 399,149.6 399.1,151.2 399.3,151.2 399.4,150.3 399.5,150.3 399.6,151.4 399.7,150.7 399.8,149.3 400,150.5 400.1,150.9 400.2,150.6 400.3,150.5 400.4,150.2 400.6,150.2 400.7,149.3 400.8,148.8 400.9,151.6 401,149.6 401.1,150.6 401.3,148.7 401.4,150.5 401.5,149.4 401.6,153.6 401.7,149.2 401.9,149.3 402,151.4 402.1,151.6 402.2,148 402.3,150.6 402.4,151.3 402.6,149 402.7,151.1 402.8,149.8 402.9,149.3 403,150 403.1,149.9 403.3,148.8 403.4,152.8 403.5,149.9 403.6,149.5 403.7,151.3 403.9,150.3 404,151.8 404.1,150.1 404.2,150.8 404.3,150.5 404.4,150.6 404.6,150.1 404.7,150.3 404.8,152.2 404.9,149.6 405,149.8 405.2,150 405.3,151 405.4,150.8 405.5,151.4 405.6,148.9 405.7,150.7 405.9,150.2 406,150.1 406.1,150.6 406.2,148.2 406.3,150.7 406.5,150.5 406.6,148.8 406.7,150.3 406.8,152.1 406.9,150 407,151 407.2,150.1 407.3,149.5 407.4,149.4 407.5,150 407.6,151.8 407.8,151.3 407.9,149.6 408,151.5 408.1,150.3 408.2,149.6 408.3,150.9 408.5,149.4 408.6,148.7 408.7,151.8 408.8,148.4 408.9,151 409.1,148.7 409.2,150.4 409.3,150.2 409.4,149.9 409.5,148 409.6,150.3 409.8,150.4 409.9,149.4 410,150.3 410.1,151.5 410.2,149.6 410.4,150.7 410.5,149.2 410.6,150.8 410.7,151.1 410.8,153.1 410.9,151.4 411.1,150.9 411.2,152 411.3,149.3 411.4,151.6 411.5,149.8 411.6,149.8 411.8,151.6 411.9,150.7 412,151.9 412.1,148.9 412.2,150.7 412.4,149.9 412.5,150.1 412.6,148.4 412.7,151.5 412.8,150.7 412.9,149.4 413.1,149 413.2,149.5 413.3,152 413.4,150.3 413.5,150.1 413.7,151 413.8,150.5 413.9,150.7 414,151.3 414.1,150.8 414.2,151.4 414.4,149.2 414.5,150.5 414.6,150.1 414.7,150.6 414.8,150.4 415,149.8 415.1,150.1 415.2,151.5 415.3,149.9 415.4,149.1 415.5,151.1 415.7,151.5 415.8,150.2 415.9,150.6 416,149.6 416.1,150.3 416.3,151.7 416.4,151.3 416.5,150.6 416.6,150.2 416.7,148.7 416.8,150.8 417,151 417.1,151.6 417.2,152.7 417.3,150.9 417.4,151.5 417.6,149.3 417.7,151.8 417.8,151.4 417.9,152 418,151.2 418.1,151 418.3,152.1 418.4,149.8 418.5,151.2 418.6,151.7 418.7,149.7 418.9,149.3 419,151 419.1,150.6 419.2,151.2 419.3,151.2 419.4,149.7 419.6,150.9 419.7,151.7 419.8,150.1 419.9,150.2 420,149.3 420.1,151.4 420.3,152.6 420.4,149.1 420.5,151.3 420.6,151.5 420.7,149.9 420.9,150.1 421,149.4 421.1,149.7 421.2,150.7 421.3,151.2 421.4,150.7 421.6,151.5 421.7,150.8 421.8,149.3 421.9,152.1 422,151.8 422.2,149.8 422.3,152.4 422.4,151 422.5,150.7 422.6,152.6 422.7,147.9 422.9,148.8 423,151.3 423.1,150.3 423.2,149.5 423.3,152.2 423.5,151.1 423.6,149.2 423.7,149.9 423.8,151.5 423.9,152.5 424,148.4 424.2,150.8 424.3,150.2 424.4,148.7 424.5,150.4 424.6,148.8 424.8,150 424.9,152.3 425,151.1 425.1,151.4 425.2,151.2 425.3,151 425.5,151.6 425.6,149.3 425.7,150.2 425.8,151.5 425.9,149.8 426.1,150.1 426.2,151.9 426.3,152.2 426.4,149.9 426.5,149.7 426.6,151.2 426.8,150.9 426.9,149.9 427,151.2 427.1,151.2 427.2,150.7 427.4,153.7 427.5,152.1 427.6,151.5 427.7,151.7 427.8,153.8 427.9,151.8 428.1,149.8 428.2,150.9 428.3,150.7 428.4,150 428.5,150.9 428.6,150.9 428.8,150.5 428.9,150.1 429,151.5 429.1,148.9 429.2,151.5 429.4,150.6 429.5,150.9 429.6,148.1 429.7,152.4 429.8,148.8 429.9,149.7 430.1,151.3 430.2,150 430.3,150.2 430.4,148.2 430.5,150.1 430.7,150.8 430.8,151.3 430.9,150.3 431,150.9 431.1,151.1 431.2,149.9 431.4,149.8 431.5,152.7 431.6,149.7 431.7,152 431.8,150.7 432,152.2 432.1,149.9 432.2,151.2 432.3,151 432.4,150.4 432.5,151 432.7,149.8 432.8,150.5 432.9,150.2 433,151.5 433.1,150.5 433.3,149.1 433.4,150.2 433.5,150.5 433.6,149.7 433.7,152.1 433.8,151.1 434,151.5 434.1,149.8 434.2,150.2 434.3,151.7 434.4,149.1 434.6,151 434.7,150.7 434.8,150.1 434.9,150.7 435,149.5 435.1,150.9 435.3,149.3 435.4,149.3 435.5,152.2 435.6,149.9 435.7,148.4 435.8,151.7 436,149.8 436.1,146.8 436.2,150.6 436.3,151.7 436.4,151 436.6,152.5 436.7,150.5 436.8,151.3 436.9,149.6 437,150.8 437.1,152.3 437.3,151.2 437.4,150.8 437.5,148.5 437.6,150.2 437.7,149.3 437.9,151.5 438,149.9 438.1,151 438.2,149.6 438.3,152.7 438.4,149.4 438.6,150.8 438.7,153.5 438.8,150.9 438.9,149.7 439,151.3 439.2,151.7 439.3,151.6 439.4,148.5 439.5,150.9 439.6,148.4 439.7,152.7 439.9,150.7 440,150.2 440.1,151.4 440.2,151.2 440.3,149.4 440.5,152.4 440.6,150.4 440.7,148.8 440.8,152.2 440.9,152.3 441,152 441.2,151.3" fill="none" stroke="#e8474f" stroke-width="1.05" stroke-linejoin="round" /><polyline points="252.4,120.6 252.5,122.6 252.6,123.6 252.8,122.4 252.9,123.3 253,120.7 253.1,122.6 253.2,122.6 253.3,119.9 253.5,119.8 253.6,120.8 253.7,121.6 253.8,122 253.9,121.3 254.1,121.5 254.2,121.4 254.3,121.6 254.4,122.2 254.5,122.1 254.6,121.5 254.8,121.8 254.9,121 255,122.4 255.1,121 255.2,123.3 255.4,121.5 255.5,121.8 255.6,120.7 255.7,121.2 255.8,121.7 255.9,121.6 256.1,120.9 256.2,120.3 256.3,121.6 256.4,121.7 256.5,122.1 256.6,122.9 256.8,121.2 256.9,119.4 257,121.4 257.1,119.5 257.2,120.1 257.4,122.7 257.5,122.1 257.6,120.8 257.7,120.8 257.8,121.4 257.9,119.6 258.1,122.1 258.2,121.1 258.3,123.5 258.4,120.4 258.5,122.6 258.7,120.8 258.8,122.6 258.9,120.5 259,122.3 259.1,121 259.2,120.6 259.4,121.4 259.5,122 259.6,122 259.7,123.3 259.8,122.4 260,118.6 260.1,121.1 260.2,119.3 260.3,121.1 260.4,122.2 260.5,120.1 260.7,120.2 260.8,121.7 260.9,121.2 261,123.3 261.1,121.9 261.3,122.1 261.4,123.4 261.5,121 261.6,121.5 261.7,120.4 261.8,121.8 262,122.7 262.1,123 262.2,121.5 262.3,120.7 262.4,120.7 262.6,120 262.7,121.6 262.8,123 262.9,118.9 263,119.1 263.1,123.1 263.3,119.7 263.4,121.9 263.5,120.1 263.6,122.4 263.7,122.4 263.9,121.7 264,122.4 264.1,121.6 264.2,122.1 264.3,123.5 264.4,122.7 264.6,120.8 264.7,120.6 264.8,121.2 264.9,121.3 265,121.6 265.1,120.8 265.3,122.2 265.4,121.6 265.5,121.9 265.6,121.5 265.7,122.2 265.9,120.2 266,123.2 266.1,121.9 266.2,122 266.3,122.2 266.4,122.7 266.6,122.3 266.7,121.8 266.8,121.3 266.9,119.7 267,121.7 267.2,121.2 267.3,121.2 267.4,124.1 267.5,119.5 267.6,121.6 267.7,122.8 267.9,122.6 268,122.9 268.1,120.1 268.2,120.4 268.3,122.2 268.5,121.2 268.6,123.4 268.7,121.8 268.8,121.7 268.9,122 269,121.2 269.2,121.6 269.3,120.8 269.4,121.5 269.5,121 269.6,121.8 269.8,119.9 269.9,119.9 270,122 270.1,121.7 270.2,120.4 270.3,121.2 270.5,120.3 270.6,123.7 270.7,119.8 270.8,123.4 270.9,120.6 271.1,122 271.2,121.2 271.3,121.1 271.4,122.5 271.5,122.4 271.6,121.2 271.8,120.5 271.9,123.8 272,123 272.1,121.6 272.2,121.2 272.4,121.8 272.5,121.6 272.6,122.8 272.7,120.4 272.8,121.5 272.9,120.6 273.1,122.9 273.2,123.5 273.3,121.4 273.4,122.1 273.5,123 273.6,121.1 273.8,120.4 273.9,122.6 274,122 274.1,121.2 274.2,123.1 274.4,121.7 274.5,119.5 274.6,121.8 274.7,121.4 274.8,123.5 274.9,121.4 275.1,121.2 275.2,121.9 275.3,121.7 275.4,119.9 275.5,121.6 275.7,121.1 275.8,123 275.9,124.1 276,120.2 276.1,120.4 276.2,120.5 276.4,120.7 276.5,120.7 276.6,121.5 276.7,122.6 276.8,120 277,119.7 277.1,119.4 277.2,122.6 277.3,122.9 277.4,119.7 277.5,119.6 277.7,121.6 277.8,122.6 277.9,122.5 278,121.6 278.1,122.2 278.3,121.8 278.4,120.8 278.5,123.5 278.6,121.4 278.7,120.2 278.8,120.9 279,119.7 279.1,121.4 279.2,122.6 279.3,120 279.4,122.6 279.6,123.7 279.7,121.8 279.8,120.1 279.9,120.4 280,121 280.1,120 280.3,120 280.4,121.1 280.5,121.2 280.6,122 280.7,120 280.9,123.4 281,122.5 281.1,122.3 281.2,120.6 281.3,123.3 281.4,121 281.6,123.3 281.7,122.5 281.8,120.4 281.9,120.8 282,123.4 282.1,122.4 282.3,121.2 282.4,121.5 282.5,121.5 282.6,120.5 282.7,121.1 282.9,120.6 283,120.8 283.1,121.8 283.2,120.2 283.3,122.1 283.4,121.4 283.6,122.1 283.7,122.3 283.8,122.6 283.9,122 284,122 284.2,121.1 284.3,121.9 284.4,120.3 284.5,121 284.6,122.1 284.7,121.2 284.9,121.7 285,120.1 285.1,122.7 285.2,120.6 285.3,121.6 285.5,121.2 285.6,122.2 285.7,120.8 285.8,120.1 285.9,119.1 286,120.8 286.2,119.8 286.3,121.7 286.4,122.7 286.5,118.7 286.6,119.7 286.8,121.5 286.9,122.5 287,121.5 287.1,121.5 287.2,121.7 287.3,121.7 287.5,122.9 287.6,121.8 287.7,119.7 287.8,120.5 287.9,121.3 288.1,120.1 288.2,120.7 288.3,120.4 288.4,120.2 288.5,121.8 288.6,120.6 288.8,119.8 288.9,120.2 289,121 289.1,123.3 289.2,121.2 289.3,122.6 289.5,121.5 289.6,118.5 289.7,121.3 289.8,119.9 289.9,119.4 290.1,119.7 290.2,122.8 290.3,119.1 290.4,120.1 290.5,122.1 290.6,121.5 290.8,118.9 290.9,120.7 291,120.2 291.1,120.5 291.2,121.6 291.4,120.1 291.5,120.3 291.6,122.3 291.7,118.6 291.8,120.2 291.9,121.2 292.1,119.2 292.2,119.9 292.3,119.1 292.4,120.7 292.5,119.9 292.7,121.4 292.8,121.6 292.9,120.5 293,120.1 293.1,120.7 293.2,120.5 293.4,119.1 293.5,121.6 293.6,120.6 293.7,121.2 293.8,118.8 294,121.3 294.1,122.6 294.2,120.9 294.3,118.6 294.4,120.3 294.5,120.1 294.7,120.4 294.8,119.9 294.9,120.7 295,119.6 295.1,120.3 295.3,119.3 295.4,120.1 295.5,121.1 295.6,119.4 295.7,120.7 295.8,118.9 296,119.5 296.1,119.6 296.2,121.2 296.3,118.9 296.4,121.1 296.6,118.1 296.7,119.5 296.8,120.7 296.9,120.4 297,118.5 297.1,118.2 297.3,120.5 297.4,118.1 297.5,120.1 297.6,118.8 297.7,119.4 297.8,121.9 298,121 298.1,120.2 298.2,117.7 298.3,119.5 298.4,119.2 298.6,119 298.7,120.5 298.8,117.1 298.9,119.3 299,119.1 299.1,118 299.3,120.8 299.4,117.4 299.5,118.8 299.6,118.8 299.7,116.2 299.9,117 300,117.5 300.1,119.4 300.2,119.5 300.3,119.1 300.4,118.6 300.6,115.8 300.7,118.5 300.8,117.6 300.9,119.4 301,119.6 301.2,120.5 301.3,118.7 301.4,118.8 301.5,116.7 301.6,117.9 301.7,116.3 301.9,118.7 302,116.3 302.1,117.3 302.2,116.6 302.3,116.9 302.5,117.8 302.6,116.6 302.7,117.4 302.8,116 302.9,118.6 303,116.3 303.2,118.1 303.3,119.2 303.4,114.1 303.5,115.6 303.6,116.4 303.8,117.9 303.9,115.9 304,116.8 304.1,115.5 304.2,116.9 304.3,114.8 304.5,117 304.6,112.7 304.7,113.8 304.8,117.9 304.9,115.9 305.1,114.7 305.2,118 305.3,116.7 305.4,116.7 305.5,114.8 305.6,115.9 305.8,115.7 305.9,113.2 306,115.6 306.1,114.6 306.2,116.2 306.3,116.1 306.5,113.8 306.6,113.8 306.7,114.6 306.8,115 306.9,113.7 307.1,113.9 307.2,114.6 307.3,114.3 307.4,115 307.5,113.9 307.6,112.5 307.8,111.4 307.9,114.2 308,112.8 308.1,112.7 308.2,112.6 308.4,111.1 308.5,112.3 308.6,109.7 308.7,112.1 308.8,111.4 308.9,114.3 309.1,112.6 309.2,111.8 309.3,112.1 309.4,112.6 309.5,110.8 309.7,111.3 309.8,111 309.9,114.1 310,111.2 310.1,108.8 310.2,111.8 310.4,113.7 310.5,109.5 310.6,114.4 310.7,110.3 310.8,111.3 311,109.4 311.1,109.6 311.2,108.4 311.3,108.4 311.4,107.1 311.5,110.6 311.7,107.9 311.8,109.5 311.9,109.3 312,108 312.1,108.6 312.3,108.3 312.4,107.7 312.5,108.2 312.6,108 312.7,106.7 312.8,106.2 313,106.5 313.1,107.5 313.2,108.7 313.3,108.7 313.4,107.2 313.5,107.8 313.7,106.6 313.8,107.6 313.9,106.3 314,106.4 314.1,105.5 314.3,105.6 314.4,107.6 314.5,103.9 314.6,105.1 314.7,104.3 314.8,105.8 315,106.6 315.1,104 315.2,101.1 315.3,104.7 315.4,104.5 315.6,101.7 315.7,103.2 315.8,103.2 315.9,100.4 316,103.6 316.1,103.2 316.3,102.7 316.4,101 316.5,101.2 316.6,101.1 316.7,102.2 316.9,100.3 317,102.9 317.1,101.4 317.2,98.3 317.3,102.5 317.4,100.5 317.6,99.5 317.7,100 317.8,97.6 317.9,99.7 318,96.4 318.2,97.9 318.3,100.3 318.4,100 318.5,97.9 318.6,97 318.7,98.9 318.9,97.6 319,97.6 319.1,97.8 319.2,95.7 319.3,97.5 319.5,94 319.6,97.8 319.7,94.1 319.8,94.9 319.9,94.6 320,96 320.2,95.7 320.3,95 320.4,95 320.5,94.6 320.6,93.7 320.8,91.4 320.9,90.6 321,90.4 321.1,92.7 321.2,92.2 321.3,92 321.5,92.2 321.6,91.4 321.7,90.3 321.8,89.4 321.9,88.7 322,92 322.2,91.4 322.3,88.5 322.4,89.5 322.5,90 322.6,91.1 322.8,88.3 322.9,88.9 323,89.8 323.1,86.2 323.2,87.1 323.3,87.7 323.5,86.7 323.6,89.7 323.7,88 323.8,87 323.9,85.5 324.1,87.4 324.2,86.9 324.3,85.4 324.4,85.3 324.5,83.9 324.6,85.4 324.8,86.3 324.9,86.3 325,85.7 325.1,85.8 325.2,84 325.4,84.1 325.5,85.9 325.6,84.9 325.7,83.4 325.8,84.8 325.9,85.1 326.1,84.9 326.2,84.2 326.3,83.5 326.4,84.5 326.5,86 326.7,84.2 326.8,83.3 326.9,84.5 327,82.7 327.1,84.4 327.2,83.9 327.4,85.4 327.5,84.4 327.6,85.6 327.7,87.1 327.8,84.3 328,83.7 328.1,85.3 328.2,84.8 328.3,85.2 328.4,84.5 328.5,85.9 328.7,85.5 328.8,83.1 328.9,85.4 329,86.2 329.1,87.4 329.3,85.5 329.4,85.4 329.5,87.8 329.6,86 329.7,86.9 329.8,87.5 330,88 330.1,87.3 330.2,86.2 330.3,88.8 330.4,87.4 330.5,87.4 330.7,90.5 330.8,89.4 330.9,87.3 331,88.2 331.1,88.6 331.3,88.2 331.4,87.1 331.5,90.3 331.6,90.5 331.7,90 331.8,89.5 332,90.4 332.1,91 332.2,89.3 332.3,90.2 332.4,90.1 332.6,91.7 332.7,91.4 332.8,89.8 332.9,90.7 333,93.6 333.1,90.6 333.3,92.1 333.4,91.3 333.5,93.6 333.6,92.3 333.7,92 333.9,91.3 334,92.5 334.1,93.9 334.2,93.9 334.3,91.8 334.4,95.2 334.6,93.3 334.7,92.5 334.8,94 334.9,93.3 335,93.4 335.2,93.5 335.3,94.3 335.4,93.9 335.5,92.7 335.6,95.4 335.7,94.3 335.9,96.4 336,95.8 336.1,96 336.2,95.6 336.3,97 336.5,95.3 336.6,94.6 336.7,96.3 336.8,92.9 336.9,95.7 337,96.5 337.2,95.8 337.3,97.9 337.4,97.3 337.5,96.8 337.6,96.3 337.8,98.1 337.9,96.2 338,96.5 338.1,98 338.2,97.9 338.3,99.6 338.5,97.1 338.6,95.3 338.7,98.3 338.8,99 338.9,97.4 339,99.5 339.2,99.8 339.3,97 339.4,97.3 339.5,96.5 339.6,98.5 339.8,98.8 339.9,98.7 340,96.6 340.1,97.1 340.2,96.4 340.3,96.2 340.5,96.5 340.6,96.2 340.7,97.7 340.8,98.4 340.9,98.6 341.1,97.8 341.2,97 341.3,97.6 341.4,98.2 341.5,97.1 341.6,97.4 341.8,96.8 341.9,96.4 342,96.9 342.1,95.4 342.2,97.6 342.4,94.4 342.5,96.5 342.6,94.1 342.7,97.1 342.8,96 342.9,93.8 343.1,93.8 343.2,92.7 343.3,93.5 343.4,93.6 343.5,95.6 343.7,90.7 343.8,93.2 343.9,90.6 344,91.1 344.1,91.3 344.2,90.5 344.4,89.9 344.5,88.7 344.6,88.5 344.7,88.4 344.8,89.2 345,86 345.1,86.9 345.2,85.9 345.3,86.2 345.4,86.4 345.5,88.7 345.7,90.1 345.8,89.6 345.9,87.1 346,89 346.1,88.1 346.2,90.5 346.4,92.1 346.5,92 346.6,93 346.7,92.6 346.8,91.3 347,92 347.1,94.9 347.2,96.4 347.3,97.9 347.4,96.8 347.5,98 347.7,98.9 347.8,100.5 347.9,99.8 348,99.3 348.1,102.3 348.3,102.2 348.4,102.7 348.5,101.3 348.6,103.3 348.7,101.8 348.8,102 349,104.4 349.1,104.6 349.2,106.2 349.3,107.6 349.4,106.3 349.6,108.7 349.7,106.4 349.8,108.3 349.9,106.3 350,108.2 350.1,108 350.3,108.4 350.4,109.6 350.5,107.1 350.6,109.6 350.7,108.8 350.9,110.1 351,110.6 351.1,110 351.2,110.2 351.3,109.6 351.4,111.7 351.6,110.5 351.7,112 351.8,110.1 351.9,113.4 352,110.9 352.2,113.5 352.3,111.9 352.4,113.2 352.5,112.6 352.6,113.7 352.7,113.1 352.9,114.6 353,114.1 353.1,114.3 353.2,115.5 353.3,113 353.5,115.4 353.6,114.1 353.7,112.5 353.8,114.9 353.9,114.2 354,116.5 354.2,114.1 354.3,114.9 354.4,115.2 354.5,112.9 354.6,115.7 354.7,114.1 354.9,117 355,117.3 355.1,115.6 355.2,113.9 355.3,116 355.5,116.1 355.6,116.8 355.7,115.7 355.8,114.8 355.9,116.1 356,115.3 356.2,118.4 356.3,115.7 356.4,115.9 356.5,116.6 356.6,115.4 356.8,116.3 356.9,116.8 357,116.5 357.1,116.8 357.2,118.6 357.3,117.7 357.5,115.8 357.6,116.9 357.7,118.3 357.8,116.8 357.9,117.7 358.1,117.6 358.2,118.3 358.3,117.6 358.4,117.7 358.5,116.9 358.6,118.4 358.8,117 358.9,120.1 359,118.1 359.1,118 359.2,119.2 359.4,118.2 359.5,118.5 359.6,118.4 359.7,117.7 359.8,117.5 359.9,117.8 360.1,119.9 360.2,118 360.3,118.3 360.4,118.3 360.5,119.6 360.7,121.1 360.8,117.9 360.9,119.6 361,119.2 361.1,118.7 361.2,119.7 361.4,117.7 361.5,120.1 361.6,119.5 361.7,118.2 361.8,121.1 362,120.3 362.1,120.7 362.2,117.8 362.3,119.2 362.4,118.9 362.5,120.3 362.7,121.1 362.8,117.5 362.9,119.7 363,119.5 363.1,120.8 363.2,119.7 363.4,118.3 363.5,119.6 363.6,118.7 363.7,119 363.8,120 364,119.4 364.1,120.3 364.2,118.3 364.3,122.6 364.4,121.5 364.5,120.9 364.7,118.6 364.8,117.7 364.9,119.2 365,119.9 365.1,122.7 365.3,121.7 365.4,119.7 365.5,121.6 365.6,121.7 365.7,120.3 365.8,121.7 366,120.7 366.1,119.6 366.2,119.1 366.3,120.3 366.4,121.6 366.6,118.9 366.7,118.7 366.8,121.1 366.9,117.5 367,122.6 367.1,120.1 367.3,121.4 367.4,122.7 367.5,119 367.6,119.4 367.7,123.2 367.9,120.3 368,120.5 368.1,120.9 368.2,121.9 368.3,122.2 368.4,120.9 368.6,120.4 368.7,120.7 368.8,121.1 368.9,122.3 369,121 369.2,122.9 369.3,119.9 369.4,121.4 369.5,122.8 369.6,122.3 369.7,121.3 369.9,119.9 370,120.1 370.1,120.7 370.2,121.3 370.3,120.7 370.5,119.3 370.6,120.1 370.7,121.6 370.8,121.9 370.9,119.4 371,120.6 371.2,119.1 371.3,120.4 371.4,125 371.5,121.1 371.6,120.7 371.7,120.4 371.9,119.7 372,119 372.1,121 372.2,120.8 372.3,122.8 372.5,119.3 372.6,121.6 372.7,122.6 372.8,118.9 372.9,121.9 373,119.3 373.2,121.7 373.3,122.8 373.4,121.2 373.5,121.5 373.6,120.4 373.8,121.5 373.9,122.5 374,121 374.1,121 374.2,121.6 374.3,122.1 374.5,119.4 374.6,121.3 374.7,120.5 374.8,121.8 374.9,122.4 375.1,121.6 375.2,122.7 375.3,120.1 375.4,120.8 375.5,120.2 375.6,121.3 375.8,121.4 375.9,121.1 376,119.9 376.1,121.2 376.2,120.8 376.4,122 376.5,121 376.6,122.6 376.7,121.6 376.8,119.2 376.9,121.1 377.1,119.7 377.2,122.4 377.3,122.9 377.4,121.3 377.5,121.8 377.7,119.7 377.8,118.8 377.9,120.7 378,121.1 378.1,119.7 378.2,121.5 378.4,121.7 378.5,122.1 378.6,123.1 378.7,122.3 378.8,121 378.9,121.5 379.1,122.1 379.2,120.2 379.3,122.9 379.4,122.4 379.5,121.1 379.7,120.7 379.8,125.7 379.9,122.4 380,122.5 380.1,123.4 380.2,122.5 380.4,121.7 380.5,122.2 380.6,120.4 380.7,122.2 380.8,119.7 381,121.9 381.1,122.1 381.2,119.7 381.3,123.6 381.4,120.2 381.5,122.6 381.7,120.9 381.8,121.8 381.9,120.7 382,124.3 382.1,122.6 382.3,123.5 382.4,122.4 382.5,122.3 382.6,121.6 382.7,121.2 382.8,122.2 383,121.7 383.1,121.3 383.2,119.9 383.3,121.1 383.4,122.2 383.6,121 383.7,121.9 383.8,121.3 383.9,120.3 384,120.5 384.1,120.7 384.3,121.2 384.4,121.2 384.5,122.8 384.6,120.3 384.7,119.2 384.9,122.3 385,121 385.1,121.4 385.2,124.4 385.3,123.2 385.4,122.2 385.6,122.6 385.7,121.7 385.8,122.6 385.9,120.9 386,120.7 386.2,121 386.3,123.3 386.4,123.3 386.5,120.9 386.6,122.9 386.7,121.4 386.9,122.8 387,121.2 387.1,122.6 387.2,121.4 387.3,121.2 387.4,121.5 387.6,121.7 387.7,120.9 387.8,120 387.9,123.5 388,121.1 388.2,119.5 388.3,119 388.4,118.4 388.5,120.9 388.6,123.1 388.7,119.7 388.9,121.2 389,119.5 389.1,122.8 389.2,122 389.3,122 389.5,123.1 389.6,123.5 389.7,122.8 389.8,120.9 389.9,120.1 390,120.4 390.2,119.6 390.3,123.6 390.4,121.4 390.5,121.8 390.6,121.8 390.8,123.9 390.9,121 391,122.9 391.1,122 391.2,121.4 391.3,119.4 391.5,122.7 391.6,120.8 391.7,121.1 391.8,121.9 391.9,121.7 392.1,122.9 392.2,120.9 392.3,121.8 392.4,121.9 392.5,121.7 392.6,122.4 392.8,121.3 392.9,123 393,120.8 393.1,120 393.2,121.6 393.4,123 393.5,121.1 393.6,120.9 393.7,121.2 393.8,121.8 393.9,121.4 394.1,122 394.2,119.7 394.3,123.3 394.4,122.3 394.5,120.7 394.7,123.2 394.8,122.2 394.9,123.3 395,120.3 395.1,123.5 395.2,121.7 395.4,119.3 395.5,122.5 395.6,121.3 395.7,120.5 395.8,121.4 395.9,119.5 396.1,122.3 396.2,121.4 396.3,121.4 396.4,123.3 396.5,121.7 396.7,120.9 396.8,120.6 396.9,121.6 397,122.9 397.1,121 397.2,120.5 397.4,122.7 397.5,121.7 397.6,121.6 397.7,124 397.8,120.3 398,121.9 398.1,119.7 398.2,121.3 398.3,122.3 398.4,122.9 398.5,120.2 398.7,122.6 398.8,122.6 398.9,121.5 399,124.5 399.1,121.7 399.3,120.7 399.4,122.2 399.5,119.6 399.6,123.4 399.7,122.8 399.8,121.2 400,122.4 400.1,122.3 400.2,123.9 400.3,121 400.4,120.2 400.6,119.4 400.7,121.4 400.8,119.9 400.9,121.5 401,122.2 401.1,121.2 401.3,120.6 401.4,123 401.5,121.5 401.6,122 401.7,122.8 401.9,120.2 402,120.6 402.1,124.5 402.2,121.5 402.3,120.5 402.4,121.4 402.6,121 402.7,120.3 402.8,121.2 402.9,121.7 403,121.7 403.1,122.3 403.3,119.7 403.4,120 403.5,122.6 403.6,121.2 403.7,123.1 403.9,122 404,120.1 404.1,122.3 404.2,120.6 404.3,122 404.4,123.1 404.6,124.1 404.7,121.6 404.8,122.5 404.9,122.1 405,122.6 405.2,118.8 405.3,121.3 405.4,122 405.5,122.2 405.6,120.9 405.7,122.6 405.9,123 406,121.8 406.1,121.5 406.2,121.3 406.3,121.9 406.5,123.1 406.6,123.4 406.7,121.2 406.8,120.7 406.9,120.8 407,122.8 407.2,122 407.3,122.1 407.4,122.3 407.5,122.1 407.6,121.6 407.8,120.5 407.9,121 408,121.9 408.1,122.2 408.2,121.3 408.3,121.3 408.5,123.3 408.6,121.2 408.7,122 408.8,121.4 408.9,120.8 409.1,120 409.2,121.1 409.3,120.8 409.4,122.7 409.5,120.4 409.6,121.3 409.8,122.5 409.9,121.6 410,122.3 410.1,122.7 410.2,119.9 410.4,121.3 410.5,120.7 410.6,123.3 410.7,121.6 410.8,122.3 410.9,123.7 411.1,121.3 411.2,121.8 411.3,122.2 411.4,121.4 411.5,123.2 411.6,122.7 411.8,122.9 411.9,121.8 412,121.4 412.1,121.3 412.2,121.3 412.4,119.9 412.5,122.2 412.6,122.7 412.7,121.7 412.8,121.2 412.9,121.8 413.1,122 413.2,122.1 413.3,123.8 413.4,120.8 413.5,122.2 413.7,122.5 413.8,121.8 413.9,121.5 414,120.6 414.1,121.1 414.2,122.5 414.4,123.4 414.5,121 414.6,122.3 414.7,122.3 414.8,122.9 415,122 415.1,122.2 415.2,122.8 415.3,120.5 415.4,121.8 415.5,119.8 415.7,119.6 415.8,120.8 415.9,120 416,122.3 416.1,122.9 416.3,121.4 416.4,121.6 416.5,121.5 416.6,121.5 416.7,121.9 416.8,122.1 417,121.2 417.1,120.9 417.2,121.2 417.3,122.7 417.4,121.3 417.6,123.4 417.7,121.5 417.8,123.3 417.9,120.4 418,121 418.1,122.3 418.3,122.3 418.4,121.6 418.5,124 418.6,121.8 418.7,122.1 418.9,121.1 419,123.6 419.1,122.7 419.2,122.2 419.3,120 419.4,122.2 419.6,121.2 419.7,122.2 419.8,122.8 419.9,120.9 420,122 420.1,122.7 420.3,121.9 420.4,121.4 420.5,120.6 420.6,121 420.7,120.4 420.9,122.9 421,121.9 421.1,120.4 421.2,121.8 421.3,120.3 421.4,118.1 421.6,123.1 421.7,123.1 421.8,120.1 421.9,121 422,122 422.2,121.3 422.3,120.8 422.4,121.2 422.5,121.5 422.6,121.2 422.7,122 422.9,121.5 423,120.9 423.1,121.8 423.2,119.9 423.3,123.4 423.5,119.9 423.6,121.7 423.7,122.1 423.8,122.2 423.9,122.1 424,123.2 424.2,120.5 424.3,121.7 424.4,121.9 424.5,121.2 424.6,121.1 424.8,123.2 424.9,121 425,121.3 425.1,121.5 425.2,121.5 425.3,122 425.5,121.6 425.6,122.2 425.7,121.9 425.8,122.3 425.9,123.3 426.1,120.8 426.2,123.6 426.3,121.3 426.4,122.5 426.5,122 426.6,121.5 426.8,119.6 426.9,123.6 427,120.9 427.1,120.9 427.2,122.9 427.4,121.9 427.5,123.9 427.6,123.6 427.7,122.6 427.8,122.1 427.9,122.6 428.1,120.3 428.2,122 428.3,121.9 428.4,121.3 428.5,122.1 428.6,120.2 428.8,122.8 428.9,123.2 429,120.4 429.1,121.9 429.2,123.5 429.4,122.2 429.5,120.7 429.6,120.7 429.7,122.7 429.8,123.8 429.9,120.6 430.1,121.8 430.2,120.9 430.3,121.5 430.4,122.1 430.5,121.7 430.7,121 430.8,124.1 430.9,121.6 431,121.6 431.1,123 431.2,121.8 431.4,121.6 431.5,122.8 431.6,120.7 431.7,122.6 431.8,122.9 432,122.5 432.1,121.6 432.2,121.8 432.3,119.9 432.4,121.6 432.5,122.1 432.7,122.7 432.8,121.9 432.9,121.4 433,120.9 433.1,121.7 433.3,121.9 433.4,123.1 433.5,121.8 433.6,121.2 433.7,121.7 433.8,121.3 434,121.5 434.1,119.4 434.2,120.1 434.3,120.5 434.4,122.3 434.6,121.7 434.7,122 434.8,123.1 434.9,120.7 435,123 435.1,122.2 435.3,121 435.4,123.4 435.5,120.2 435.6,120.6 435.7,121.6 435.8,122.2 436,121.6 436.1,119.5 436.2,121.5 436.3,121.7 436.4,124.6 436.6,123.3 436.7,121.9 436.8,120.6 436.9,122.2 437,120.5 437.1,122 437.3,122.2 437.4,121.4 437.5,122.1 437.6,121.4 437.7,121.2 437.9,123.5 438,122.4 438.1,121.5 438.2,121 438.3,122 438.4,122.4 438.6,122.7 438.7,123.4 438.8,122.3 438.9,120.6 439,124 439.2,123.1 439.3,122.7 439.4,123.3 439.5,120.2 439.6,121.4 439.7,121.2 439.9,123.1 440,120.5 440.1,121.5 440.2,123.5 440.3,122.5 440.5,121.4 440.6,123.8 440.7,120.4 440.8,122.3 440.9,121.6 441,122.4 441.2,121.5" fill="none" stroke="#73cde0" stroke-width="1.05" stroke-linejoin="round" /><polyline points="252.4,90.2 252.5,91.3 252.6,89.7 252.8,91.7 252.9,90.8 253,92.1 253.1,90.6 253.2,90.4 253.3,91.5 253.5,92.4 253.6,88.9 253.7,91.2 253.8,91.8 253.9,89.6 254.1,90.1 254.2,91.8 254.3,90.2 254.4,90.4 254.5,93 254.6,90.1 254.8,90.2 254.9,88.6 255,89.9 255.1,89.8 255.2,93 255.4,92.4 255.5,89.7 255.6,93.2 255.7,91.9 255.8,90.9 255.9,92 256.1,91.5 256.2,90.3 256.3,89.2 256.4,90.1 256.5,91.1 256.6,90.7 256.8,90.3 256.9,92.2 257,89.9 257.1,92.1 257.2,90.6 257.4,91.2 257.5,89.9 257.6,91.1 257.7,90.3 257.8,89.2 257.9,91.1 258.1,91 258.2,92 258.3,91.4 258.4,90 258.5,90.4 258.7,88.4 258.8,89.9 258.9,92.5 259,92.7 259.1,91.9 259.2,91.4 259.4,91.7 259.5,91.6 259.6,89.2 259.7,90.1 259.8,92.4 260,92.4 260.1,91.4 260.2,90.8 260.3,90.7 260.4,90.5 260.5,90.1 260.7,89 260.8,91.3 260.9,90.6 261,90.9 261.1,93 261.3,91.7 261.4,90.3 261.5,91.7 261.6,89.5 261.7,92.2 261.8,91.4 262,90.9 262.1,91.7 262.2,92.7 262.3,90.6 262.4,90 262.6,93.4 262.7,91.1 262.8,92.7 262.9,90.4 263,91.5 263.1,90.4 263.3,91.8 263.4,90.8 263.5,90.4 263.6,92.8 263.7,91.5 263.9,88.9 264,90.8 264.1,90.1 264.2,89.8 264.3,90.5 264.4,90.6 264.6,91.1 264.7,90.2 264.8,89.1 264.9,90.5 265,92 265.1,89.6 265.3,91.8 265.4,91.6 265.5,90.6 265.6,91.4 265.7,90.3 265.9,90.6 266,90 266.1,91.6 266.2,92.6 266.3,90.3 266.4,92.4 266.6,88.8 266.7,90.1 266.8,90 266.9,93 267,90.4 267.2,91.9 267.3,88.8 267.4,91.2 267.5,91.7 267.6,91 267.7,88.1 267.9,91.3 268,92 268.1,92.5 268.2,91.5 268.3,89.2 268.5,90.8 268.6,92.1 268.7,90.2 268.8,91.7 268.9,90.5 269,91.2 269.2,91.9 269.3,90.3 269.4,94.2 269.5,91.2 269.6,91.4 269.8,90.3 269.9,91.1 270,90.8 270.1,89.5 270.2,89.4 270.3,91.4 270.5,91 270.6,88.2 270.7,88.7 270.8,90.7 270.9,91 271.1,91.7 271.2,89.7 271.3,91.7 271.4,90.7 271.5,90.5 271.6,90.9 271.8,92.1 271.9,91.7 272,92 272.1,90.3 272.2,90.7 272.4,89.8 272.5,90.4 272.6,90.6 272.7,90.5 272.8,91.8 272.9,91.5 273.1,91.9 273.2,91.2 273.3,92.2 273.4,91.2 273.5,92.1 273.6,91.6 273.8,91.8 273.9,91 274,89.7 274.1,89.4 274.2,93.2 274.4,91.5 274.5,91.5 274.6,90.8 274.7,90.5 274.8,94.2 274.9,89.8 275.1,91 275.2,91 275.3,89.8 275.4,89.6 275.5,90.2 275.7,90.6 275.8,90.5 275.9,91.9 276,89.7 276.1,91.5 276.2,92.6 276.4,92 276.5,89.8 276.6,87.8 276.7,91.9 276.8,91.5 277,90.4 277.1,92.4 277.2,90.5 277.3,91.1 277.4,89.8 277.5,91.3 277.7,90.5 277.8,90.4 277.9,92.2 278,91.2 278.1,89.3 278.3,91.7 278.4,91.9 278.5,90.1 278.6,90.5 278.7,91 278.8,90.7 279,91.1 279.1,91.7 279.2,90.4 279.3,93.2 279.4,90.2 279.6,90.4 279.7,93.1 279.8,93.6 279.9,91 280,90.7 280.1,89.8 280.3,92.2 280.4,91.1 280.5,90 280.6,91.4 280.7,92.4 280.9,91.7 281,93.3 281.1,92.2 281.2,91.4 281.3,90.9 281.4,91.5 281.6,92.2 281.7,91.8 281.8,92.1 281.9,91.1 282,91.7 282.1,92.2 282.3,90.7 282.4,89.4 282.5,92.8 282.6,91.5 282.7,90.4 282.9,91.1 283,90.6 283.1,89 283.2,90.6 283.3,89.3 283.4,91.1 283.6,90.7 283.7,92.1 283.8,90.7 283.9,91.2 284,90.5 284.2,90.4 284.3,89.3 284.4,91.9 284.5,91 284.6,90.1 284.7,91 284.9,90.3 285,90 285.1,91 285.2,92.1 285.3,90.4 285.5,89.2 285.6,90.1 285.7,92.7 285.8,89.8 285.9,92 286,90.4 286.2,91.5 286.3,90.6 286.4,88.9 286.5,90.2 286.6,93 286.8,90.5 286.9,91.3 287,90.3 287.1,90.5 287.2,91 287.3,91.1 287.5,93 287.6,90.6 287.7,90.4 287.8,89.8 287.9,89.1 288.1,88.8 288.2,91.3 288.3,88.5 288.4,92.1 288.5,91.5 288.6,90.2 288.8,89.2 288.9,90.5 289,90.5 289.1,91.7 289.2,89.6 289.3,90 289.5,90.4 289.6,90.1 289.7,89.7 289.8,88.5 289.9,88.6 290.1,89.6 290.2,90.1 290.3,91.4 290.4,92.9 290.5,92.2 290.6,90.7 290.8,92.4 290.9,90.1 291,89.7 291.1,92.8 291.2,89.1 291.4,89.8 291.5,89.9 291.6,91.8 291.7,89.5 291.8,91 291.9,89.7 292.1,88.8 292.2,90.4 292.3,90.3 292.4,88.8 292.5,89.1 292.7,89.2 292.8,91.1 292.9,90.5 293,90.2 293.1,90.5 293.2,89.4 293.4,90.4 293.5,89.2 293.6,88.4 293.7,89.1 293.8,90.1 294,89.9 294.1,90.9 294.2,87.9 294.3,89.5 294.4,90.1 294.5,88.6 294.7,89.9 294.8,89.2 294.9,88.4 295,90.8 295.1,88 295.3,90.6 295.4,89 295.5,88.4 295.6,88.5 295.7,88.6 295.8,88.5 296,89.7 296.1,87.3 296.2,90.7 296.3,90.2 296.4,90.8 296.6,88.1 296.7,86.6 296.8,88.5 296.9,88.9 297,89.4 297.1,88.5 297.3,88.9 297.4,89.2 297.5,87.2 297.6,90.9 297.7,87.6 297.8,89.1 298,90 298.1,87.9 298.2,88.7 298.3,90.5 298.4,88.3 298.6,89.8 298.7,88.9 298.8,88.8 298.9,89.3 299,88.2 299.1,88.2 299.3,89.4 299.4,88.6 299.5,88.8 299.6,86.9 299.7,88.2 299.9,89.5 300,89.1 300.1,88.4 300.2,87.4 300.3,87.3 300.4,88.4 300.6,89.4 300.7,87.9 300.8,89.2 300.9,87.4 301,89 301.2,86.5 301.3,87.8 301.4,86.3 301.5,88.2 301.6,88 301.7,86.3 301.9,86.5 302,86.7 302.1,85.5 302.2,86.1 302.3,86.1 302.5,87.9 302.6,88.5 302.7,86.4 302.8,86.5 302.9,87 303,86.1 303.2,86.3 303.3,87.5 303.4,86.8 303.5,86.3 303.6,85.7 303.8,87.9 303.9,85.6 304,86.3 304.1,85 304.2,85.4 304.3,86.1 304.5,85.4 304.6,86.4 304.7,85.8 304.8,84.1 304.9,83.1 305.1,86.6 305.2,84.8 305.3,87 305.4,85.3 305.5,84.4 305.6,85.7 305.8,84.7 305.9,85 306,83.9 306.1,85.5 306.2,85.9 306.3,84 306.5,86.5 306.6,83.8 306.7,84.6 306.8,82.5 306.9,82.1 307.1,86.4 307.2,85.6 307.3,85.2 307.4,82 307.5,84 307.6,84.1 307.8,83.6 307.9,83.8 308,82.3 308.1,83.1 308.2,81.9 308.4,82.7 308.5,83.4 308.6,82 308.7,82.4 308.8,82.2 308.9,82.6 309.1,83.4 309.2,82.6 309.3,82.7 309.4,80.5 309.5,81.6 309.7,82.8 309.8,80.8 309.9,81.2 310,80.5 310.1,82.9 310.2,80.8 310.4,80.4 310.5,81.8 310.6,82.2 310.7,81.4 310.8,81.8 311,80.8 311.1,80.3 311.2,79.9 311.3,79.7 311.4,79.5 311.5,80.4 311.7,79.7 311.8,79.8 311.9,80.3 312,79.4 312.1,77.8 312.3,78.3 312.4,77.8 312.5,76.8 312.6,78.9 312.7,77.3 312.8,77.1 313,77.2 313.1,79.2 313.2,77.7 313.3,79 313.4,77.7 313.5,77.2 313.7,78.1 313.8,78 313.9,77.3 314,75.9 314.1,76.4 314.3,75.4 314.4,76.3 314.5,76.5 314.6,77.9 314.7,77.6 314.8,76.6 315,76.8 315.1,75.8 315.2,78.4 315.3,76.9 315.4,78 315.6,75.3 315.7,75.1 315.8,75.7 315.9,74.5 316,74.5 316.1,72.9 316.3,74.8 316.4,73.7 316.5,74.3 316.6,73 316.7,71.1 316.9,73.4 317,73.9 317.1,71 317.2,71.1 317.3,71.7 317.4,71.5 317.6,69.7 317.7,73.3 317.8,72.3 317.9,70.3 318,68.7 318.2,70.9 318.3,72.5 318.4,71 318.5,71.1 318.6,68.6 318.7,69.6 318.9,67.5 319,71.1 319.1,69.3 319.2,66.1 319.3,66.1 319.5,68.4 319.6,67.8 319.7,67 319.8,67.8 319.9,69.1 320,67 320.2,64.4 320.3,65.9 320.4,64.4 320.5,64.7 320.6,65.6 320.8,64.8 320.9,63.6 321,64.4 321.1,63.3 321.2,64.5 321.3,63.3 321.5,63.7 321.6,62.7 321.7,63.6 321.8,62.3 321.9,62.2 322,61.3 322.2,61.8 322.3,59.4 322.4,64 322.5,60 322.6,60.6 322.8,59.7 322.9,59.4 323,60.1 323.1,58.8 323.2,58.7 323.3,57.4 323.5,57.6 323.6,57.1 323.7,60.1 323.8,56.4 323.9,56.5 324.1,57.7 324.2,58.8 324.3,55.2 324.4,55.1 324.5,56.8 324.6,56.9 324.8,54.8 324.9,54.2 325,55 325.1,56.7 325.2,55.7 325.4,56.5 325.5,55.4 325.6,55.4 325.7,56.1 325.8,55.2 325.9,55.5 326.1,54.2 326.2,54.6 326.3,55.7 326.4,54.9 326.5,54.4 326.7,56 326.8,55.9 326.9,55.3 327,54.6 327.1,56.5 327.2,58.3 327.4,54.7 327.5,54.1 327.6,55 327.7,55 327.8,54.7 328,55 328.1,57.3 328.2,57.5 328.3,58.4 328.4,57.7 328.5,56.6 328.7,58.5 328.8,56.8 328.9,57.3 329,56.5 329.1,59.4 329.3,59.3 329.4,57.9 329.5,58.3 329.6,58.9 329.7,59.3 329.8,60.2 330,59.6 330.1,60.1 330.2,58.3 330.3,59.8 330.4,58.4 330.5,62.5 330.7,62.3 330.8,61.8 330.9,62.4 331,63.6 331.1,62.6 331.3,60.1 331.4,61.8 331.5,59.6 331.6,61.5 331.7,61.3 331.8,62.8 332,63.5 332.1,62.2 332.2,63.1 332.3,63.9 332.4,63.6 332.6,63.8 332.7,61.5 332.8,63.9 332.9,65.4 333,65 333.1,63.2 333.3,64.8 333.4,65.5 333.5,64.3 333.6,66.3 333.7,64.8 333.9,65.5 334,65.9 334.1,68.6 334.2,66 334.3,65.9 334.4,67.4 334.6,66.3 334.7,67.2 334.8,64.6 334.9,67.6 335,67.4 335.2,66.1 335.3,69.1 335.4,67.5 335.5,67.7 335.6,66.6 335.7,66.4 335.9,67.7 336,66.7 336.1,69.1 336.2,69.6 336.3,68.1 336.5,67.1 336.6,68.6 336.7,67.9 336.8,69.4 336.9,69.5 337,69 337.2,69.6 337.3,70.8 337.4,71.6 337.5,69.2 337.6,70.7 337.8,69.7 337.9,68.9 338,71.5 338.1,70.6 338.2,70.4 338.3,70.7 338.5,70.2 338.6,69.3 338.7,72.5 338.8,71.6 338.9,70.9 339,71.8 339.2,72.1 339.3,70.6 339.4,71.4 339.5,70.5 339.6,71.6 339.8,70.6 339.9,73.6 340,70.5 340.1,71.4 340.2,71.4 340.3,70.5 340.5,71.8 340.6,70.7 340.7,70.3 340.8,70.7 340.9,69.8 341.1,71.9 341.2,71.2 341.3,71.4 341.4,68.8 341.5,70.4 341.6,69.2 341.8,69.9 341.9,71.1 342,69.8 342.1,69.1 342.2,70.3 342.4,70 342.5,70.6 342.6,66.3 342.7,68.4 342.8,67.2 342.9,66.4 343.1,67.1 343.2,65.3 343.3,63.7 343.4,64.8 343.5,65 343.7,66.9 343.8,63.6 343.9,62.6 344,61.2 344.1,62.5 344.2,62.1 344.4,62.1 344.5,59.9 344.6,60.2 344.7,58.1 344.8,60.4 345,58.2 345.1,56.6 345.2,60.7 345.3,59.9 345.4,59.7 345.5,59.7 345.7,58.4 345.8,60.9 345.9,58.9 346,62.5 346.1,61.1 346.2,59.3 346.4,62.9 346.5,64.7 346.6,62.9 346.7,65.1 346.8,64.4 347,64.6 347.1,63.2 347.2,68.1 347.3,66.9 347.4,68.6 347.5,67.6 347.7,68.5 347.8,71.4 347.9,70.3 348,70.9 348.1,70.6 348.3,72.8 348.4,73.9 348.5,73.1 348.6,73.9 348.7,73.2 348.8,76.6 349,74.8 349.1,75.7 349.2,78.1 349.3,76.4 349.4,75.3 349.6,76.4 349.7,77.3 349.8,80 349.9,78.6 350,78.4 350.1,79.9 350.3,80.7 350.4,78.7 350.5,81.4 350.6,81 350.7,80.8 350.9,77.9 351,80.9 351.1,82.5 351.2,80.9 351.3,83.9 351.4,81.6 351.6,80.6 351.7,82.6 351.8,82.4 351.9,83.2 352,82.2 352.2,84.1 352.3,82.2 352.4,83.1 352.5,81.7 352.6,82.4 352.7,83.6 352.9,82.8 353,83.2 353.1,83.6 353.2,84.2 353.3,84.9 353.5,85.1 353.6,85.5 353.7,84.7 353.8,84 353.9,82.9 354,84.4 354.2,84 354.3,83 354.4,87 354.5,83.2 354.6,85.7 354.7,86.1 354.9,85.3 355,88.5 355.1,85.8 355.2,85 355.3,87.9 355.5,85.1 355.6,84.5 355.7,85.1 355.8,85.6 355.9,86.4 356,86.8 356.2,84.8 356.3,87 356.4,89.2 356.5,86 356.6,86.7 356.8,87.7 356.9,88.3 357,86.3 357.1,86 357.2,86.1 357.3,88.5 357.5,88.3 357.6,85 357.7,85.1 357.8,86.1 357.9,85.9 358.1,88.1 358.2,88 358.3,90 358.4,88.7 358.5,88 358.6,89.3 358.8,87 358.9,86.5 359,88.2 359.1,89.2 359.2,86.4 359.4,89.3 359.5,89.3 359.6,87.8 359.7,88.6 359.8,88.2 359.9,88.6 360.1,89.5 360.2,87.7 360.3,89.9 360.4,89.7 360.5,89.8 360.7,86.6 360.8,86.8 360.9,89.7 361,88.3 361.1,88.2 361.2,88.2 361.4,87.6 361.5,88.8 361.6,88.4 361.7,88.5 361.8,89.8 362,88 362.1,90.6 362.2,86.9 362.3,92.2 362.4,87.9 362.5,90.1 362.7,90.5 362.8,89.5 362.9,90.4 363,89.5 363.1,87.7 363.2,90.1 363.4,91 363.5,89.1 363.6,87.9 363.7,89.1 363.8,90.2 364,90.2 364.1,91.1 364.2,90.5 364.3,90.5 364.4,87.7 364.5,92.5 364.7,90.1 364.8,91 364.9,89.7 365,89.9 365.1,90.2 365.3,91.9 365.4,91.9 365.5,90.9 365.6,92.4 365.7,89.8 365.8,90.9 366,89.8 366.1,91.8 366.2,90.4 366.3,91.5 366.4,92.3 366.6,88.1 366.7,92.9 366.8,90.8 366.9,90.1 367,88.3 367.1,90.2 367.3,87.9 367.4,90.6 367.5,90.4 367.6,92.6 367.7,90.2 367.9,91.8 368,92 368.1,93 368.2,90.4 368.3,91.5 368.4,89 368.6,89.5 368.7,90.4 368.8,90.7 368.9,89.4 369,90.3 369.2,91.6 369.3,90.3 369.4,90.7 369.5,89.8 369.6,92.4 369.7,92.9 369.9,91.1 370,90.8 370.1,92.8 370.2,91.5 370.3,90.2 370.5,89.4 370.6,90.3 370.7,93.5 370.8,90.3 370.9,94.3 371,91 371.2,90.8 371.3,92.5 371.4,90.8 371.5,91.5 371.6,89.9 371.7,89.7 371.9,90.3 372,91.4 372.1,90.4 372.2,88.9 372.3,91.7 372.5,91 372.6,90.8 372.7,90.5 372.8,88.6 372.9,93 373,90.7 373.2,91.8 373.3,92.8 373.4,92.5 373.5,91.5 373.6,91.2 373.8,91.6 373.9,92.3 374,91.9 374.1,90.8 374.2,91.8 374.3,91.7 374.5,92.1 374.6,91.5 374.7,92.9 374.8,91.5 374.9,92.3 375.1,91.4 375.2,90.7 375.3,90.3 375.4,91.2 375.5,92 375.6,92.8 375.8,91.3 375.9,90.8 376,90.8 376.1,92.8 376.2,91.5 376.4,90.8 376.5,92.2 376.6,89.9 376.7,91.5 376.8,91.4 376.9,91.3 377.1,90.1 377.2,92.5 377.3,93.3 377.4,90 377.5,91.6 377.7,92.2 377.8,94 377.9,91 378,90.4 378.1,91.5 378.2,93.8 378.4,91.6 378.5,91.8 378.6,93.5 378.7,89.1 378.8,89.1 378.9,92.5 379.1,92.4 379.2,90 379.3,92.1 379.4,91.6 379.5,91.8 379.7,90.6 379.8,91 379.9,90.5 380,91.6 380.1,91.3 380.2,93.4 380.4,92.3 380.5,89.8 380.6,92 380.7,93.2 380.8,91.9 381,92.8 381.1,91.5 381.2,92.4 381.3,90.5 381.4,92.5 381.5,90 381.7,93.1 381.8,89.9 381.9,89.2 382,92.2 382.1,91.4 382.3,91.7 382.4,92.1 382.5,91.6 382.6,90.6 382.7,91.9 382.8,92 383,92.2 383.1,93.9 383.2,90.8 383.3,91.7 383.4,92.3 383.6,91.1 383.7,90.3 383.8,91 383.9,92.9 384,91.3 384.1,92.3 384.3,90.8 384.4,92.2 384.5,90.9 384.6,90.7 384.7,91.8 384.9,91.7 385,93.3 385.1,89.8 385.2,92.3 385.3,93.5 385.4,93.2 385.6,91.3 385.7,90.9 385.8,91.1 385.9,92 386,91.9 386.2,92.1 386.3,92.4 386.4,90.5 386.5,90.4 386.6,90.3 386.7,90.2 386.9,91.6 387,92.1 387.1,94.6 387.2,92.3 387.3,91.7 387.4,93.3 387.6,90.9 387.7,92.1 387.8,92.8 387.9,92.6 388,92.2 388.2,91.3 388.3,90.3 388.4,91.6 388.5,91.1 388.6,92.5 388.7,91.6 388.9,92.4 389,89.9 389.1,92.8 389.2,90.8 389.3,90 389.5,90.2 389.6,91 389.7,93 389.8,92.6 389.9,90.4 390,91.9 390.2,91.6 390.3,90 390.4,90.7 390.5,89.5 390.6,90.8 390.8,88.8 390.9,90.9 391,90.7 391.1,90.9 391.2,90.9 391.3,93.1 391.5,91.4 391.6,92.1 391.7,92.6 391.8,92.8 391.9,92.6 392.1,91.2 392.2,90.6 392.3,90.9 392.4,91.3 392.5,91.8 392.6,91.7 392.8,93 392.9,91.7 393,93.8 393.1,93 393.2,91.3 393.4,92.8 393.5,88.6 393.6,93.4 393.7,92.3 393.8,92.3 393.9,89.9 394.1,94.7 394.2,91.5 394.3,91.7 394.4,93.1 394.5,91.6 394.7,90.9 394.8,92.6 394.9,90.7 395,92.7 395.1,92 395.2,93.1 395.4,90.5 395.5,93.2 395.6,92.2 395.7,94.1 395.8,91.1 395.9,93.9 396.1,92.6 396.2,92.7 396.3,91 396.4,92.5 396.5,92.6 396.7,90.9 396.8,90.6 396.9,91 397,93.5 397.1,92 397.2,92.9 397.4,92.2 397.5,92 397.6,92.1 397.7,91.4 397.8,93.2 398,92.1 398.1,92.1 398.2,90.3 398.3,92.2 398.4,91.1 398.5,91.3 398.7,93 398.8,90.7 398.9,91.7 399,92.6 399.1,93.2 399.3,91.3 399.4,92.3 399.5,92.2 399.6,90.6 399.7,89.5 399.8,89.7 400,92.6 400.1,92 400.2,90.4 400.3,91.2 400.4,91.5 400.6,91.5 400.7,91.9 400.8,94.4 400.9,91 401,92.1 401.1,91 401.3,91.2 401.4,90.9 401.5,91.7 401.6,91.3 401.7,92.3 401.9,92.2 402,90.9 402.1,94.1 402.2,90.6 402.3,92.3 402.4,94.4 402.6,91.1 402.7,93.4 402.8,93.5 402.9,92.3 403,89.9 403.1,93.5 403.3,92 403.4,91.3 403.5,93.4 403.6,91.1 403.7,93.1 403.9,91.3 404,92.5 404.1,90.7 404.2,91.5 404.3,90.9 404.4,91.1 404.6,92.2 404.7,91.8 404.8,92.2 404.9,93.4 405,91.8 405.2,89.9 405.3,91.6 405.4,92 405.5,93.1 405.6,93.1 405.7,93 405.9,91.7 406,92.7 406.1,90.3 406.2,93.4 406.3,92.5 406.5,92.5 406.6,91.5 406.7,92 406.8,91.2 406.9,92.6 407,90.5 407.2,93.1 407.3,92.6 407.4,94.3 407.5,91.9 407.6,91.9 407.8,92.2 407.9,92 408,91.9 408.1,90.7 408.2,90.7 408.3,91.4 408.5,91.7 408.6,90.7 408.7,90.7 408.8,91.7 408.9,92.8 409.1,91.8 409.2,92.8 409.3,93.1 409.4,92.9 409.5,91.5 409.6,91.5 409.8,89.9 409.9,91.2 410,92.5 410.1,90.8 410.2,93.5 410.4,93.6 410.5,91.6 410.6,93 410.7,90.4 410.8,90.8 410.9,91.6 411.1,92 411.2,91.8 411.3,91 411.4,94.2 411.5,92.3 411.6,92.3 411.8,92.8 411.9,92.2 412,91.8 412.1,91.4 412.2,90.2 412.4,93.7 412.5,91 412.6,90.2 412.7,91.1 412.8,90.2 412.9,94.3 413.1,92.4 413.2,93.6 413.3,93.7 413.4,92.7 413.5,92.7 413.7,91.2 413.8,91.9 413.9,91.4 414,92.1 414.1,91.3 414.2,93.5 414.4,92.9 414.5,91.9 414.6,90.2 414.7,92.8 414.8,93 415,92 415.1,90.6 415.2,92.5 415.3,93.2 415.4,89.9 415.5,92.7 415.7,90 415.8,92.1 415.9,94 416,92.2 416.1,92.6 416.3,91.7 416.4,92.1 416.5,94.7 416.6,93.6 416.7,91.7 416.8,91.6 417,92.1 417.1,94.5 417.2,92.3 417.3,93.3 417.4,91.7 417.6,90.6 417.7,93.6 417.8,92 417.9,91.2 418,91.3 418.1,91.3 418.3,91.4 418.4,90.4 418.5,93.4 418.6,92.5 418.7,93.2 418.9,91.7 419,92.5 419.1,92.3 419.2,93.4 419.3,93 419.4,92.5 419.6,91.4 419.7,90.7 419.8,91.2 419.9,91.4 420,91.5 420.1,90.7 420.3,94 420.4,92.4 420.5,89.8 420.6,90.9 420.7,90.6 420.9,92.4 421,93.3 421.1,91 421.2,92.8 421.3,91.8 421.4,93.4 421.6,93.6 421.7,92.5 421.8,92.9 421.9,92.1 422,91.7 422.2,90.8 422.3,92.5 422.4,92 422.5,91.7 422.6,92 422.7,91.9 422.9,91 423,91.5 423.1,93.4 423.2,91.9 423.3,93.7 423.5,90.8 423.6,90.6 423.7,92.3 423.8,93 423.9,91.4 424,92.8 424.2,93.2 424.3,93.3 424.4,92 424.5,92.1 424.6,90.3 424.8,92.2 424.9,92.4 425,93.7 425.1,90.7 425.2,91.2 425.3,91 425.5,93.1 425.6,89.3 425.7,90.9 425.8,94.4 425.9,92.9 426.1,90.7 426.2,92.1 426.3,93.1 426.4,92.8 426.5,91.9 426.6,91.3 426.8,93.1 426.9,92.1 427,93.1 427.1,92.6 427.2,91.6 427.4,93.8 427.5,91.6 427.6,92.6 427.7,91.5 427.8,91.9 427.9,91.9 428.1,91.4 428.2,92.4 428.3,93.6 428.4,94.2 428.5,93.8 428.6,92 428.8,93.8 428.9,92.6 429,94.2 429.1,90.8 429.2,93.8 429.4,91.5 429.5,93.5 429.6,91.7 429.7,93.2 429.8,91.9 429.9,90.1 430.1,91.1 430.2,91.9 430.3,92.2 430.4,89.7 430.5,90.8 430.7,91.4 430.8,91.9 430.9,92.4 431,91.3 431.1,90.5 431.2,92.5 431.4,91.8 431.5,93.2 431.6,91.6 431.7,92.9 431.8,91.2 432,92.5 432.1,92.3 432.2,92.7 432.3,91.2 432.4,92.1 432.5,91.3 432.7,92 432.8,92.9 432.9,95.5 433,92.2 433.1,93 433.3,92.3 433.4,93.5 433.5,92.7 433.6,93.4 433.7,92.6 433.8,94.9 434,93.7 434.1,90.3 434.2,92.5 434.3,92.3 434.4,89.8 434.6,91.3 434.7,91.7 434.8,91.4 434.9,92.4 435,90.2 435.1,93 435.3,93.1 435.4,92.6 435.5,91.9 435.6,92.2 435.7,91.7 435.8,93.5 436,92.8 436.1,94.4 436.2,91.8 436.3,93.8 436.4,91.6 436.6,92 436.7,91.1 436.8,92.8 436.9,92.2 437,92.9 437.1,93.9 437.3,92.2 437.4,92.7 437.5,93.2 437.6,92.2 437.7,91.6 437.9,92.6 438,92.8 438.1,93.1 438.2,93.2 438.3,91.5 438.4,92.7 438.6,93.6 438.7,91.7 438.8,92.6 438.9,91.6 439,92.4 439.2,94.2 439.3,92.4 439.4,91.2 439.5,92.6 439.6,92.5 439.7,93.5 439.9,90.7 440,91.2 440.1,92.2 440.2,90.5 440.3,93.5 440.5,90 440.6,91.3 440.7,90.6 440.8,91.5 440.9,93.1 441,92.9 441.2,93.3" fill="none" stroke="#eea236" stroke-width="1.05" stroke-linejoin="round" /><polyline points="252.4,61.9 252.5,59 252.6,61.5 252.8,59.2 252.9,60.7 253,60.8 253.1,60.6 253.2,61.8 253.3,60.3 253.5,63.1 253.6,61.9 253.7,62.5 253.8,62 253.9,62.2 254.1,61.2 254.2,63.4 254.3,60.1 254.4,61.7 254.5,61.2 254.6,61 254.8,61.6 254.9,60.4 255,62.2 255.1,62.1 255.2,61.3 255.4,62 255.5,60.1 255.6,59.2 255.7,60.6 255.8,61 255.9,64 256.1,61 256.2,62.4 256.3,62.1 256.4,63.5 256.5,61.3 256.6,61.9 256.8,61 256.9,60.3 257,60.1 257.1,60.4 257.2,62.8 257.4,61.5 257.5,61 257.6,61.2 257.7,60.6 257.8,61.2 257.9,61.2 258.1,61.9 258.2,62.2 258.3,59.4 258.4,61.5 258.5,62.7 258.7,60.1 258.8,60.9 258.9,61.4 259,62.4 259.1,61.9 259.2,61 259.4,61.8 259.5,62.4 259.6,61.6 259.7,63.3 259.8,61.7 260,60.1 260.1,60.4 260.2,61.1 260.3,61 260.4,61.9 260.5,61.6 260.7,63.1 260.8,62.1 260.9,62.9 261,60.4 261.1,60.7 261.3,62 261.4,61.3 261.5,61.9 261.6,61.5 261.7,60.5 261.8,63.1 262,62.5 262.1,59.5 262.2,60.5 262.3,61.2 262.4,62 262.6,61.1 262.7,59.7 262.8,62.1 262.9,61 263,62.5 263.1,61.5 263.3,62.3 263.4,62.1 263.5,62.2 263.6,60.7 263.7,62.3 263.9,61.4 264,59.8 264.1,60.8 264.2,60.8 264.3,61.7 264.4,62 264.6,60 264.7,62 264.8,61.1 264.9,60.1 265,62.1 265.1,60.4 265.3,59.9 265.4,62 265.5,62.2 265.6,60.5 265.7,62.4 265.9,62.3 266,60.6 266.1,63.4 266.2,61.1 266.3,61.5 266.4,58.6 266.6,61.9 266.7,60.5 266.8,61.7 266.9,59.3 267,62.5 267.2,62.8 267.3,63.3 267.4,58 267.5,61.9 267.6,61.6 267.7,57.9 267.9,60.4 268,61.1 268.1,62.8 268.2,60.3 268.3,61.4 268.5,61.1 268.6,61.6 268.7,60.8 268.8,62.2 268.9,62.3 269,59.7 269.2,62.4 269.3,60.4 269.4,60.9 269.5,62.4 269.6,61.3 269.8,61.8 269.9,62.1 270,61.9 270.1,60.6 270.2,60.2 270.3,62 270.5,62 270.6,61.6 270.7,61 270.8,62.1 270.9,61.2 271.1,59.7 271.2,61.5 271.3,61.8 271.4,62 271.5,60.2 271.6,60.4 271.8,61.6 271.9,60.7 272,61.1 272.1,62.2 272.2,61.6 272.4,63.2 272.5,61.5 272.6,63.1 272.7,62.4 272.8,64 272.9,61.2 273.1,61.1 273.2,62.6 273.3,60.6 273.4,60.7 273.5,61.5 273.6,61.6 273.8,59.7 273.9,61.5 274,60.9 274.1,61.2 274.2,61.4 274.4,61 274.5,62.4 274.6,61.7 274.7,61 274.8,61.3 274.9,62.3 275.1,62.1 275.2,62.6 275.3,61 275.4,61.3 275.5,63.4 275.7,61.2 275.8,63 275.9,62.1 276,60.7 276.1,59.7 276.2,61.9 276.4,60.4 276.5,60.4 276.6,59.3 276.7,62.5 276.8,61.3 277,61.2 277.1,61.6 277.2,61.4 277.3,61.3 277.4,61.7 277.5,60.9 277.7,58.3 277.8,62 277.9,61.6 278,61.2 278.1,62.9 278.3,59.6 278.4,58 278.5,62.8 278.6,61.6 278.7,59.3 278.8,60.7 279,61.8 279.1,59.8 279.2,61.7 279.3,63.4 279.4,62.6 279.6,61.1 279.7,61.5 279.8,60.1 279.9,61.3 280,60.7 280.1,60 280.3,59.6 280.4,63.2 280.5,61.2 280.6,60 280.7,60.6 280.9,62.7 281,62.8 281.1,60.4 281.2,61.3 281.3,62 281.4,60.7 281.6,59.8 281.7,60 281.8,61.1 281.9,60.2 282,59.6 282.1,60.8 282.3,62.1 282.4,61.8 282.5,60.8 282.6,63.1 282.7,60.2 282.9,60.9 283,59.5 283.1,61.8 283.2,60.9 283.3,59.2 283.4,60.1 283.6,62.9 283.7,61.8 283.8,61.1 283.9,61.9 284,59.2 284.2,60 284.3,59.5 284.4,60 284.5,60.5 284.6,61.5 284.7,62 284.9,62 285,63.8 285.1,60.4 285.2,60.9 285.3,61.4 285.5,60 285.6,60.6 285.7,61.3 285.8,59.9 285.9,61.4 286,62.2 286.2,59.6 286.3,58.3 286.4,60.9 286.5,59.7 286.6,61 286.8,60.3 286.9,61.1 287,62 287.1,61.7 287.2,60.4 287.3,59.5 287.5,58 287.6,58.4 287.7,59.8 287.8,60.8 287.9,60 288.1,60 288.2,58.9 288.3,58.9 288.4,58.8 288.5,61.3 288.6,58.5 288.8,61.3 288.9,59.6 289,61.2 289.1,60.8 289.2,61.4 289.3,61.8 289.5,59.7 289.6,59.4 289.7,60 289.8,59.6 289.9,61.2 290.1,60.3 290.2,60.4 290.3,60.9 290.4,59.9 290.5,61.6 290.6,58.3 290.8,60.6 290.9,60.9 291,59.5 291.1,59.5 291.2,61.3 291.4,59.9 291.5,58.1 291.6,58.8 291.7,61.3 291.8,59.2 291.9,61.6 292.1,61.7 292.2,59.9 292.3,60.7 292.4,59.2 292.5,59.7 292.7,59.3 292.8,60.7 292.9,58.6 293,59.9 293.1,60.1 293.2,60.5 293.4,57.6 293.5,58 293.6,59 293.7,59.7 293.8,60 294,60.1 294.1,62 294.2,60.5 294.3,60.4 294.4,59.2 294.5,60.6 294.7,60.5 294.8,60.4 294.9,59.6 295,60.3 295.1,61.3 295.3,58.7 295.4,57.2 295.5,60.4 295.6,60.3 295.7,59.2 295.8,59 296,62.5 296.1,58.9 296.2,58.1 296.3,58.8 296.4,59.9 296.6,58.6 296.7,58.9 296.8,59.6 296.9,58.7 297,59.3 297.1,59.1 297.3,58 297.4,59.2 297.5,57.8 297.6,60 297.7,58 297.8,58.7 298,56.9 298.1,58.4 298.2,57.5 298.3,60.5 298.4,58.7 298.6,59.3 298.7,56.8 298.8,57.3 298.9,58.4 299,57.1 299.1,59.8 299.3,58.1 299.4,58.6 299.5,58.8 299.6,58.2 299.7,59.2 299.9,57.6 300,58.7 300.1,59.5 300.2,58.4 300.3,58.3 300.4,57.7 300.6,58.1 300.7,58.7 300.8,57.7 300.9,56.1 301,58 301.2,57.6 301.3,58.3 301.4,57.7 301.5,59.4 301.6,56.3 301.7,56.5 301.9,58.2 302,56.3 302.1,57.7 302.2,57.3 302.3,55.1 302.5,57.9 302.6,58.6 302.7,57.3 302.8,55.5 302.9,57.8 303,55.8 303.2,56.7 303.3,57.2 303.4,55.9 303.5,54.8 303.6,56.5 303.8,56.5 303.9,55.6 304,55.6 304.1,57.1 304.2,56.2 304.3,55.7 304.5,55.5 304.6,56.2 304.7,56.1 304.8,55.7 304.9,54.4 305.1,55.4 305.2,55 305.3,55.7 305.4,56.8 305.5,56.5 305.6,56.1 305.8,55.4 305.9,54.9 306,55.5 306.1,54.6 306.2,54.6 306.3,54 306.5,54.8 306.6,54.6 306.7,56.6 306.8,55.1 306.9,54.1 307.1,55.2 307.2,53.8 307.3,55.3 307.4,54.9 307.5,57.1 307.6,52.7 307.8,53.7 307.9,53.6 308,53.9 308.1,54.3 308.2,52.4 308.4,52.5 308.5,53.5 308.6,54.1 308.7,51.8 308.8,51.2 308.9,54 309.1,53.6 309.2,53.7 309.3,51.4 309.4,52.1 309.5,52.4 309.7,52.5 309.8,51.8 309.9,51.8 310,52.8 310.1,51.1 310.2,50.9 310.4,50.9 310.5,50.7 310.6,51.2 310.7,50.7 310.8,50.4 311,52.2 311.1,50.9 311.2,50.1 311.3,51.6 311.4,49.6 311.5,50 311.7,49.8 311.8,49.1 311.9,49.2 312,49.5 312.1,47.7 312.3,48.7 312.4,49.2 312.5,49.1 312.6,48.9 312.7,50.9 312.8,49 313,48 313.1,47.8 313.2,47.8 313.3,48.1 313.4,47.1 313.5,48.9 313.7,45.9 313.8,47.6 313.9,47.3 314,45.3 314.1,47 314.3,46.7 314.4,45.3 314.5,48.2 314.6,46.3 314.7,45 314.8,44.7 315,44.2 315.1,45 315.2,44.6 315.3,42.8 315.4,43 315.6,43.1 315.7,43.2 315.8,43 315.9,42.5 316,43.6 316.1,43.7 316.3,42.5 316.4,39.9 316.5,41.8 316.6,42.3 316.7,41.3 316.9,41.4 317,41 317.1,39.1 317.2,37.7 317.3,40.7 317.4,39.2 317.6,39.9 317.7,38.9 317.8,38.7 317.9,40 318,37 318.2,38 318.3,36.5 318.4,37.4 318.5,37.5 318.6,37.4 318.7,36.5 318.9,34.6 319,35.9 319.1,36.2 319.2,36 319.3,36.8 319.5,34.8 319.6,32.8 319.7,32.9 319.8,33.2 319.9,33.8 320,31.1 320.2,32.9 320.3,32.2 320.4,30.2 320.5,31.4 320.6,29.5 320.8,29.9 320.9,29.2 321,29.3 321.1,27.4 321.2,28.7 321.3,25.5 321.5,26.9 321.6,26.3 321.7,28.1 321.8,26.6 321.9,25.1 322,24.2 322.2,24.7 322.3,23.6 322.4,26.1 322.5,20.5 322.6,23 322.8,19.9 322.9,23.2 323,20.8 323.1,22.9 323.2,20.3 323.3,21.6 323.5,20.2 323.6,20.9 323.7,19.3 323.8,15.8 323.9,17.8 324.1,16.6 324.2,18.9 324.3,18.1 324.4,17.3 324.5,17.4 324.6,16.9 324.8,15.8 324.9,18.2 325,16.2 325.1,15.6 325.2,14.1 325.4,14.8 325.5,15.3 325.6,15 325.7,14.6 325.8,15 325.9,13.8 326.1,14.9 326.2,13.3 326.3,14 326.4,14.2 326.5,15.9 326.7,15.6 326.8,15.3 326.9,14.1 327,15 327.1,16.4 327.2,17.1 327.4,14.4 327.5,15.7 327.6,16.5 327.7,17 327.8,16.9 328,17.8 328.1,15.9 328.2,19.3 328.3,16.8 328.4,18.4 328.5,19.2 328.7,20.2 328.8,20.2 328.9,20.6 329,21.3 329.1,20.2 329.3,21.5 329.4,22.7 329.5,20.6 329.6,20.3 329.7,21.1 329.8,24 330,24.2 330.1,22.9 330.2,23.9 330.3,24.5 330.4,25.5 330.5,22.8 330.7,24.5 330.8,25.2 330.9,26.2 331,26.3 331.1,26.2 331.3,27.2 331.4,24.5 331.5,30.8 331.6,28.8 331.7,29.2 331.8,27.9 332,29.3 332.1,31.4 332.2,31.4 332.3,29.9 332.4,28.8 332.6,30.6 332.7,30.4 332.8,31.9 332.9,30 333,31.4 333.1,32.1 333.3,31.6 333.4,33.5 333.5,31.4 333.6,31.6 333.7,32.8 333.9,34.2 334,33.3 334.1,33.2 334.2,34.9 334.3,34.5 334.4,33.9 334.6,34.8 334.7,34.6 334.8,35.7 334.9,35.4 335,34.6 335.2,35.2 335.3,35.4 335.4,36.4 335.5,36.6 335.6,35.5 335.7,36.3 335.9,37 336,37.9 336.1,37.2 336.2,39.1 336.3,37.2 336.5,38.1 336.6,37.1 336.7,36.5 336.8,37.8 336.9,38.3 337,38.2 337.2,38.1 337.3,37.7 337.4,37.3 337.5,37.9 337.6,38.8 337.8,39.3 337.9,34.9 338,39.1 338.1,39.6 338.2,39.8 338.3,38.9 338.5,39.2 338.6,38.1 338.7,38.5 338.8,39.1 338.9,37.4 339,37.7 339.2,38.7 339.3,37 339.4,38.4 339.5,36.7 339.6,38.4 339.8,38.2 339.9,37.4 340,36.9 340.1,37.3 340.2,35.3 340.3,37.1 340.5,37.5 340.6,38.4 340.7,36.4 340.8,36.5 340.9,38 341.1,38.1 341.2,35.5 341.3,36.8 341.4,36.6 341.5,35.6 341.6,33.6 341.8,33.3 341.9,34.5 342,35.9 342.1,32.8 342.2,34.2 342.4,34 342.5,30.2 342.6,30.3 342.7,31.9 342.8,30.8 342.9,29.7 343.1,28.5 343.2,28.5 343.3,26.4 343.4,29 343.5,24.5 343.7,23.1 343.8,24.4 343.9,25.1 344,22.3 344.1,22.1 344.2,20.4 344.4,20.8 344.5,19.2 344.6,18.7 344.7,17.7 344.8,18.3 345,20.6 345.1,18.3 345.2,18.4 345.3,20.5 345.4,17.5 345.5,17.3 345.7,19.2 345.8,17.7 345.9,19.7 346,21.1 346.1,19.4 346.2,20.6 346.4,23.7 346.5,21.6 346.6,22.8 346.7,24.6 346.8,24.9 347,25.3 347.1,28.8 347.2,27.4 347.3,29.3 347.4,29.5 347.5,30.6 347.7,30.3 347.8,33.6 347.9,33 348,35.7 348.1,33.9 348.3,35.4 348.4,37.2 348.5,37.6 348.6,37.5 348.7,38.7 348.8,38.2 349,40.3 349.1,38 349.2,41.6 349.3,43.5 349.4,43.5 349.6,44 349.7,43.2 349.8,44.6 349.9,44.2 350,45 350.1,45.4 350.3,42.4 350.4,47.3 350.5,47.2 350.6,48 350.7,46.5 350.9,48.5 351,48.7 351.1,46.1 351.2,46.9 351.3,49.1 351.4,48.7 351.6,49.7 351.7,49.3 351.8,51.8 351.9,48.5 352,49.3 352.2,49.9 352.3,49.7 352.4,50.8 352.5,51.6 352.6,50.4 352.7,52.4 352.9,53.6 353,53.6 353.1,54.8 353.2,54 353.3,53 353.5,55.1 353.6,54.1 353.7,55.5 353.8,53.5 353.9,51.6 354,52.8 354.2,54.3 354.3,54.9 354.4,54.2 354.5,55.6 354.6,53.5 354.7,54.1 354.9,56 355,55.1 355.1,55.3 355.2,56.8 355.3,56.6 355.5,54.7 355.6,55.9 355.7,54 355.8,55.9 355.9,56.4 356,54.3 356.2,57.9 356.3,58.4 356.4,56.9 356.5,57.5 356.6,58.2 356.8,56.5 356.9,57.9 357,57.3 357.1,55.3 357.2,56.1 357.3,56.5 357.5,58.3 357.6,57.4 357.7,58.4 357.8,56.9 357.9,56.2 358.1,59.8 358.2,60.5 358.3,58.1 358.4,57.6 358.5,59.1 358.6,56.8 358.8,57.8 358.9,56.6 359,58.7 359.1,58.5 359.2,57.8 359.4,57.6 359.5,56.8 359.6,57.6 359.7,59.8 359.8,58.2 359.9,59.9 360.1,57.8 360.2,58.6 360.3,58.3 360.4,58.6 360.5,59.7 360.7,56.8 360.8,59.8 360.9,59.8 361,59.1 361.1,59.2 361.2,58.9 361.4,60 361.5,59.3 361.6,58.4 361.7,59.5 361.8,60.4 362,59.8 362.1,59.5 362.2,59.7 362.3,59 362.4,59.1 362.5,57.6 362.7,59.5 362.8,60.8 362.9,59.3 363,58.8 363.1,60.8 363.2,60 363.4,60 363.5,60.4 363.6,60.7 363.7,60 363.8,59.2 364,61.9 364.1,60.2 364.2,59.3 364.3,60.4 364.4,61.4 364.5,58.7 364.7,61.6 364.8,60.1 364.9,62.4 365,61 365.1,60.3 365.3,61.7 365.4,61.8 365.5,60.1 365.6,60.7 365.7,60 365.8,61.5 366,59.1 366.1,60.4 366.2,58.4 366.3,61.2 366.4,58.3 366.6,59.6 366.7,61 366.8,60.3 366.9,60.3 367,59.7 367.1,60.3 367.3,59 367.4,61.2 367.5,61.7 367.6,61.7 367.7,60.8 367.9,62.2 368,61.4 368.1,61.9 368.2,61.4 368.3,61 368.4,60.2 368.6,58.3 368.7,61.7 368.8,60.9 368.9,63.2 369,59 369.2,62 369.3,60.1 369.4,61.1 369.5,60.2 369.6,61.5 369.7,61.2 369.9,62.1 370,61.4 370.1,61.7 370.2,62.6 370.3,61.8 370.5,61.1 370.6,62.6 370.7,61.2 370.8,61.7 370.9,61 371,60.7 371.2,58.2 371.3,62.1 371.4,60.2 371.5,62.2 371.6,63.3 371.7,60 371.9,62.4 372,61.3 372.1,61.9 372.2,60.2 372.3,61.5 372.5,61.7 372.6,63 372.7,63.8 372.8,61.9 372.9,61.2 373,63.9 373.2,61.5 373.3,61.5 373.4,61.7 373.5,62.1 373.6,62.4 373.8,61 373.9,61.5 374,63.6 374.1,63.3 374.2,62.1 374.3,62 374.5,61.4 374.6,62.8 374.7,61.2 374.8,61.8 374.9,61.2 375.1,61.1 375.2,61.8 375.3,61.8 375.4,61.1 375.5,61.7 375.6,61.8 375.8,61.3 375.9,61.1 376,61.7 376.1,62.5 376.2,63 376.4,62 376.5,61.5 376.6,61.8 376.7,63.8 376.8,62.8 376.9,60.9 377.1,61.8 377.2,61.3 377.3,61.5 377.4,60.1 377.5,61.9 377.7,60.5 377.8,61.3 377.9,63.5 378,63 378.1,61 378.2,60.9 378.4,61 378.5,60 378.6,60.9 378.7,61.7 378.8,60.9 378.9,62.8 379.1,61.9 379.2,61.4 379.3,63.8 379.4,62.7 379.5,62.1 379.7,64 379.8,63.4 379.9,61.3 380,62.4 380.1,61.6 380.2,60.5 380.4,64 380.5,63.6 380.6,60.7 380.7,62.6 380.8,60.4 381,63.2 381.1,62 381.2,61.8 381.3,63.4 381.4,62.1 381.5,61.8 381.7,63.1 381.8,61.8 381.9,63 382,62.1 382.1,63 382.3,62.8 382.4,63 382.5,61.1 382.6,64.1 382.7,62 382.8,64 383,61.5 383.1,61.9 383.2,61.9 383.3,63.4 383.4,61.7 383.6,62.6 383.7,60.5 383.8,61.7 383.9,62.4 384,62.1 384.1,60.2 384.3,62.7 384.4,61.2 384.5,64.3 384.6,62 384.7,64.6 384.9,62.9 385,62.7 385.1,61.7 385.2,62.1 385.3,62.7 385.4,60.2 385.6,63.3 385.7,61 385.8,62 385.9,59.4 386,62.8 386.2,63.1 386.3,62.6 386.4,62.6 386.5,61.9 386.6,62.5 386.7,63.6 386.9,61.9 387,62.8 387.1,63.1 387.2,62.1 387.3,62.6 387.4,62.6 387.6,61.8 387.7,64.9 387.8,61.9 387.9,64.2 388,63.5 388.2,60.2 388.3,62.6 388.4,63.5 388.5,63.2 388.6,61.4 388.7,62.6 388.9,61.1 389,61.3 389.1,62.1 389.2,62.6 389.3,64.1 389.5,62.8 389.6,63.5 389.7,61.1 389.8,61.2 389.9,61.9 390,64.3 390.2,61 390.3,60.7 390.4,62.3 390.5,63.7 390.6,60.7 390.8,62.2 390.9,61 391,64 391.1,63.2 391.2,62.7 391.3,62.4 391.5,62.2 391.6,62.6 391.7,61.8 391.8,61.5 391.9,61.3 392.1,62.5 392.2,61.6 392.3,63.4 392.4,60.2 392.5,63.1 392.6,63 392.8,63.8 392.9,62.2 393,60.9 393.1,61.5 393.2,63.7 393.4,62.2 393.5,62.1 393.6,61.9 393.7,62.4 393.8,62.3 393.9,60.8 394.1,61.9 394.2,63.6 394.3,64.1 394.4,62.4 394.5,62 394.7,64 394.8,62.3 394.9,61.3 395,62.4 395.1,63.3 395.2,64.2 395.4,62 395.5,63.1 395.6,62.2 395.7,63.8 395.8,62.8 395.9,62.8 396.1,61.5 396.2,62.2 396.3,62.2 396.4,58.7 396.5,63.5 396.7,62.6 396.8,62.3 396.9,62.2 397,62.6 397.1,62.8 397.2,61.2 397.4,62.7 397.5,62.7 397.6,62.6 397.7,61 397.8,62.4 398,61.2 398.1,63 398.2,64 398.3,63.5 398.4,62.2 398.5,62 398.7,62 398.8,63 398.9,61.9 399,62 399.1,59.9 399.3,61.7 399.4,61.8 399.5,62.1 399.6,63.9 399.7,61.2 399.8,61.2 400,63.3 400.1,61.6 400.2,62.5 400.3,62.8 400.4,62.7 400.6,61.8 400.7,63.6 400.8,64.3 400.9,61.6 401,62.4 401.1,63.7 401.3,62.4 401.4,61.6 401.5,62.2 401.6,63.6 401.7,61.6 401.9,62.9 402,63.1 402.1,62 402.2,63.3 402.3,63.4 402.4,63.8 402.6,63.7 402.7,61.1 402.8,63.7 402.9,63.3 403,63.7 403.1,61.8 403.3,63.7 403.4,63.1 403.5,61.5 403.6,64.1 403.7,61.9 403.9,61.6 404,63.1 404.1,62.1 404.2,63.1 404.3,62.5 404.4,63 404.6,63.6 404.7,62.7 404.8,63.7 404.9,63.6 405,61.8 405.2,63.7 405.3,63.4 405.4,62.9 405.5,63.9 405.6,64.5 405.7,63.6 405.9,61.2 406,63.2 406.1,62.6 406.2,62.5 406.3,63.1 406.5,62.4 406.6,64.5 406.7,63.1 406.8,62.8 406.9,63.6 407,63.6 407.2,64 407.3,63.5 407.4,62.8 407.5,62.9 407.6,60.5 407.8,61.2 407.9,63.9 408,62.5 408.1,64.7 408.2,64.7 408.3,61.5 408.5,63.1 408.6,65.9 408.7,62 408.8,63.2 408.9,62.6 409.1,62.6 409.2,62.5 409.3,62.8 409.4,63.6 409.5,62 409.6,63.4 409.8,62.1 409.9,63.4 410,63.2 410.1,62 410.2,63 410.4,62.1 410.5,61.9 410.6,64.1 410.7,60.9 410.8,63.5 410.9,63.6 411.1,62.2 411.2,64 411.3,63.8 411.4,61.5 411.5,63.4 411.6,63.4 411.8,62.1 411.9,63.5 412,63.7 412.1,62.1 412.2,60.8 412.4,63.3 412.5,62.1 412.6,61.1 412.7,62.5 412.8,60.3 412.9,62.5 413.1,64.5 413.2,59.9 413.3,63.4 413.4,61.9 413.5,62.5 413.7,61.9 413.8,63.6 413.9,62.9 414,62.1 414.1,61.5 414.2,62.5 414.4,64.1 414.5,61.6 414.6,63.4 414.7,63.3 414.8,60.8 415,64.1 415.1,62.9 415.2,65.3 415.3,64.8 415.4,62.7 415.5,62.8 415.7,61.9 415.8,61.5 415.9,63.8 416,62.7 416.1,62.5 416.3,62.8 416.4,63.7 416.5,64 416.6,63 416.7,62.7 416.8,63.1 417,65.2 417.1,60.7 417.2,61.7 417.3,63.5 417.4,63.1 417.6,64.3 417.7,64.4 417.8,65.1 417.9,62.1 418,63.6 418.1,62.7 418.3,64 418.4,63.2 418.5,63.9 418.6,62.2 418.7,63.2 418.9,62.4 419,62.7 419.1,62.5 419.2,61.9 419.3,64.2 419.4,63.3 419.6,64.2 419.7,61.9 419.8,60.9 419.9,62.3 420,62.8 420.1,63.9 420.3,64.2 420.4,64.3 420.5,64.7 420.6,63.8 420.7,63.1 420.9,62.2 421,63.8 421.1,62.5 421.2,62.2 421.3,63.7 421.4,63.3 421.6,64 421.7,62.3 421.8,64.3 421.9,63.4 422,62.9 422.2,62.2 422.3,61.9 422.4,61.6 422.5,64.6 422.6,61.5 422.7,63.7 422.9,62.8 423,62.4 423.1,62.6 423.2,63 423.3,64 423.5,63.7 423.6,63.1 423.7,61.6 423.8,61.1 423.9,65.1 424,62 424.2,61.4 424.3,64.3 424.4,61.5 424.5,63.9 424.6,64.1 424.8,63.4 424.9,64.1 425,61.6 425.1,61.8 425.2,62.9 425.3,63.1 425.5,63 425.6,63.6 425.7,62.3 425.8,60.8 425.9,63.5 426.1,62.9 426.2,64 426.3,65.4 426.4,63.2 426.5,63.7 426.6,62.1 426.8,64.1 426.9,63.5 427,63.4 427.1,64.1 427.2,61.9 427.4,63.7 427.5,63.6 427.6,64.8 427.7,61.2 427.8,63 427.9,65.5 428.1,62.7 428.2,62.7 428.3,65.1 428.4,65.8 428.5,63.3 428.6,62.4 428.8,62.5 428.9,62.7 429,62.2 429.1,62.3 429.2,63.3 429.4,63.2 429.5,63.7 429.6,63.2 429.7,61.8 429.8,63.9 429.9,63.4 430.1,62.5 430.2,62.9 430.3,63.5 430.4,63.2 430.5,63 430.7,64 430.8,64.3 430.9,62.8 431,63.1 431.1,62 431.2,63 431.4,63.7 431.5,64.1 431.6,63.4 431.7,63.1 431.8,62.4 432,63.4 432.1,62 432.2,63.3 432.3,63.2 432.4,62.2 432.5,63.5 432.7,63 432.8,63.8 432.9,62.7 433,63.7 433.1,64.9 433.3,63.4 433.4,64 433.5,62.5 433.6,62.8 433.7,61.2 433.8,63 434,62 434.1,63.3 434.2,61 434.3,62.3 434.4,63.3 434.6,63.6 434.7,61.4 434.8,62.8 434.9,66 435,64.1 435.1,63.4 435.3,60.3 435.4,62.2 435.5,63.8 435.6,63.5 435.7,63.7 435.8,64.3 436,63.3 436.1,64.1 436.2,61.3 436.3,65.9 436.4,62.9 436.6,62.5 436.7,64.9 436.8,63.9 436.9,64.3 437,62.6 437.1,63.5 437.3,64 437.4,62 437.5,63 437.6,63 437.7,62.9 437.9,62.5 438,61.9 438.1,63.7 438.2,63.5 438.3,64.5 438.4,63.2 438.6,62.5 438.7,61.7 438.8,63.4 438.9,62.9 439,65.4 439.2,65.7 439.3,65 439.4,62.3 439.5,61.8 439.6,63 439.7,62.3 439.9,64.8 440,63.4 440.1,62.8 440.2,63.3 440.3,64.6 440.5,62.3 440.6,63.8 440.7,61.9 440.8,63.1 440.9,62.6 441,63.6 441.2,63.5" fill="none" stroke="#96cc3c" stroke-width="1.05" stroke-linejoin="round" /><line x1="256.4" y1="52.1" x2="275.8" y2="52.1" stroke="#96cc3c" stroke-width="1.0" /><text x="279.6" y="54.7" font-size="8.9" font-weight="bold" text-anchor="start" fill="#000" >S3</text><line x1="256.4" y1="81" x2="275.8" y2="81" stroke="#eea236" stroke-width="1.0" /><text x="279.6" y="83.6" font-size="8.9" font-weight="bold" text-anchor="start" fill="#000" >S2</text><line x1="256.4" y1="111.3" x2="275.8" y2="111.3" stroke="#73cde0" stroke-width="1.0" /><text x="279.6" y="113.9" font-size="8.9" font-weight="bold" text-anchor="start" fill="#000" >S1</text><line x1="256.4" y1="141" x2="275.8" y2="141" stroke="#e8474f" stroke-width="1.0" /><text x="279.6" y="143.6" font-size="8.9" font-weight="bold" text-anchor="start" fill="#000" >S0</text><text x="425.3" y="53.5" font-size="10.0" font-weight="bold" text-anchor="end" fill="#000" >I<tspan font-size="7.3" dy="2.2">D</tspan><tspan dy="-2.2">/I</tspan><tspan font-size="7.3" dy="2.2">G</tspan><tspan dy="-2.2"> = 1.10</tspan></text><text x="425.3" y="83.7" font-size="10.0" font-weight="bold" text-anchor="end" fill="#000" >I<tspan font-size="7.3" dy="2.2">D</tspan><tspan dy="-2.2">/I</tspan><tspan font-size="7.3" dy="2.2">G</tspan><tspan dy="-2.2"> = 1.07</tspan></text><text x="425.3" y="114.5" font-size="10.0" font-weight="bold" text-anchor="end" fill="#000" >I<tspan font-size="7.3" dy="2.2">D</tspan><tspan dy="-2.2">/I</tspan><tspan font-size="7.3" dy="2.2">G</tspan><tspan dy="-2.2"> = 1.05</tspan></text><text x="425.3" y="144.7" font-size="10.0" font-weight="bold" text-anchor="end" fill="#000" >I<tspan font-size="7.3" dy="2.2">D</tspan><tspan dy="-2.2">/I</tspan><tspan font-size="7.3" dy="2.2">G</tspan><tspan dy="-2.2"> = 0.92</tspan></text><rect x="489.9" y="3.4" width="188.5" height="166.4" fill="none" stroke="#3a3a3a" stroke-width="1"/><line x1="678" y1="169.8" x2="678" y2="172.8" stroke="#3a3a3a" stroke-width="1.0" /><text x="678" y="184.7" font-size="11.2" text-anchor="middle" fill="#000" >0</text><line x1="648.8" y1="169.8" x2="648.8" y2="171.8" stroke="#3a3a3a" stroke-width="1.0" /><line x1="619.6" y1="169.8" x2="619.6" y2="172.8" stroke="#3a3a3a" stroke-width="1.0" /><text x="619.6" y="184.7" font-size="11.2" text-anchor="middle" fill="#000" >300</text><line x1="590.5" y1="169.8" x2="590.5" y2="171.8" stroke="#3a3a3a" stroke-width="1.0" /><line x1="561.3" y1="169.8" x2="561.3" y2="172.8" stroke="#3a3a3a" stroke-width="1.0" /><text x="561.3" y="184.7" font-size="11.2" text-anchor="middle" fill="#000" >600</text><line x1="532.1" y1="169.8" x2="532.1" y2="171.8" stroke="#3a3a3a" stroke-width="1.0" /><line x1="502.9" y1="169.8" x2="502.9" y2="172.8" stroke="#3a3a3a" stroke-width="1.0" /><text x="502.9" y="184.7" font-size="11.2" text-anchor="middle" fill="#000" >900</text><text x="577.2" y="201.6" font-size="11.7" text-anchor="middle" fill="#000" >Binding energy (eV)</text><text transform="translate(482.8,91) rotate(-90)" x="0" y="0" font-size="11.7" text-anchor="middle" fill="#000">Intensity (a.u.)</text><text x="472.6" y="10.6" font-size="11" font-weight="bold" text-anchor="start" fill="#000" >(c)</text><polyline points="489.6,35.2 490.3,43.8 490.8,44.4 491.3,44.9 491.8,46.2 492.2,46.5 492.6,46.8 493,46.5 493.4,47.8 493.8,47.8 494.2,47.1 494.6,47.1 495,47.2 495.5,47.3 495.9,47.2 496.4,46.2 496.8,46.9 497.2,45.9 497.7,47.1 498.1,47.4 498.6,46.3 499,47 499.5,47.3 499.9,48 500.4,50.5 500.8,49.7 501.3,49.3 501.7,48.6 502.1,49.1 502.6,48.6 503,48.9 503.5,48.3 503.9,49 504.4,49.1 504.9,52 505.4,54.6 505.9,56.5 506.4,58.5 506.9,59.5 507.3,60.3 507.7,60.6 508.2,61.2 508.6,61 509,61.8 509.4,62.5 509.8,62.9 510.2,61.5 510.7,62.9 511.1,62.5 511.5,62.6 511.9,63.2 512.3,62.8 512.8,63.5 513.2,63.3 513.7,62.5 514.1,62.1 514.6,64.8 515,66.1 515.5,66.1 516,70.2 516.4,74.3 516.9,78.4 517.3,78.8 517.8,81 518.2,80.5 518.7,82 519.1,81.7 519.5,82.3 519.9,82.3 520.3,82.9 520.8,83.8 521.2,82.9 521.6,83.5 522,84.4 522.4,83.5 522.8,85 523.2,82.6 523.7,85 524.1,82.7 524.5,83.6 525,82.6 525.5,80.4 526,82.6 526.5,85 527,87.5 527.4,88.4 527.9,89.1 528.3,89.7 528.8,90.4 529.2,89.3 529.7,91.1 530.1,89.8 530.5,91.3 530.9,90.8 531.3,90.7 531.8,92.7 532.2,92.4 532.6,93.3 533,92 533.4,92.1 533.9,92.7 534.3,92.2 534.8,92.5 535.2,91.9 535.7,92.3 536.1,92 536.6,93 537.1,88.3 537.6,83.7 538,92 538.5,100.2 539,95.6 539.4,91.1 539.9,86.5 540.5,104.5 540.9,124 541.4,123.1 541.9,123.4 542.4,124.5 542.8,125.1 543.3,124.1 543.7,124 544.1,124.9 544.5,123.9 545,124.5 545.4,124.4 545.8,123.2 546.3,124.2 546.7,124.1 547.1,123.2 547.6,123.2 548,123 548.4,124.6 548.9,125 549.3,124 549.7,124.5 550.1,122.6 550.6,124.3 551,124.6 551.4,124.3 551.8,122.6 552.2,123.9 552.7,123.1 553.1,123.8 553.5,122.6 553.9,123 554.3,122.6 554.7,123.2 555.1,122.8 555.6,123.5 556,123.3 556.4,123 556.8,122.7 557.2,122.5 557.6,122.7 558.1,123.1 558.5,122.7 558.9,122.8 559.3,122.6 559.7,122.5 560.2,122.1 560.6,121.3 561,122.9 561.4,122.8 561.8,121.7 562.3,123.5 562.7,121.5 563.1,122.8 563.5,122.2 563.9,122.2 564.4,122.7 564.8,122.5 565.2,121.8 565.6,121.1 566,120.9 566.5,121.8 566.9,122.6 567.3,122.1 567.7,121.4 568.2,121.6 568.6,121.8 569,122.4 569.4,120.1 569.8,120.4 570.2,119.5 570.6,119.9 571.1,120.8 571.5,123.3 572,124 572.4,124.9 572.9,126.3 573.6,110 574.1,85 574.7,83.6 575.2,90 575.5,120 575.9,134.8 576.3,134.2 576.7,134.7 577.2,135.7 577.6,136.1 578,135.4 578.4,135.1 578.8,134.4 579.2,134.3 579.6,135.1 580,135 580.4,134.5 580.8,134.5 581.2,135.8 581.6,135.4 582,134.8 582.4,134.9 582.8,135.5 583.2,134.9 583.6,134.8 584,133.6 584.4,133.4 584.9,133.2 585.3,132.9 585.7,134.3 586.1,134.5 586.6,133.6 587,134.4 587.4,134.4 587.8,134 588.3,133 588.7,134.8 589.1,134.7 589.5,133.4 590,134.9 590.4,133.6 590.8,133 591.2,133.2 591.6,132.2 592,133.1 592.4,132.2 592.8,133.9 593.2,133.3 593.6,132.2 594,133.4 594.4,131.8 594.9,132.9 595.3,133 595.7,132.7 596.2,131.8 596.6,132.4 597,132.3 597.5,132.3 597.9,133.2 598.3,133.2 598.8,132.9 599.2,131.3 599.6,131.6 600.4,125.2 600.8,128.3 601.2,130.1 601.7,130.9 602.1,132.4 602.6,130.3 603.1,130.5 603.5,130.4 604,131.1 604.4,130.7 604.8,130.4 605.2,129.6 605.6,130.9 606,130.4 606.4,129.9 606.8,130.3 607.2,130.7 607.6,129.1 608,129 608.4,129.2 608.9,129.2 609.3,127.7 609.7,129.2 610.1,130.2 610.5,129.2 610.9,129.9 611.4,127.3 611.8,129 612.2,129.9 612.6,129.9 613,128.4 613.5,128.1 613.9,128.8 614.3,127.5 614.7,127.8 615.2,126.8 615.6,127.7 616,127.4 616.4,127.7 616.9,126 617.3,124.6 617.8,125.8 618.3,126.8 619,131 619.7,137.5 620.3,140.6 620.9,138 621.5,128 622,90 622.4,40 622.7,19.3 623,40 623.3,100 623.6,150 623.9,157.2 624.3,157.9 624.7,157.5 625.2,158.1 625.6,156.8 626,157.1 626.4,156.3 626.8,158 627.2,157.2 627.6,158.2 628,158.1 628.4,156.8 628.8,158.2 629.2,157.9 629.6,157.9 630,158.1 630.4,157.8 630.8,157.8 631.2,158.5 631.6,157.2 632,157.1 632.4,157.4 632.8,158.5 633.2,157.7 633.6,159.1 634,155.9 634.4,157.4 634.8,157.6 635.2,158.1 635.6,158.8 636,157.8 636.4,157.3 636.8,158.5 637.2,159 637.6,156.3 638,158.3 638.4,158.2 638.8,157.4 639.2,157.7 639.6,158.2 640,158 640.4,157.8 640.8,157.3 641.2,158.2 641.6,157.6 642,158.1 642.4,157.7 642.8,158.2 643.2,158.6 643.6,158.2 644,158.5 644.4,157.2 644.8,158.4 645.2,158.3 645.6,157.7 646,158 646.4,156.3 646.8,158.2 647.2,157.9 647.6,156.7 648,158.5 648.4,157.8 648.8,158.4 649.2,158 649.6,158.5 650,158.3 650.4,158 650.8,158.5 651.2,158.8 651.6,156.7 652.1,158.2 652.5,157.8 652.9,157.5 653.3,159.1 653.7,158.9 654.1,157.6 654.5,157.5 654.9,158.8 655.4,157.9 655.8,158.1 656.2,157 656.6,158.2 657,159 657.5,157.8 657.9,157.8 658.4,158.8 658.8,158.1 659.3,158.2 659.7,158 660.1,158.7 660.6,157.1 661,158 661.4,157.4 661.9,160 662.3,158.7 662.7,158.5 663.1,158.1 663.6,158 664,156.9 664.5,159.9 664.9,158.2 665.4,158 665.8,156.8 666.3,157.5 666.9,154.2 667.5,158 668,163.5 668.4,163.1 668.8,164.1 669.2,164.7 669.6,164.7 670,164.7 670.4,164.6 670.9,164.1 671.3,165.3 671.7,164.8 672.1,164.6 672.6,165.8 673,164.4 673.4,165.3 673.9,166.4 674.3,166.7 674.7,166 675.1,166.5 675.6,167 676,166.7 676.4,166.4 676.9,167.3 677.3,167.2 677.8,167.3 678.2,168" fill="none" stroke="#5a9eca" stroke-width="1.05" stroke-linejoin="round" /><line x1="504.7" y1="47.4" x2="518.6" y2="41.7" stroke="#7fd07f" stroke-width="0.8" /><line x1="513.6" y1="63" x2="522.7" y2="45.3" stroke="#7fd07f" stroke-width="0.8" /><line x1="525.6" y1="47.8" x2="525.6" y2="79.5" stroke="#7fd07f" stroke-width="0.8" /><text transform="translate(524,46.6) rotate(-42)" x="0" y="0" font-size="10.2" font-weight="bold" text-anchor="start" fill="#000">Fe MLL</text><rect x="533.2" y="81.3" width="10" height="23.8" fill="none" stroke="#ef4a4a" stroke-width="0.8" stroke-dasharray="2,1.5"/><text transform="translate(542.6,52) rotate(-90)" x="0" y="0" font-size="10.3" font-weight="bold" text-anchor="end" fill="#000">Fe 2p</text><text transform="translate(578.4,58.4) rotate(-90)" x="0" y="0" font-size="10.3" font-weight="bold" text-anchor="end" fill="#000">O 1s</text><text transform="translate(633.8,9.4) rotate(-90)" x="0" y="0" font-size="10.3" font-weight="bold" text-anchor="end" fill="#000">C 1s</text><text transform="translate(672.2,124.2) rotate(-90)" x="0" y="0" font-size="10.3" font-weight="bold" text-anchor="end" fill="#000">Fe 3p</text><rect x="20.6" y="215.5" width="187.70000000000002" height="166.89999999999998" fill="none" stroke="#3a3a3a" stroke-width="1"/><line x1="33.1" y1="382.4" x2="33.1" y2="385.7" stroke="#3a3a3a" stroke-width="1.0" /><text x="33.1" y="398.4" font-size="11.2" text-anchor="middle" fill="#000" >294</text><line x1="70.6" y1="382.4" x2="70.6" y2="385.7" stroke="#3a3a3a" stroke-width="1.0" /><text x="70.6" y="398.4" font-size="11.2" text-anchor="middle" fill="#000" >291</text><line x1="108.2" y1="382.4" x2="108.2" y2="385.7" stroke="#3a3a3a" stroke-width="1.0" /><text x="108.2" y="398.4" font-size="11.2" text-anchor="middle" fill="#000" >288</text><line x1="145.7" y1="382.4" x2="145.7" y2="385.7" stroke="#3a3a3a" stroke-width="1.0" /><text x="145.7" y="398.4" font-size="11.2" text-anchor="middle" fill="#000" >285</text><line x1="183.2" y1="382.4" x2="183.2" y2="385.7" stroke="#3a3a3a" stroke-width="1.0" /><text x="183.2" y="398.4" font-size="11.2" text-anchor="middle" fill="#000" >282</text><text x="108.5" y="412.7" font-size="11.7" text-anchor="middle" fill="#000" >Binding energy (eV)</text><text transform="translate(13.6,301.3) rotate(-90)" x="0" y="0" font-size="11.7" text-anchor="middle" fill="#000">Intensity (a.u.)</text><text x="2" y="222.5" font-size="11" font-weight="bold" text-anchor="start" fill="#000" >(d)</text><polyline points="133,362.6 133.2,362.6 133.5,362.6 133.7,362.6 133.9,362.6 134.1,362.6 134.3,362.7 134.5,362.7 134.7,362.7 134.9,362.7 135.1,362.7 135.3,362.8 135.5,362.8 135.7,362.8 135.9,362.8 136.2,362.8 136.4,362.9 136.6,362.9 136.8,362.9 137,363 137.2,363 137.4,363 137.6,363 137.8,363.1 138,363.1 138.2,363.1 138.4,363.2 138.6,363.2 138.9,363.3 139.1,363.3 139.3,363.3 139.5,363.4 139.7,363.4 139.9,363.5 140.1,363.5 140.3,363.6 140.5,363.6 140.7,363.6 140.9,363.7 141.1,363.7 141.3,363.8 141.6,363.8 141.8,363.9 142,364 142.2,364 142.4,364.1 142.6,364.1 142.8,364.2 143,364.2 143.2,364.3 143.4,364.4 143.6,364.4 143.8,364.5 144,364.6 144.3,364.6 144.5,364.7 144.7,364.8 144.9,364.8 145.1,364.9 145.3,365 145.5,365 145.7,365.1 145.9,365.2 146.1,365.2 146.3,365.3 146.5,365.4 146.7,365.4 147,365.5 147.2,365.6 147.4,365.7 147.6,365.7 147.8,365.8 148,365.9 148.2,365.9 148.4,366 148.6,366.1 148.8,366.1 149,366.2 149.2,366.3 149.4,366.4 149.7,366.4 149.9,366.5 150.1,366.6 150.3,366.6 150.5,366.7 150.7,366.7 150.9,366.8 151.1,366.9 151.3,366.9 151.5,367 151.7,367 151.9,367.1 152.1,367.2 152.4,367.2 152.6,367.3 152.8,367.3 153,367.4 153.2,367.4 153.4,367.5 153.6,367.5 153.8,367.6 154,367.6 154.2,367.7 154.4,367.7 154.6,367.8 154.8,367.8 155.1,367.8 155.3,367.9 155.5,367.9 155.7,368 155.9,368 156.1,368 156.3,368.1 156.5,368.1 156.7,368.1 156.9,368.2 157.1,368.2 157.3,368.2 157.5,368.3 157.8,368.3 158,368.3 158.2,368.3 158.4,368.4 158.6,368.4 158.8,368.4 159,368.4 159.2,368.5 159.4,368.5 159.6,368.5 159.8,368.5 160,368.5 160.2,368.6 160.5,368.6 160.7,368.6 160.9,368.6 161.1,368.6 161.3,368.7 161.5,368.7 161.7,368.7 161.9,368.7 162.1,368.7 162.3,368.7 162.5,368.7 162.7,368.8 162.9,368.8 163.1,368.8 163.4,368.8 163.6,368.8 163.8,368.8 164,368.8 164.2,368.8 164.4,368.8 164.6,368.9 164.8,368.9 165,368.9 165.2,368.9 165.4,368.9 165.6,368.9 165.8,368.9 166.1,368.9 166.3,368.9 166.5,368.9 166.7,368.9 166.9,368.9 167.1,368.9 167.3,369 167.5,369 167.7,369 167.9,369 168.1,369 168.3,369 168.5,369 168.8,369 169,369 169.2,369 169.4,369 169.6,369 169.8,369 170,369 170.2,369 170.4,369 170.6,369 170.8,369 171,369 171.2,369 171.5,369 171.7,369 171.9,369 172.1,369 172.3,369 172.5,369 172.7,369 172.9,369 173.1,369.1 173.3,369.1 173.5,369.1 173.7,369.1 173.9,369.1 174.2,369.1 174.4,369.1 174.6,369.1 174.8,369.1 175,369.1 175.2,369.1 175.4,369.1 175.6,369.1 175.8,369.1 176,369.1 176.2,369.1 176.4,369.1 176.6,369.1 176.9,369.1 177.1,369.1 177.3,369.1 177.5,369.1 177.7,369.1 177.9,369.1 178.1,369.1 178.3,369.1 178.5,369.1 178.7,369.1 178.9,369.1 179.1,369.1 179.3,369.1 179.6,369.1 179.8,369.1 180,369.1 180.2,369.1 180.4,369.1 180.6,369.1 180.8,369.1 181,369.1 181.2,369.1 181.4,369.1 181.6,369.1 181.8,369.1 182,369.1 182.3,369.1 182.5,369.1 182.7,369.1 182.9,369.1 183.1,369.1 183.3,369.1 183.5,369.1 183.7,369.1 183.9,369.1 184.1,369.1 184.3,369.1 184.5,369.1 184.7,369.1 185,369.1 185.2,369.1 185.4,369.1 185.6,369.1 185.8,369.1 186,369.1 186.2,369.1 186.4,369.1 186.6,369.1 186.8,369.1 187,369.1 187.2,369.1 187.4,369.1 187.7,369.1 187.9,369.1 188.1,369.1 188.3,369.1 188.5,369.1 188.7,369.1 188.9,369.1 189.1,369.1 189.3,369.1 189.5,369.1 189.7,369.1 189.9,369.1 190.1,369.1 190.4,369.1 190.6,369.1 190.8,369.1 191,369.1 191.2,369.1 191.4,369.1 191.6,369.1 191.8,369.1 192,369.1 192.2,369.1 192.4,369.1 192.6,369.1 192.8,369.1 193.1,369.1 193.3,369.1 193.5,369.1 193.7,369.1 193.9,369.1 194.1,369.1 194.3,369.1 194.5,369.1 194.7,369.1 194.9,369.1 195.1,369.1 195.3,369.1 195.5,369.1 195.8,369.1 196,369.1 196.2,369.1 196.4,369.1 196.6,369.1 196.8,369.1 197,369.1 197.2,369.1 197.4,369.1 197.6,369.1 197.8,369.1 198,369.1 198.2,369.1 198.5,369.1 198.7,369.1 198.9,369.1 199.1,369.1 199.3,369.1 199.5,369.1 199.7,369.1 199.9,369.1 200.1,369.1 200.3,369.1 200.5,369.1 200.7,369.1 200.9,369.1 201.2,369.1 201.4,369.1 201.6,369.1 201.8,369.1 202,369.1 202.2,369.1 202.4,369.1 202.6,369.1 202.8,369.1 203,369.1 203.2,369.1 203.4,369.1 203.6,369.1 203.9,369.1 204.1,369.1 204.3,369.1 204.5,369.1 204.7,369.1 204.9,369.1 205.1,369.1 205.3,369.1 205.5,369.1 205.7,369.1 205.9,369.1 206.1,369.1 206.3,369.1 206.6,369.1 206.8,369.1 207,369.1 207.2,369.1 207.4,369.1 207.6,369.1 207.8,369.1" fill="none" stroke="#f05a4a" stroke-width="0.8" stroke-linejoin="round" /><polyline points="51,360.8 51.2,360.7 51.4,360.7 51.6,360.7 51.8,360.7 52,360.7 52.3,360.7 52.5,360.6 52.7,360.6 52.9,360.6 53.1,360.6 53.3,360.6 53.5,360.6 53.7,360.5 53.9,360.5 54.1,360.5 54.3,360.5 54.5,360.5 54.7,360.4 55,360.4 55.2,360.4 55.4,360.4 55.6,360.4 55.8,360.4 56,360.3 56.2,360.3 56.4,360.3 56.6,360.3 56.8,360.3 57,360.2 57.2,360.2 57.4,360.2 57.7,360.2 57.9,360.1 58.1,360.1 58.3,360.1 58.5,360.1 58.7,360.1 58.9,360 59.1,360 59.3,360 59.5,360 59.7,359.9 59.9,359.9 60.1,359.9 60.4,359.9 60.6,359.9 60.8,359.8 61,359.8 61.2,359.8 61.4,359.8 61.6,359.7 61.8,359.7 62,359.7 62.2,359.7 62.4,359.6 62.6,359.6 62.8,359.6 63.1,359.6 63.3,359.5 63.5,359.5 63.7,359.5 63.9,359.4 64.1,359.4 64.3,359.4 64.5,359.4 64.7,359.3 64.9,359.3 65.1,359.3 65.3,359.2 65.5,359.2 65.8,359.2 66,359.2 66.2,359.1 66.4,359.1 66.6,359.1 66.8,359 67,359 67.2,359 67.4,359 67.6,358.9 67.8,358.9 68,358.9 68.2,358.8 68.4,358.8 68.7,358.8 68.9,358.7 69.1,358.7 69.3,358.7 69.5,358.6 69.7,358.6 69.9,358.6 70.1,358.6 70.3,358.5 70.5,358.5 70.7,358.5 70.9,358.4 71.1,358.4 71.4,358.4 71.6,358.3 71.8,358.3 72,358.3 72.2,358.2 72.4,358.2 72.6,358.2 72.8,358.1 73,358.1 73.2,358.1 73.4,358 73.6,358 73.8,358 74.1,357.9 74.3,357.9 74.5,357.9 74.7,357.8 74.9,357.8 75.1,357.8 75.3,357.7 75.5,357.7 75.7,357.7 75.9,357.6 76.1,357.6 76.3,357.6 76.5,357.5 76.8,357.5 77,357.5 77.2,357.4 77.4,357.4 77.6,357.4 77.8,357.3 78,357.3 78.2,357.3 78.4,357.2 78.6,357.2 78.8,357.2 79,357.1 79.2,357.1 79.5,357.1 79.7,357 79.9,357 80.1,357 80.3,356.9 80.5,356.9 80.7,356.9 80.9,356.8 81.1,356.8 81.3,356.8 81.5,356.7 81.7,356.7 81.9,356.7 82.2,356.6 82.4,356.6 82.6,356.6 82.8,356.5 83,356.5 83.2,356.5 83.4,356.4 83.6,356.4 83.8,356.4 84,356.3 84.2,356.3 84.4,356.3 84.6,356.2 84.9,356.2 85.1,356.2 85.3,356.2 85.5,356.1 85.7,356.1 85.9,356.1 86.1,356 86.3,356 86.5,356 86.7,355.9 86.9,355.9 87.1,355.9 87.3,355.9 87.6,355.8 87.8,355.8 88,355.8 88.2,355.7 88.4,355.7 88.6,355.7 88.8,355.7 89,355.6 89.2,355.6 89.4,355.6 89.6,355.6 89.8,355.5 90,355.5 90.3,355.5 90.5,355.5 90.7,355.4 90.9,355.4 91.1,355.4 91.3,355.4 91.5,355.4 91.7,355.3 91.9,355.3 92.1,355.3 92.3,355.3 92.5,355.2 92.7,355.2 93,355.2 93.2,355.2 93.4,355.2 93.6,355.1 93.8,355.1 94,355.1 94.2,355.1 94.4,355.1 94.6,355.1 94.8,355 95,355 95.2,355 95.4,355 95.7,355 95.9,355 96.1,354.9 96.3,354.9 96.5,354.9 96.7,354.9 96.9,354.9 97.1,354.9 97.3,354.9 97.5,354.9 97.7,354.8 97.9,354.8 98.1,354.8 98.4,354.8 98.6,354.8 98.8,354.8 99,354.8 99.2,354.8 99.4,354.8 99.6,354.8 99.8,354.8 100,354.7 100.2,354.7 100.4,354.7 100.6,354.7 100.8,354.7 101.1,354.7 101.3,354.7 101.5,354.7 101.7,354.7 101.9,354.7 102.1,354.7 102.3,354.7 102.5,354.7 102.7,354.7 102.9,354.7 103.1,354.7 103.3,354.7 103.5,354.7 103.8,354.7 104,354.7 104.2,354.7 104.4,354.7 104.6,354.7 104.8,354.7 105,354.7 105.2,354.7 105.4,354.7 105.6,354.7 105.8,354.7 106,354.7 106.2,354.8 106.5,354.8 106.7,354.8 106.9,354.8 107.1,354.8 107.3,354.8 107.5,354.8 107.7,354.8 107.9,354.8 108.1,354.8 108.3,354.8 108.5,354.9 108.7,354.9 108.9,354.9 109.2,354.9 109.4,354.9 109.6,354.9 109.8,354.9 110,355 110.2,355 110.4,355 110.6,355 110.8,355 111,355 111.2,355 111.4,355.1 111.6,355.1 111.9,355.1 112.1,355.1 112.3,355.1 112.5,355.2 112.7,355.2 112.9,355.2 113.1,355.2 113.3,355.2 113.5,355.3 113.7,355.3 113.9,355.3 114.1,355.3 114.3,355.3 114.6,355.4 114.8,355.4 115,355.4 115.2,355.4 115.4,355.5 115.6,355.5 115.8,355.5 116,355.5 116.2,355.6 116.4,355.6 116.6,355.6 116.8,355.6 117,355.7 117.3,355.7 117.5,355.7 117.7,355.7 117.9,355.8 118.1,355.8 118.3,355.8 118.5,355.9 118.7,355.9 118.9,355.9 119.1,355.9 119.3,356 119.5,356 119.7,356 120,356.1 120.2,356.1 120.4,356.1 120.6,356.2 120.8,356.2 121,356.2 121.2,356.3 121.4,356.3 121.6,356.3 121.8,356.4 122,356.4 122.2,356.4 122.4,356.5 122.7,356.5 122.9,356.5 123.1,356.6 123.3,356.6 123.5,356.6 123.7,356.7 123.9,356.7 124.1,356.7 124.3,356.8 124.5,356.8 124.7,356.8 124.9,356.9 125.1,356.9 125.4,356.9 125.6,357 125.8,357 126,357.1 126.2,357.1 126.4,357.1 126.6,357.2 126.8,357.2 127,357.2 127.2,357.3 127.4,357.3 127.6,357.4 127.8,357.4 128.1,357.4 128.3,357.5 128.5,357.5 128.7,357.6 128.9,357.6 129.1,357.6 129.3,357.7 129.5,357.7 129.7,357.8 129.9,357.8 130.1,357.8 130.3,357.9 130.5,357.9 130.8,358 131,358 131.2,358.1 131.4,358.1 131.6,358.2 131.8,358.2 132,358.2 132.2,358.3 132.4,358.3 132.6,358.4 132.8,358.4 133,358.5 133.2,358.5 133.5,358.6 133.7,358.6 133.9,358.7 134.1,358.7 134.3,358.8 134.5,358.8 134.7,358.9 134.9,358.9 135.1,359 135.3,359 135.5,359.1 135.7,359.1 135.9,359.2 136.2,359.2 136.4,359.3 136.6,359.4 136.8,359.4 137,359.5 137.2,359.5 137.4,359.6 137.6,359.6 137.8,359.7 138,359.8 138.2,359.8 138.4,359.9 138.6,360 138.9,360 139.1,360.1 139.3,360.2 139.5,360.2 139.7,360.3 139.9,360.4 140.1,360.4 140.3,360.5 140.5,360.6 140.7,360.7 140.9,360.7 141.1,360.8 141.3,360.9 141.6,361 141.8,361 142,361.1 142.2,361.2 142.4,361.3 142.6,361.3 142.8,361.4 143,361.5 143.2,361.6 143.4,361.7 143.6,361.8 143.8,361.8 144,361.9 144.3,362 144.5,362.1 144.7,362.2 144.9,362.3 145.1,362.4 145.3,362.5 145.5,362.5 145.7,362.6 145.9,362.7 146.1,362.8 146.3,362.9 146.5,363 146.7,363.1 147,363.2 147.2,363.2 147.4,363.3 147.6,363.4 147.8,363.5 148,363.6 148.2,363.7 148.4,363.8 148.6,363.9 148.8,363.9 149,364 149.2,364.1 149.4,364.2 149.7,364.3 149.9,364.3 150.1,364.4 150.3,364.5 150.5,364.6 150.7,364.7 150.9,364.7 151.1,364.8 151.3,364.9 151.5,365 151.7,365 151.9,365.1 152.1,365.2 152.4,365.2 152.6,365.3 152.8,365.4 153,365.4 153.2,365.5 153.4,365.6 153.6,365.6 153.8,365.7 154,365.7 154.2,365.8 154.4,365.8 154.6,365.9 154.8,366 155.1,366 155.3,366.1 155.5,366.1 155.7,366.2 155.9,366.2 156.1,366.2 156.3,366.3 156.5,366.3 156.7,366.4 156.9,366.4 157.1,366.5 157.3,366.5 157.5,366.5 157.8,366.6 158,366.6 158.2,366.7 158.4,366.7 158.6,366.7 158.8,366.8 159,366.8 159.2,366.8 159.4,366.8 159.6,366.9 159.8,366.9 160,366.9 160.2,367 160.5,367 160.7,367 160.9,367 161.1,367.1 161.3,367.1 161.5,367.1 161.7,367.1 161.9,367.2 162.1,367.2 162.3,367.2 162.5,367.2 162.7,367.2 162.9,367.3 163.1,367.3 163.4,367.3 163.6,367.3 163.8,367.3 164,367.3 164.2,367.4 164.4,367.4 164.6,367.4 164.8,367.4 165,367.4 165.2,367.4 165.4,367.5 165.6,367.5 165.8,367.5 166.1,367.5 166.3,367.5 166.5,367.5 166.7,367.5 166.9,367.5 167.1,367.6 167.3,367.6 167.5,367.6 167.7,367.6 167.9,367.6 168.1,367.6 168.3,367.6 168.5,367.6 168.8,367.6 169,367.6 169.2,367.7 169.4,367.7 169.6,367.7 169.8,367.7 170,367.7 170.2,367.7 170.4,367.7 170.6,367.7 170.8,367.7 171,367.7 171.2,367.7 171.5,367.7 171.7,367.7 171.9,367.7 172.1,367.8 172.3,367.8 172.5,367.8 172.7,367.8 172.9,367.8 173.1,367.8 173.3,367.8 173.5,367.8 173.7,367.8 173.9,367.8 174.2,367.8 174.4,367.8 174.6,367.8 174.8,367.8 175,367.8 175.2,367.8 175.4,367.8 175.6,367.8 175.8,367.8 176,367.8 176.2,367.8 176.4,367.9 176.6,367.9 176.9,367.9 177.1,367.9 177.3,367.9 177.5,367.9 177.7,367.9 177.9,367.9 178.1,367.9 178.3,367.9 178.5,367.9 178.7,367.9 178.9,367.9 179.1,367.9 179.3,367.9 179.6,367.9 179.8,367.9 180,367.9 180.2,367.9 180.4,367.9 180.6,367.9 180.8,367.9 181,367.9 181.2,367.9 181.4,367.9 181.6,367.9 181.8,367.9 182,367.9 182.3,367.9 182.5,367.9 182.7,367.9 182.9,367.9 183.1,367.9 183.3,367.9 183.5,367.9 183.7,367.9 183.9,367.9 184.1,367.9 184.3,367.9 184.5,367.9 184.7,367.9 185,367.9 185.2,367.9 185.4,368 185.6,368 185.8,368 186,368 186.2,368 186.4,368 186.6,368 186.8,368 187,368 187.2,368 187.4,368 187.7,368 187.9,368 188.1,368 188.3,368 188.5,368 188.7,368 188.9,368 189.1,368 189.3,368 189.5,368 189.7,368 189.9,368 190.1,368 190.4,368 190.6,368 190.8,368 191,368 191.2,368 191.4,368 191.6,368 191.8,368 192,368 192.2,368 192.4,368 192.6,368 192.8,368 193.1,368 193.3,368 193.5,368 193.7,368 193.9,368 194.1,368 194.3,368 194.5,368 194.7,368 194.9,368 195.1,368 195.3,368 195.5,368 195.8,368 196,368 196.2,368 196.4,368 196.6,368 196.8,368 197,368 197.2,368 197.4,368 197.6,368 197.8,368 198,368 198.2,368 198.5,368 198.7,368 198.9,368 199.1,368 199.3,368 199.5,368 199.7,368 199.9,368 200.1,368 200.3,368 200.5,368 200.7,368 200.9,368 201.2,368 201.4,368 201.6,368 201.8,368 202,368 202.2,368 202.4,368 202.6,368 202.8,368 203,368 203.2,368 203.4,368 203.6,368 203.9,368 204.1,368 204.3,368 204.5,368 204.7,368 204.9,368 205.1,368 205.3,368 205.5,368 205.7,368 205.9,368 206.1,368 206.3,368 206.6,368 206.8,368 207,368 207.2,368 207.4,368 207.6,368 207.8,368" fill="none" stroke="#a8a040" stroke-width="0.8" stroke-linejoin="round" /><polyline points="95,362.4 95.2,362.4 95.4,362.4 95.7,362.4 95.9,362.4 96.1,362.4 96.3,362.4 96.5,362.4 96.7,362.4 96.9,362.4 97.1,362.4 97.3,362.4 97.5,362.4 97.7,362.4 97.9,362.4 98.1,362.4 98.4,362.4 98.6,362.4 98.8,362.4 99,362.4 99.2,362.4 99.4,362.4 99.6,362.4 99.8,362.4 100,362.4 100.2,362.4 100.4,362.4 100.6,362.4 100.8,362.4 101.1,362.4 101.3,362.4 101.5,362.4 101.7,362.4 101.9,362.4 102.1,362.4 102.3,362.4 102.5,362.4 102.7,362.4 102.9,362.4 103.1,362.4 103.3,362.4 103.5,362.4 103.8,362.4 104,362.4 104.2,362.4 104.4,362.4 104.6,362.4 104.8,362.4 105,362.4 105.2,362.4 105.4,362.4 105.6,362.4 105.8,362.4 106,362.4 106.2,362.4 106.5,362.4 106.7,362.4 106.9,362.4 107.1,362.4 107.3,362.4 107.5,362.4 107.7,362.4 107.9,362.4 108.1,362.4 108.3,362.4 108.5,362.4 108.7,362.4 108.9,362.4 109.2,362.4 109.4,362.4 109.6,362.4 109.8,362.4 110,362.4 110.2,362.4 110.4,362.4 110.6,362.4 110.8,362.4 111,362.4 111.2,362.4 111.4,362.4 111.6,362.4 111.9,362.4 112.1,362.4 112.3,362.4 112.5,362.4 112.7,362.4 112.9,362.4 113.1,362.4 113.3,362.4 113.5,362.4 113.7,362.4 113.9,362.4 114.1,362.4 114.3,362.4 114.6,362.4 114.8,362.4 115,362.4 115.2,362.4 115.4,362.4 115.6,362.4 115.8,362.4 116,362.4 116.2,362.4 116.4,362.4 116.6,362.4 116.8,362.4 117,362.4 117.3,362.4 117.5,362.4 117.7,362.4 117.9,362.4 118.1,362.4 118.3,362.4 118.5,362.4 118.7,362.4 118.9,362.4 119.1,362.4 119.3,362.4 119.5,362.4 119.7,362.4 120,362.4 120.2,362.4 120.4,362.4 120.6,362.4 120.8,362.4 121,362.4 121.2,362.4 121.4,362.4 121.6,362.4 121.8,362.4 122,362.4 122.2,362.4 122.4,362.4 122.7,362.4 122.9,362.4 123.1,362.4 123.3,362.4 123.5,362.4 123.7,362.4 123.9,362.4 124.1,362.4 124.3,362.4 124.5,362.4 124.7,362.4 124.9,362.4 125.1,362.4 125.4,362.4 125.6,362.4 125.8,362.4 126,362.4 126.2,362.4 126.4,362.4 126.6,362.4 126.8,362.4 127,362.4 127.2,362.4 127.4,362.3 127.6,362.3 127.8,362.3 128.1,362.3 128.3,362.3 128.5,362.2 128.7,362.2 128.9,362.1 129.1,362.1 129.3,362.1 129.5,362 129.7,361.9 129.9,361.9 130.1,361.8 130.3,361.7 130.5,361.6 130.8,361.5 131,361.4 131.2,361.3 131.4,361.2 131.6,361 131.8,360.8 132,360.7 132.2,360.5 132.4,360.3 132.6,360 132.8,359.8 133,359.5 133.2,359.2 133.5,358.9 133.7,358.6 133.9,358.2 134.1,357.8 134.3,357.4 134.5,356.9 134.7,356.4 134.9,355.9 135.1,355.3 135.3,354.7 135.5,354.1 135.7,353.4 135.9,352.7 136.2,351.9 136.4,351.1 136.6,350.2 136.8,349.3 137,348.4 137.2,347.4 137.4,346.3 137.6,345.2 137.8,344.1 138,342.8 138.2,341.6 138.4,340.3 138.6,338.9 138.9,337.5 139.1,336 139.3,334.4 139.5,332.9 139.7,331.2 139.9,329.5 140.1,327.8 140.3,326 140.5,324.2 140.7,322.3 140.9,320.4 141.1,318.5 141.3,316.5 141.6,314.5 141.8,312.4 142,310.4 142.2,308.3 142.4,306.2 142.6,304.1 142.8,302 143,299.9 143.2,297.8 143.4,295.8 143.6,293.7 143.8,291.6 144,289.6 144.3,287.7 144.5,285.7 144.7,283.8 144.9,282 145.1,280.2 145.3,278.5 145.5,276.8 145.7,275.2 145.9,273.7 146.1,272.3 146.3,271 146.5,269.8 146.7,268.6 147,267.6 147.2,266.7 147.4,265.9 147.6,265.2 147.8,264.6 148,264.1 148.2,263.7 148.4,263.5 148.6,263.4 148.8,263.4 149,263.6 149.2,263.8 149.4,264.2 149.7,264.7 149.9,265.3 150.1,266 150.3,266.8 150.5,267.7 150.7,268.8 150.9,269.9 151.1,271.1 151.3,272.5 151.5,273.9 151.7,275.4 151.9,277 152.1,278.7 152.4,280.4 152.6,282.2 152.8,284.1 153,286 153.2,287.9 153.4,289.9 153.6,292 153.8,294.1 154,296.2 154.2,298.3 154.4,300.4 154.6,302.6 154.8,304.7 155.1,306.9 155.3,309 155.5,311.2 155.7,313.3 155.9,315.4 156.1,317.5 156.3,319.6 156.5,321.6 156.7,323.6 156.9,325.6 157.1,327.5 157.3,329.4 157.5,331.2 157.8,333 158,334.8 158.2,336.5 158.4,338.1 158.6,339.7 158.8,341.3 159,342.8 159.2,344.2 159.4,345.6 159.6,346.9 159.8,348.2 160,349.4 160.2,350.6 160.5,351.7 160.7,352.8 160.9,353.8 161.1,354.8 161.3,355.7 161.5,356.6 161.7,357.4 161.9,358.2 162.1,358.9 162.3,359.6 162.5,360.3 162.7,360.9 162.9,361.5 163.1,362 163.4,362.5 163.6,363 163.8,363.4 164,363.9 164.2,364.2 164.4,364.6 164.6,364.9 164.8,365.2 165,365.5 165.2,365.8 165.4,366.1 165.6,366.3 165.8,366.5 166.1,366.7 166.3,366.9 166.5,367 166.7,367.2 166.9,367.3 167.1,367.4 167.3,367.6 167.5,367.7 167.7,367.8 167.9,367.9 168.1,367.9 168.3,368 168.5,368.1 168.8,368.1 169,368.2 169.2,368.2 169.4,368.3 169.6,368.3 169.8,368.4 170,368.4 170.2,368.4 170.4,368.4 170.6,368.5 170.8,368.5 171,368.5 171.2,368.5 171.5,368.5 171.7,368.6 171.9,368.6 172.1,368.6 172.3,368.6 172.5,368.6 172.7,368.6 172.9,368.6 173.1,368.6 173.3,368.6 173.5,368.6 173.7,368.6 173.9,368.7 174.2,368.7 174.4,368.7 174.6,368.7 174.8,368.7 175,368.7 175.2,368.7 175.4,368.7 175.6,368.7 175.8,368.7 176,368.7 176.2,368.7 176.4,368.7 176.6,368.7 176.9,368.7 177.1,368.7 177.3,368.7 177.5,368.7 177.7,368.7 177.9,368.7 178.1,368.7 178.3,368.7 178.5,368.7 178.7,368.7 178.9,368.7 179.1,368.7 179.3,368.7 179.6,368.7 179.8,368.7 180,368.7 180.2,368.7 180.4,368.7 180.6,368.7 180.8,368.7 181,368.7 181.2,368.7 181.4,368.7 181.6,368.7 181.8,368.7 182,368.7 182.3,368.7 182.5,368.7 182.7,368.7 182.9,368.7 183.1,368.7 183.3,368.7 183.5,368.7 183.7,368.7 183.9,368.7 184.1,368.7 184.3,368.7 184.5,368.7 184.7,368.7 185,368.7 185.2,368.7 185.4,368.7 185.6,368.7 185.8,368.7 186,368.7 186.2,368.7 186.4,368.7 186.6,368.7 186.8,368.7 187,368.7 187.2,368.7 187.4,368.7 187.7,368.7 187.9,368.7 188.1,368.7 188.3,368.7 188.5,368.7 188.7,368.7 188.9,368.7 189.1,368.7 189.3,368.7 189.5,368.7 189.7,368.7 189.9,368.7 190.1,368.7 190.4,368.7 190.6,368.7 190.8,368.7 191,368.7 191.2,368.7 191.4,368.7 191.6,368.7 191.8,368.7 192,368.7 192.2,368.7 192.4,368.7 192.6,368.7 192.8,368.7 193.1,368.7 193.3,368.7 193.5,368.7 193.7,368.7 193.9,368.7 194.1,368.7 194.3,368.7 194.5,368.7 194.7,368.7 194.9,368.7 195.1,368.7 195.3,368.7 195.5,368.7 195.8,368.7 196,368.7 196.2,368.7 196.4,368.7 196.6,368.7 196.8,368.7 197,368.7 197.2,368.7 197.4,368.7 197.6,368.7 197.8,368.7 198,368.7 198.2,368.7 198.5,368.7 198.7,368.7 198.9,368.7 199.1,368.7 199.3,368.7 199.5,368.7 199.7,368.7 199.9,368.7 200.1,368.7 200.3,368.7 200.5,368.7 200.7,368.7 200.9,368.7 201.2,368.7 201.4,368.7 201.6,368.7 201.8,368.7 202,368.7 202.2,368.7 202.4,368.7 202.6,368.7 202.8,368.7 203,368.7 203.2,368.7 203.4,368.7 203.6,368.7 203.9,368.7 204.1,368.7 204.3,368.7 204.5,368.7 204.7,368.7 204.9,368.7 205.1,368.7 205.3,368.7 205.5,368.7 205.7,368.7 205.9,368.7 206.1,368.7 206.3,368.7 206.6,368.7 206.8,368.7 207,368.7 207.2,368.7 207.4,368.7 207.6,368.7 207.8,368.7" fill="none" stroke="#f5c04a" stroke-width="0.8" stroke-linejoin="round" /><polyline points="51,361.7 51.2,361.7 51.4,361.7 51.6,361.7 51.8,361.7 52,361.7 52.3,361.7 52.5,361.7 52.7,361.7 52.9,361.7 53.1,361.7 53.3,361.7 53.5,361.7 53.7,361.7 53.9,361.7 54.1,361.7 54.3,361.7 54.5,361.7 54.7,361.7 55,361.7 55.2,361.7 55.4,361.7 55.6,361.7 55.8,361.7 56,361.7 56.2,361.7 56.4,361.7 56.6,361.7 56.8,361.7 57,361.7 57.2,361.7 57.4,361.7 57.7,361.7 57.9,361.7 58.1,361.7 58.3,361.7 58.5,361.7 58.7,361.7 58.9,361.7 59.1,361.7 59.3,361.7 59.5,361.7 59.7,361.7 59.9,361.7 60.1,361.7 60.4,361.7 60.6,361.7 60.8,361.7 61,361.7 61.2,361.7 61.4,361.7 61.6,361.7 61.8,361.7 62,361.7 62.2,361.7 62.4,361.7 62.6,361.7 62.8,361.7 63.1,361.7 63.3,361.7 63.5,361.7 63.7,361.7 63.9,361.7 64.1,361.7 64.3,361.7 64.5,361.7 64.7,361.7 64.9,361.7 65.1,361.7 65.3,361.7 65.5,361.7 65.8,361.7 66,361.7 66.2,361.7 66.4,361.7 66.6,361.7 66.8,361.7 67,361.7 67.2,361.7 67.4,361.7 67.6,361.7 67.8,361.7 68,361.7 68.2,361.7 68.4,361.7 68.7,361.7 68.9,361.7 69.1,361.7 69.3,361.7 69.5,361.7 69.7,361.7 69.9,361.7 70.1,361.7 70.3,361.7 70.5,361.7 70.7,361.7 70.9,361.7 71.1,361.7 71.4,361.7 71.6,361.7 71.8,361.7 72,361.7 72.2,361.7 72.4,361.7 72.6,361.7 72.8,361.7 73,361.7 73.2,361.7 73.4,361.7 73.6,361.7 73.8,361.7 74.1,361.7 74.3,361.7 74.5,361.7 74.7,361.7 74.9,361.7 75.1,361.7 75.3,361.7 75.5,361.7 75.7,361.7 75.9,361.7 76.1,361.7 76.3,361.7 76.5,361.7 76.8,361.7 77,361.7 77.2,361.7 77.4,361.7 77.6,361.7 77.8,361.7 78,361.7 78.2,361.7 78.4,361.7 78.6,361.7 78.8,361.7 79,361.7 79.2,361.7 79.5,361.7 79.7,361.7 79.9,361.7 80.1,361.7 80.3,361.7 80.5,361.7 80.7,361.7 80.9,361.7 81.1,361.7 81.3,361.7 81.5,361.7 81.7,361.7 81.9,361.7 82.2,361.7 82.4,361.7 82.6,361.7 82.8,361.7 83,361.7 83.2,361.7 83.4,361.7 83.6,361.7 83.8,361.7 84,361.7 84.2,361.7 84.4,361.7 84.6,361.7 84.9,361.7 85.1,361.7 85.3,361.7 85.5,361.7 85.7,361.7 85.9,361.7 86.1,361.7 86.3,361.7 86.5,361.7 86.7,361.7 86.9,361.7 87.1,361.7 87.3,361.7 87.6,361.7 87.8,361.7 88,361.7 88.2,361.7 88.4,361.7 88.6,361.7 88.8,361.7 89,361.7 89.2,361.7 89.4,361.7 89.6,361.7 89.8,361.7 90,361.7 90.3,361.7 90.5,361.7 90.7,361.7 90.9,361.7 91.1,361.7 91.3,361.7 91.5,361.7 91.7,361.7 91.9,361.7 92.1,361.7 92.3,361.7 92.5,361.7 92.7,361.7 93,361.7 93.2,361.7 93.4,361.7 93.6,361.7 93.8,361.7 94,361.7 94.2,361.7 94.4,361.7 94.6,361.7 94.8,361.7 95,361.7 95.2,361.7 95.4,361.7 95.7,361.7 95.9,361.6 96.1,361.6 96.3,361.6 96.5,361.6 96.7,361.6 96.9,361.6 97.1,361.6 97.3,361.6 97.5,361.6 97.7,361.6 97.9,361.6 98.1,361.6 98.4,361.6 98.6,361.6 98.8,361.6 99,361.6 99.2,361.6 99.4,361.6 99.6,361.6 99.8,361.6 100,361.5 100.2,361.5 100.4,361.5 100.6,361.5 100.8,361.5 101.1,361.5 101.3,361.5 101.5,361.5 101.7,361.5 101.9,361.4 102.1,361.4 102.3,361.4 102.5,361.4 102.7,361.4 102.9,361.4 103.1,361.4 103.3,361.3 103.5,361.3 103.8,361.3 104,361.3 104.2,361.3 104.4,361.2 104.6,361.2 104.8,361.2 105,361.2 105.2,361.2 105.4,361.1 105.6,361.1 105.8,361.1 106,361 106.2,361 106.5,361 106.7,360.9 106.9,360.9 107.1,360.9 107.3,360.8 107.5,360.8 107.7,360.8 107.9,360.7 108.1,360.7 108.3,360.6 108.5,360.6 108.7,360.5 108.9,360.5 109.2,360.4 109.4,360.4 109.6,360.3 109.8,360.3 110,360.2 110.2,360.2 110.4,360.1 110.6,360 110.8,360 111,359.9 111.2,359.8 111.4,359.8 111.6,359.7 111.9,359.6 112.1,359.5 112.3,359.5 112.5,359.4 112.7,359.3 112.9,359.2 113.1,359.1 113.3,359 113.5,358.9 113.7,358.8 113.9,358.7 114.1,358.6 114.3,358.5 114.6,358.4 114.8,358.3 115,358.2 115.2,358.1 115.4,357.9 115.6,357.8 115.8,357.7 116,357.6 116.2,357.4 116.4,357.3 116.6,357.2 116.8,357 117,356.9 117.3,356.7 117.5,356.6 117.7,356.4 117.9,356.3 118.1,356.1 118.3,355.9 118.5,355.8 118.7,355.6 118.9,355.4 119.1,355.3 119.3,355.1 119.5,354.9 119.7,354.7 120,354.5 120.2,354.3 120.4,354.2 120.6,354 120.8,353.8 121,353.6 121.2,353.4 121.4,353.2 121.6,352.9 121.8,352.7 122,352.5 122.2,352.3 122.4,352.1 122.7,351.9 122.9,351.6 123.1,351.4 123.3,351.2 123.5,351 123.7,350.7 123.9,350.5 124.1,350.3 124.3,350 124.5,349.8 124.7,349.6 124.9,349.3 125.1,349.1 125.4,348.8 125.6,348.6 125.8,348.3 126,348.1 126.2,347.9 126.4,347.6 126.6,347.4 126.8,347.1 127,346.9 127.2,346.6 127.4,346.4 127.6,346.1 127.8,345.9 128.1,345.7 128.3,345.4 128.5,345.2 128.7,344.9 128.9,344.7 129.1,344.5 129.3,344.2 129.5,344 129.7,343.8 129.9,343.5 130.1,343.3 130.3,343.1 130.5,342.9 130.8,342.6 131,342.4 131.2,342.2 131.4,342 131.6,341.8 131.8,341.6 132,341.4 132.2,341.2 132.4,341 132.6,340.9 132.8,340.7 133,340.5 133.2,340.3 133.5,340.2 133.7,340 133.9,339.9 134.1,339.7 134.3,339.6 134.5,339.4 134.7,339.3 134.9,339.2 135.1,339.1 135.3,339 135.5,338.8 135.7,338.7 135.9,338.7 136.2,338.6 136.4,338.5 136.6,338.4 136.8,338.4 137,338.3 137.2,338.3 137.4,338.2 137.6,338.2 137.8,338.2 138,338.1 138.2,338.1 138.4,338.1 138.6,338.1 138.9,338.2 139.1,338.2 139.3,338.2 139.5,338.2 139.7,338.3 139.9,338.3 140.1,338.4 140.3,338.5 140.5,338.6 140.7,338.6 140.9,338.7 141.1,338.8 141.3,338.9 141.6,339.1 141.8,339.2 142,339.3 142.2,339.4 142.4,339.6 142.6,339.7 142.8,339.9 143,340.1 143.2,340.2 143.4,340.4 143.6,340.6 143.8,340.8 144,341 144.3,341.2 144.5,341.4 144.7,341.6 144.9,341.9 145.1,342.1 145.3,342.3 145.5,342.6 145.7,342.8 145.9,343.1 146.1,343.3 146.3,343.6 146.5,343.9 146.7,344.1 147,344.4 147.2,344.7 147.4,345 147.6,345.2 147.8,345.5 148,345.8 148.2,346.1 148.4,346.4 148.6,346.7 148.8,347 149,347.3 149.2,347.6 149.4,347.9 149.7,348.2 149.9,348.5 150.1,348.8 150.3,349.1 150.5,349.4 150.7,349.7 150.9,350 151.1,350.3 151.3,350.6 151.5,350.9 151.7,351.2 151.9,351.5 152.1,351.8 152.4,352.1 152.6,352.4 152.8,352.7 153,353 153.2,353.3 153.4,353.6 153.6,353.9 153.8,354.2 154,354.5 154.2,354.8 154.4,355 154.6,355.3 154.8,355.6 155.1,355.9 155.3,356.1 155.5,356.4 155.7,356.7 155.9,356.9 156.1,357.2 156.3,357.4 156.5,357.7 156.7,357.9 156.9,358.2 157.1,358.4 157.3,358.6 157.5,358.9 157.8,359.1 158,359.3 158.2,359.6 158.4,359.8 158.6,360 158.8,360.2 159,360.4 159.2,360.6 159.4,360.8 159.6,361 159.8,361.2 160,361.4 160.2,361.6 160.5,361.8 160.7,362 160.9,362.1 161.1,362.3 161.3,362.5 161.5,362.6 161.7,362.8 161.9,363 162.1,363.1 162.3,363.3 162.5,363.4 162.7,363.6 162.9,363.7 163.1,363.8 163.4,364 163.6,364.1 163.8,364.2 164,364.3 164.2,364.5 164.4,364.6 164.6,364.7 164.8,364.8 165,364.9 165.2,365 165.4,365.1 165.6,365.2 165.8,365.3 166.1,365.4 166.3,365.5 166.5,365.6 166.7,365.7 166.9,365.8 167.1,365.9 167.3,365.9 167.5,366 167.7,366.1 167.9,366.2 168.1,366.2 168.3,366.3 168.5,366.4 168.8,366.4 169,366.5 169.2,366.5 169.4,366.6 169.6,366.7 169.8,366.7 170,366.8 170.2,366.8 170.4,366.9 170.6,366.9 170.8,367 171,367 171.2,367 171.5,367.1 171.7,367.1 171.9,367.2 172.1,367.2 172.3,367.2 172.5,367.3 172.7,367.3 172.9,367.3 173.1,367.4 173.3,367.4 173.5,367.4 173.7,367.4 173.9,367.5 174.2,367.5 174.4,367.5 174.6,367.5 174.8,367.6 175,367.6 175.2,367.6 175.4,367.6 175.6,367.6 175.8,367.7 176,367.7 176.2,367.7 176.4,367.7 176.6,367.7 176.9,367.7 177.1,367.7 177.3,367.8 177.5,367.8 177.7,367.8 177.9,367.8 178.1,367.8 178.3,367.8 178.5,367.8 178.7,367.8 178.9,367.8 179.1,367.8 179.3,367.9 179.6,367.9 179.8,367.9 180,367.9 180.2,367.9 180.4,367.9 180.6,367.9 180.8,367.9 181,367.9 181.2,367.9 181.4,367.9 181.6,367.9 181.8,367.9 182,367.9 182.3,367.9 182.5,367.9 182.7,367.9 182.9,367.9 183.1,367.9 183.3,367.9 183.5,368 183.7,368 183.9,368 184.1,368 184.3,368 184.5,368 184.7,368 185,368 185.2,368 185.4,368 185.6,368 185.8,368 186,368 186.2,368 186.4,368 186.6,368 186.8,368 187,368 187.2,368 187.4,368 187.7,368 187.9,368 188.1,368 188.3,368 188.5,368 188.7,368 188.9,368 189.1,368 189.3,368 189.5,368 189.7,368 189.9,368 190.1,368 190.4,368 190.6,368 190.8,368 191,368 191.2,368 191.4,368 191.6,368 191.8,368 192,368 192.2,368 192.4,368 192.6,368 192.8,368 193.1,368 193.3,368 193.5,368 193.7,368 193.9,368 194.1,368 194.3,368 194.5,368 194.7,368 194.9,368 195.1,368 195.3,368 195.5,368 195.8,368 196,368 196.2,368 196.4,368 196.6,368 196.8,368 197,368 197.2,368 197.4,368 197.6,368 197.8,368 198,368 198.2,368 198.5,368 198.7,368 198.9,368 199.1,368 199.3,368 199.5,368 199.7,368 199.9,368 200.1,368 200.3,368 200.5,368 200.7,368 200.9,368 201.2,368 201.4,368 201.6,368 201.8,368 202,368 202.2,368 202.4,368 202.6,368 202.8,368 203,368 203.2,368 203.4,368 203.6,368 203.9,368 204.1,368 204.3,368 204.5,368 204.7,368 204.9,368 205.1,368 205.3,368 205.5,368 205.7,368 205.9,368 206.1,368 206.3,368 206.6,368 206.8,368 207,368 207.2,368 207.4,368 207.6,368 207.8,368" fill="none" stroke="#6acc6a" stroke-width="0.8" stroke-linejoin="round" /><polyline points="21.1,361.1 21.3,361.1 21.5,361.1 21.7,361.1 21.9,361.1 22.1,361.1 22.3,361.1 22.6,361.1 22.8,361.1 23,361.1 23.2,361.1 23.4,361 23.6,361 23.8,361 24,361 24.2,361 24.4,361 24.6,361 24.8,361 25,361 25.3,361 25.5,361 25.7,361 25.9,361 26.1,361 26.3,361 26.5,361 26.7,361 26.9,361 27.1,361 27.3,361 27.5,360.9 27.7,360.9 28,360.9 28.2,360.9 28.4,360.9 28.6,360.9 28.8,360.9 29,360.9 29.2,360.9 29.4,360.9 29.6,360.9 29.8,360.9 30,360.9 30.2,360.9 30.4,360.9 30.7,360.9 30.9,360.8 31.1,360.8 31.3,360.8 31.5,360.8 31.7,360.8 31.9,360.8 32.1,360.8 32.3,360.8 32.5,360.8 32.7,360.8 32.9,360.8 33.1,360.8 33.4,360.8 33.6,360.8 33.8,360.7 34,360.7 34.2,360.7 34.4,360.7 34.6,360.7 34.8,360.7 35,360.7 35.2,360.7 35.4,360.7 35.6,360.7 35.8,360.7 36.1,360.7 36.3,360.7 36.5,360.6 36.7,360.6 36.9,360.6 37.1,360.6 37.3,360.6 37.5,360.6 37.7,360.6 37.9,360.6 38.1,360.6 38.3,360.6 38.5,360.6 38.8,360.5 39,360.5 39.2,360.5 39.4,360.5 39.6,360.5 39.8,360.5 40,360.5 40.2,360.5 40.4,360.5 40.6,360.5 40.8,360.4 41,360.4 41.2,360.4 41.5,360.4 41.7,360.4 41.9,360.4 42.1,360.4 42.3,360.4 42.5,360.4 42.7,360.3 42.9,360.3 43.1,360.3 43.3,360.3 43.5,360.3 43.7,360.3 43.9,360.3 44.2,360.3 44.4,360.3 44.6,360.2 44.8,360.2 45,360.2 45.2,360.2 45.4,360.2 45.6,360.2 45.8,360.2 46,360.2 46.2,360.1 46.4,360.1 46.6,360.1 46.9,360.1 47.1,360.1 47.3,360.1 47.5,360.1 47.7,360.1 47.9,360 48.1,360 48.3,360 48.5,360 48.7,360 48.9,360 49.1,360 49.3,359.9 49.6,359.9 49.8,359.9 50,359.9 50.2,359.9 50.4,359.9 50.6,359.9 50.8,359.8 51,359.8 51.2,359.8 51.4,359.8 51.6,359.8 51.8,359.8 52,359.8 52.3,359.7 52.5,359.7 52.7,359.7 52.9,359.7 53.1,359.7 53.3,359.7 53.5,359.7 53.7,359.6 53.9,359.6 54.1,359.6 54.3,359.6 54.5,359.6 54.7,359.5 55,359.5 55.2,359.5 55.4,359.5 55.6,359.5 55.8,359.5 56,359.4 56.2,359.4 56.4,359.4 56.6,359.4 56.8,359.4 57,359.3 57.2,359.3 57.4,359.3 57.7,359.3 57.9,359.3 58.1,359.2 58.3,359.2 58.5,359.2 58.7,359.2 58.9,359.2 59.1,359.1 59.3,359.1 59.5,359.1 59.7,359.1 59.9,359.1 60.1,359 60.4,359 60.6,359 60.8,359 61,359 61.2,358.9 61.4,358.9 61.6,358.9 61.8,358.9 62,358.9 62.2,358.8 62.4,358.8 62.6,358.8 62.8,358.8 63.1,358.8 63.3,358.8 63.5,358.7 63.7,358.7 63.9,358.7 64.1,358.7 64.3,358.7 64.5,358.6 64.7,358.6 64.9,358.6 65.1,358.6 65.3,358.6 65.5,358.6 65.8,358.5 66,358.5 66.2,358.5 66.4,358.5 66.6,358.5 66.8,358.5 67,358.4 67.2,358.4 67.4,358.4 67.6,358.4 67.8,358.4 68,358.4 68.2,358.3 68.4,358.3 68.7,358.3 68.9,358.3 69.1,358.3 69.3,358.3 69.5,358.3 69.7,358.2 69.9,358.2 70.1,358.2 70.3,358.2 70.5,358.2 70.7,358.2 70.9,358.1 71.1,358.1 71.4,358.1 71.6,358.1 71.8,358.1 72,358.1 72.2,358.1 72.4,358 72.6,358 72.8,358 73,358 73.2,358 73.4,358 73.6,357.9 73.8,357.9 74.1,357.9 74.3,357.9 74.5,357.9 74.7,357.9 74.9,357.9 75.1,357.8 75.3,357.8 75.5,357.8 75.7,357.8 75.9,357.8 76.1,357.8 76.3,357.7 76.5,357.7 76.8,357.7 77,357.7 77.2,357.7 77.4,357.6 77.6,357.6 77.8,357.6 78,357.6 78.2,357.6 78.4,357.6 78.6,357.5 78.8,357.5 79,357.5 79.2,357.5 79.5,357.5 79.7,357.4 79.9,357.4 80.1,357.4 80.3,357.4 80.5,357.4 80.7,357.3 80.9,357.3 81.1,357.3 81.3,357.3 81.5,357.2 81.7,357.2 81.9,357.2 82.2,357.2 82.4,357.2 82.6,357.1 82.8,357.1 83,357.1 83.2,357.1 83.4,357 83.6,357 83.8,357 84,357 84.2,356.9 84.4,356.9 84.6,356.9 84.9,356.9 85.1,356.9 85.3,356.8 85.5,356.8 85.7,356.8 85.9,356.8 86.1,356.7 86.3,356.7 86.5,356.7 86.7,356.6 86.9,356.6 87.1,356.6 87.3,356.6 87.6,356.5 87.8,356.5 88,356.5 88.2,356.5 88.4,356.4 88.6,356.4 88.8,356.4 89,356.4 89.2,356.3 89.4,356.3 89.6,356.3 89.8,356.2 90,356.2 90.3,356.2 90.5,356.2 90.7,356.1 90.9,356.1 91.1,356.1 91.3,356 91.5,356 91.7,356 91.9,356 92.1,355.9 92.3,355.9 92.5,355.9 92.7,355.8 93,355.8 93.2,355.8 93.4,355.7 93.6,355.7 93.8,355.7 94,355.6 94.2,355.6 94.4,355.6 94.6,355.5 94.8,355.5 95,355.5 95.2,355.4 95.4,355.4 95.7,355.3 95.9,355.3 96.1,355.3 96.3,355.2 96.5,355.2 96.7,355.1 96.9,355.1 97.1,355.1 97.3,355 97.5,355 97.7,355 97.9,354.9 98.1,354.9 98.4,354.8 98.6,354.8 98.8,354.8 99,354.7 99.2,354.7 99.4,354.7 99.6,354.6 99.8,354.6 100,354.5 100.2,354.5 100.4,354.5 100.6,354.4 100.8,354.4 101.1,354.4 101.3,354.3 101.5,354.3 101.7,354.3 101.9,354.2 102.1,354.2 102.3,354.2 102.5,354.2 102.7,354.1 102.9,354.1 103.1,354.1 103.3,354.1 103.5,354 103.8,354 104,354 104.2,354 104.4,353.9 104.6,353.9 104.8,353.9 105,353.9 105.2,353.8 105.4,353.8 105.6,353.8 105.8,353.8 106,353.7 106.2,353.7 106.5,353.7 106.7,353.6 106.9,353.6 107.1,353.6 107.3,353.5 107.5,353.5 107.7,353.5 107.9,353.4 108.1,353.4 108.3,353.3 108.5,353.3 108.7,353.2 108.9,353.2 109.2,353.1 109.4,353 109.6,353 109.8,352.9 110,352.8 110.2,352.8 110.4,352.7 110.6,352.6 110.8,352.5 111,352.4 111.2,352.3 111.4,352.3 111.6,352.2 111.9,352.1 112.1,352 112.3,351.9 112.5,351.8 112.7,351.7 112.9,351.6 113.1,351.5 113.3,351.4 113.5,351.3 113.7,351.2 113.9,351.1 114.1,351 114.3,350.9 114.6,350.8 114.8,350.7 115,350.6 115.2,350.5 115.4,350.3 115.6,350.2 115.8,350.1 116,350 116.2,349.8 116.4,349.7 116.6,349.6 116.8,349.4 117,349.3 117.3,349.2 117.5,349 117.7,348.9 117.9,348.7 118.1,348.6 118.3,348.4 118.5,348.3 118.7,348.1 118.9,348 119.1,347.8 119.3,347.6 119.5,347.5 119.7,347.3 120,347.1 120.2,346.9 120.4,346.8 120.6,346.6 120.8,346.4 121,346.2 121.2,346 121.4,345.8 121.6,345.6 121.8,345.5 122,345.3 122.2,345 122.4,344.8 122.7,344.6 122.9,344.4 123.1,344.2 123.3,344 123.5,343.8 123.7,343.5 123.9,343.3 124.1,343.1 124.3,342.9 124.5,342.6 124.7,342.4 124.9,342.2 125.1,342 125.4,341.7 125.6,341.5 125.8,341.3 126,341 126.2,340.8 126.4,340.5 126.6,340.3 126.8,340.1 127,339.8 127.2,339.6 127.4,339.3 127.6,339.1 127.8,338.8 128.1,338.6 128.3,338.3 128.5,338 128.7,337.8 128.9,337.5 129.1,337.3 129.3,337 129.5,336.7 129.7,336.5 129.9,336.2 130.1,335.9 130.3,335.7 130.5,335.4 130.8,335.1 131,334.8 131.2,334.5 131.4,334.2 131.6,333.9 131.8,333.6 132,333.3 132.2,332.9 132.4,332.6 132.6,332.3 132.8,332 133,331.6 133.2,331.3 133.5,331 133.7,330.7 133.9,330.3 134.1,330 134.3,329.6 134.5,329.3 134.7,328.9 134.9,328.5 135.1,328.1 135.3,327.6 135.5,327.1 135.7,326.7 135.9,326.1 136.2,325.6 136.4,325 136.6,324.4 136.8,323.8 137,323.1 137.2,322.4 137.4,321.6 137.6,320.8 137.8,319.9 138,319 138.2,318.1 138.4,317.1 138.6,316 138.9,314.9 139.1,313.7 139.3,312.4 139.5,311 139.7,309.4 139.9,307.7 140.1,306 140.3,304.2 140.5,302.3 140.7,300.3 140.9,298.3 141.1,296.3 141.3,294.3 141.6,292.3 141.8,290.4 142,288.4 142.2,286.4 142.4,284.4 142.6,282.4 142.8,280.3 143,278.2 143.2,276.1 143.4,273.9 143.6,271.7 143.8,269.4 144,267 144.3,264.7 144.5,262.4 144.7,260 144.9,257.7 145.1,255.4 145.3,253.3 145.5,251.4 145.7,249.5 145.9,247.7 146.1,246.1 146.3,244.6 146.5,243.4 146.7,242.3 147,241.2 147.2,240.3 147.4,239.6 147.6,239 147.8,238.5 148,238.1 148.2,237.7 148.4,237.5 148.6,237.5 148.8,237.7 149,238.1 149.2,238.5 149.4,239.1 149.7,239.7 149.9,240.6 150.1,241.7 150.3,243.1 150.5,244.6 150.7,246.5 150.9,249 151.1,251.9 151.3,254.6 151.5,257.1 151.7,259.4 151.9,261.7 152.1,263.9 152.4,266.2 152.6,268.4 152.8,270.6 153,272.9 153.2,275.2 153.4,277.6 153.6,280.2 153.8,282.9 154,285.8 154.2,288.6 154.4,291.4 154.6,294.1 154.8,296.8 155.1,299.6 155.3,302.3 155.5,305 155.7,307.8 155.9,310.4 156.1,313.1 156.3,315.6 156.5,318.1 156.7,320.5 156.9,322.8 157.1,325 157.3,327.1 157.5,329.1 157.8,330.9 158,332.6 158.2,334.2 158.4,335.8 158.6,337.3 158.8,338.7 159,340.1 159.2,341.5 159.4,342.7 159.6,343.8 159.8,344.9 160,345.9 160.2,346.9 160.5,347.8 160.7,348.7 160.9,349.6 161.1,350.4 161.3,351.2 161.5,352 161.7,352.7 161.9,353.4 162.1,354 162.3,354.6 162.5,355.1 162.7,355.6 162.9,356 163.1,356.4 163.4,356.9 163.6,357.3 163.8,357.6 164,358 164.2,358.4 164.4,358.8 164.6,359.2 164.8,359.5 165,359.8 165.2,360.2 165.4,360.5 165.6,360.7 165.8,361 166.1,361.2 166.3,361.5 166.5,361.7 166.7,361.9 166.9,362.1 167.1,362.3 167.3,362.5 167.5,362.7 167.7,362.9 167.9,363.1 168.1,363.3 168.3,363.4 168.5,363.6 168.8,363.7 169,363.9 169.2,364 169.4,364.1 169.6,364.3 169.8,364.4 170,364.6 170.2,364.7 170.4,364.8 170.6,364.9 170.8,365 171,365.1 171.2,365.2 171.5,365.3 171.7,365.4 171.9,365.5 172.1,365.6 172.3,365.6 172.5,365.7 172.7,365.7 172.9,365.8 173.1,365.8 173.3,365.9 173.5,365.9 173.7,366 173.9,366 174.2,366.1 174.4,366.1 174.6,366.1 174.8,366.2 175,366.2 175.2,366.3 175.4,366.3 175.6,366.3 175.8,366.3 176,366.4 176.2,366.4 176.4,366.4 176.6,366.5 176.9,366.5 177.1,366.5 177.3,366.5 177.5,366.6 177.7,366.6 177.9,366.6 178.1,366.6 178.3,366.7 178.5,366.7 178.7,366.7 178.9,366.7 179.1,366.7 179.3,366.8 179.6,366.8 179.8,366.8 180,366.8 180.2,366.8 180.4,366.9 180.6,366.9 180.8,366.9 181,366.9 181.2,366.9 181.4,366.9 181.6,367 181.8,367 182,367 182.3,367 182.5,367 182.7,367 182.9,367 183.1,367 183.3,367 183.5,367 183.7,367 183.9,367 184.1,367 184.3,367 184.5,367 184.7,367 185,367 185.2,367 185.4,367 185.6,367 185.8,367 186,367 186.2,367 186.4,367 186.6,367 186.8,367 187,367 187.2,367 187.4,367 187.7,367 187.9,367 188.1,367 188.3,367 188.5,367 188.7,367 188.9,367 189.1,367 189.3,367 189.5,367 189.7,367.1 189.9,367.1 190.1,367.1 190.4,367.1 190.6,367.1 190.8,367.1 191,367.1 191.2,367.1 191.4,367.1 191.6,367.1 191.8,367.1 192,367.1 192.2,367.1 192.4,367.1 192.6,367.1 192.8,367.1 193.1,367.1 193.3,367.1 193.5,367.1 193.7,367.1 193.9,367.1 194.1,367.1 194.3,367.1 194.5,367.1 194.7,367.1 194.9,367.1 195.1,367.1 195.3,367.1 195.5,367.1 195.8,367.1 196,367.1 196.2,367.1 196.4,367.1 196.6,367.1 196.8,367.1 197,367.1 197.2,367.1 197.4,367.1 197.6,367.1 197.8,367.1 198,367.1 198.2,367.1 198.5,367.1 198.7,367.1 198.9,367.1 199.1,367.1 199.3,367.1 199.5,367.1 199.7,367.1 199.9,367.1 200.1,367.1 200.3,367.1 200.5,367.1 200.7,367.1 200.9,367.1 201.2,367.1 201.4,367.1 201.6,367.1 201.8,367.1 202,367.1 202.2,367.1 202.4,367.1 202.6,367.1 202.8,367.1 203,367.1 203.2,367.1 203.4,367.1 203.6,367.1 203.9,367.1 204.1,367.1 204.3,367.1 204.5,367.1 204.7,367.1 204.9,367.1 205.1,367.1 205.3,367.1 205.5,367.1 205.7,367.1 205.9,367.1 206.1,367.1 206.3,367.1 206.6,367.1 206.8,367.1 207,367.1 207.2,367.1 207.4,367.1 207.6,367.1 207.8,367.1" fill="none" stroke="#55c8e8" stroke-width="1.0" stroke-linejoin="round" /><line x1="107.5" y1="317.5" x2="107.5" y2="382" stroke="#f4a0a8" stroke-width="0.8" stroke-dasharray="2.5,2"/><line x1="139.4" y1="301" x2="139.4" y2="382" stroke="#f4a0a8" stroke-width="0.8" stroke-dasharray="2.5,2"/><line x1="132.8" y1="293.6" x2="139.4" y2="301" stroke="#f4a0a8" stroke-width="0.8" stroke-dasharray="2.5,2"/><line x1="148.8" y1="240" x2="148.8" y2="382" stroke="#f4a0a8" stroke-width="0.8" stroke-dasharray="2.5,2"/><g fill="#fff" stroke="#222" stroke-width="0.9"><circle cx="23.1" cy="361.5" r="1.2"/><circle cx="24.3" cy="361.1" r="1.2"/><circle cx="25.6" cy="361.4" r="1.2"/><circle cx="26.8" cy="362.2" r="1.2"/><circle cx="28.1" cy="360.9" r="1.2"/><circle cx="29.3" cy="361.1" r="1.2"/><circle cx="30.6" cy="360.7" r="1.2"/><circle cx="31.8" cy="361.3" r="1.2"/><circle cx="33.1" cy="360.4" r="1.2"/><circle cx="34.4" cy="361.2" r="1.2"/><circle cx="35.6" cy="361.4" r="1.2"/><circle cx="36.9" cy="360.5" r="1.2"/><circle cx="38.1" cy="360.4" r="1.2"/><circle cx="39.4" cy="360.1" r="1.2"/><circle cx="40.6" cy="360.8" r="1.2"/><circle cx="41.9" cy="360.1" r="1.2"/><circle cx="43.1" cy="360.3" r="1.2"/><circle cx="44.4" cy="360.3" r="1.2"/><circle cx="45.6" cy="360.1" r="1.2"/><circle cx="46.9" cy="360.8" r="1.2"/><circle cx="48.1" cy="361.1" r="1.2"/><circle cx="49.4" cy="359.2" r="1.2"/><circle cx="50.6" cy="359.7" r="1.2"/><circle cx="51.9" cy="360.2" r="1.2"/><circle cx="53.1" cy="359.5" r="1.2"/><circle cx="54.4" cy="359.6" r="1.2"/><circle cx="55.6" cy="359.9" r="1.2"/><circle cx="56.9" cy="360.3" r="1.2"/><circle cx="58.1" cy="360.1" r="1.2"/><circle cx="59.4" cy="359.3" r="1.2"/><circle cx="60.6" cy="359.4" r="1.2"/><circle cx="61.9" cy="359.0" r="1.2"/><circle cx="63.1" cy="359.0" r="1.2"/><circle cx="64.4" cy="358.4" r="1.2"/><circle cx="65.6" cy="358.0" r="1.2"/><circle cx="66.9" cy="358.6" r="1.2"/><circle cx="68.1" cy="359.1" r="1.2"/><circle cx="69.4" cy="358.9" r="1.2"/><circle cx="70.6" cy="357.5" r="1.2"/><circle cx="71.9" cy="358.3" r="1.2"/><circle cx="73.1" cy="358.0" r="1.2"/><circle cx="74.4" cy="358.3" r="1.2"/><circle cx="75.6" cy="357.5" r="1.2"/><circle cx="76.9" cy="358.4" r="1.2"/><circle cx="78.1" cy="357.8" r="1.2"/><circle cx="79.4" cy="358.0" r="1.2"/><circle cx="80.6" cy="358.1" r="1.2"/><circle cx="81.9" cy="356.5" r="1.2"/><circle cx="83.1" cy="357.3" r="1.2"/><circle cx="84.4" cy="358.0" r="1.2"/><circle cx="85.6" cy="357.1" r="1.2"/><circle cx="86.9" cy="357.4" r="1.2"/><circle cx="88.1" cy="357.0" r="1.2"/><circle cx="89.4" cy="356.4" r="1.2"/><circle cx="90.6" cy="356.6" r="1.2"/><circle cx="91.9" cy="356.8" r="1.2"/><circle cx="93.1" cy="356.7" r="1.2"/><circle cx="94.4" cy="356.6" r="1.2"/><circle cx="95.7" cy="355.1" r="1.2"/><circle cx="96.9" cy="355.8" r="1.2"/><circle cx="98.2" cy="354.5" r="1.2"/><circle cx="99.4" cy="354.9" r="1.2"/><circle cx="100.7" cy="354.6" r="1.2"/><circle cx="101.9" cy="354.9" r="1.2"/><circle cx="103.2" cy="354.5" r="1.2"/><circle cx="104.4" cy="354.9" r="1.2"/><circle cx="105.7" cy="353.8" r="1.2"/><circle cx="106.9" cy="354.3" r="1.2"/><circle cx="108.2" cy="353.9" r="1.2"/><circle cx="109.4" cy="353.3" r="1.2"/><circle cx="110.7" cy="352.3" r="1.2"/><circle cx="111.9" cy="352.6" r="1.2"/><circle cx="113.2" cy="352.0" r="1.2"/><circle cx="114.4" cy="351.6" r="1.2"/><circle cx="115.7" cy="350.5" r="1.2"/><circle cx="116.9" cy="349.6" r="1.2"/><circle cx="118.2" cy="349.0" r="1.2"/><circle cx="119.4" cy="348.1" r="1.2"/><circle cx="120.7" cy="347.1" r="1.2"/><circle cx="121.9" cy="346.6" r="1.2"/><circle cx="123.2" cy="344.1" r="1.2"/><circle cx="124.4" cy="344.1" r="1.2"/><circle cx="125.7" cy="340.2" r="1.2"/><circle cx="126.9" cy="340.7" r="1.2"/><circle cx="128.2" cy="338.3" r="1.2"/><circle cx="129.4" cy="338.1" r="1.2"/><circle cx="130.7" cy="335.0" r="1.2"/><circle cx="131.9" cy="334.2" r="1.2"/><circle cx="133.2" cy="331.2" r="1.2"/><circle cx="134.4" cy="329.1" r="1.2"/><circle cx="135.7" cy="327.4" r="1.2"/><circle cx="136.9" cy="323.9" r="1.2"/><circle cx="138.2" cy="318.3" r="1.2"/><circle cx="139.4" cy="312.4" r="1.2"/><circle cx="140.7" cy="300.8" r="1.2"/><circle cx="141.9" cy="289.5" r="1.2"/><circle cx="143.2" cy="276.3" r="1.2"/><circle cx="144.4" cy="262.6" r="1.2"/><circle cx="145.7" cy="249.9" r="1.2"/><circle cx="146.9" cy="241.2" r="1.2"/><circle cx="148.2" cy="238.2" r="1.2"/><circle cx="149.4" cy="238.6" r="1.2"/><circle cx="150.7" cy="246.9" r="1.2"/><circle cx="151.9" cy="261.9" r="1.2"/><circle cx="153.2" cy="275.3" r="1.2"/><circle cx="154.4" cy="292.0" r="1.2"/><circle cx="155.7" cy="308.3" r="1.2"/><circle cx="156.9" cy="323.2" r="1.2"/><circle cx="158.2" cy="335.1" r="1.2"/><circle cx="159.5" cy="343.3" r="1.2"/><circle cx="160.7" cy="349.3" r="1.2"/><circle cx="162.0" cy="354.3" r="1.2"/><circle cx="163.2" cy="356.8" r="1.2"/><circle cx="164.5" cy="359.5" r="1.2"/><circle cx="165.7" cy="361.0" r="1.2"/><circle cx="167.0" cy="362.7" r="1.2"/><circle cx="168.2" cy="363.8" r="1.2"/><circle cx="169.5" cy="364.3" r="1.2"/><circle cx="170.7" cy="364.7" r="1.2"/><circle cx="172.0" cy="365.4" r="1.2"/><circle cx="173.2" cy="365.8" r="1.2"/><circle cx="174.5" cy="366.6" r="1.2"/><circle cx="175.7" cy="366.6" r="1.2"/><circle cx="177.0" cy="366.7" r="1.2"/><circle cx="178.2" cy="367.1" r="1.2"/><circle cx="179.5" cy="367.3" r="1.2"/><circle cx="180.7" cy="367.7" r="1.2"/><circle cx="182.0" cy="367.1" r="1.2"/><circle cx="183.2" cy="367.5" r="1.2"/><circle cx="184.5" cy="367.6" r="1.2"/><circle cx="185.7" cy="367.0" r="1.2"/><circle cx="187.0" cy="367.4" r="1.2"/><circle cx="188.2" cy="367.0" r="1.2"/><circle cx="189.5" cy="367.3" r="1.2"/><circle cx="190.7" cy="367.5" r="1.2"/><circle cx="192.0" cy="366.8" r="1.2"/><circle cx="193.2" cy="367.1" r="1.2"/><circle cx="194.5" cy="367.1" r="1.2"/><circle cx="195.7" cy="367.4" r="1.2"/><circle cx="197.0" cy="367.1" r="1.2"/><circle cx="198.2" cy="367.5" r="1.2"/><circle cx="199.5" cy="367.1" r="1.2"/><circle cx="200.7" cy="367.2" r="1.2"/><circle cx="202.0" cy="367.6" r="1.2"/><circle cx="203.2" cy="367.5" r="1.2"/><circle cx="204.5" cy="367.5" r="1.2"/></g><text x="149.8" y="225.6" font-size="9.3" font-weight="bold" text-anchor="middle" fill="#000" >284.6 eV</text><text x="148.7" y="235" font-size="9.3" font-weight="bold" text-anchor="middle" fill="#000" >C−C</text><text x="122.1" y="278.3" font-size="9.3" font-weight="bold" text-anchor="middle" fill="#000" >C−O</text><text x="120.4" y="289.1" font-size="9.3" font-weight="bold" text-anchor="middle" fill="#000" >285.8 eV</text><text x="103.8" y="302.8" font-size="9.3" font-weight="bold" text-anchor="middle" fill="#000" >C=O</text><text x="102.4" y="314" font-size="9.3" font-weight="bold" text-anchor="middle" fill="#000" >288.4 eV</text><rect x="253.6" y="216.6" width="188.00000000000003" height="166.4" fill="none" stroke="#3a3a3a" stroke-width="1"/><line x1="264.2" y1="383" x2="264.2" y2="386.3" stroke="#3a3a3a" stroke-width="1.0" /><text x="264.2" y="398.4" font-size="11.2" text-anchor="middle" fill="#000" >736</text><line x1="305.9" y1="383" x2="305.9" y2="386.3" stroke="#3a3a3a" stroke-width="1.0" /><text x="305.9" y="398.4" font-size="11.2" text-anchor="middle" fill="#000" >728</text><line x1="347.7" y1="383" x2="347.7" y2="386.3" stroke="#3a3a3a" stroke-width="1.0" /><text x="347.7" y="398.4" font-size="11.2" text-anchor="middle" fill="#000" >720</text><line x1="389.4" y1="383" x2="389.4" y2="386.3" stroke="#3a3a3a" stroke-width="1.0" /><text x="389.4" y="398.4" font-size="11.2" text-anchor="middle" fill="#000" >712</text><line x1="431.2" y1="383" x2="431.2" y2="386.3" stroke="#3a3a3a" stroke-width="1.0" /><text x="431.2" y="398.4" font-size="11.2" text-anchor="middle" fill="#000" >704</text><text x="347.5" y="412.7" font-size="11.7" text-anchor="middle" fill="#000" >Binding energy (eV)</text><text transform="translate(246,301.3) rotate(-90)" x="0" y="0" font-size="11.7" text-anchor="middle" fill="#000">Intensity (a.u.)</text><text x="235.5" y="222.7" font-size="11" font-weight="bold" text-anchor="start" fill="#000" >(e)</text><polyline points="253.8,283.6 254.4,285.4 254.9,285.4 255.4,280 256,278.1 256.6,276.9 257.1,283.7 257.7,276.5 258.2,275 258.8,278.7 259.3,280.7 259.8,274.8 260.3,277.7 260.8,274.3 261.3,276.2 261.9,282.2 262.4,278.4 262.9,277.3 263.4,278.2 263.9,278.7 264.4,277.7 264.9,274.9 265.4,274.9 265.9,283.2 266.4,276 266.9,281.1 267.5,276.1 268,281.4 268.5,279.8 269,277.5 269.5,283.2 270,275.6 270.5,277.4 271,275.8 271.5,276 272,277.1 272.5,275.5 273,277.2 273.5,282.1 274,273.5 274.5,274.8 275,275.5 275.5,276.8 276,280.6 276.5,279.9 277,279.2 277.5,278.5 278,284.2 278.5,275.1 279,275 279.5,277.9 280,278.5 280.5,277.4 281,275.8 281.6,274.6 282.1,277.3 282.6,276.2 283.1,276.8 283.6,275.2 284.1,281.5 284.7,279.2 285.2,282.8 285.7,276.7 286.2,278.1 286.7,277.4 287.3,278.1 287.8,277.3 288.3,277.6 288.8,272.9 289.3,277.3 289.8,279.8 290.4,273 290.9,277.1 291.4,279.5 291.9,281.1 292.4,277.5 292.9,278.8 293.4,282 293.9,280.7 294.4,276.1 294.9,275.6 295.4,279.6 295.9,277.4 296.4,275.3 296.9,276 297.4,277.3 297.9,275.8 298.4,275.6 298.9,275.5 299.4,272.1 299.9,280.3 300.4,278.9 300.9,279.5 301.4,275.1 301.9,275.7 302.4,276.7 302.9,277.2 303.4,269.9 303.9,275.1 304.4,271.2 305,273.1 305.5,271.2 306,276.8 306.5,273.4 307,271.4 307.5,274.4 308,270.1 308.6,267.8 309.1,268.6 309.6,267.6 310.1,268.1 310.6,269.6 311.1,266.3 311.6,265.7 312.2,267.7 312.7,265 313.2,265.9 313.7,263.1 314.2,258.6 314.7,258.3 315.3,256.1 315.8,262.5 316.3,259.9 316.8,257 317.4,255.2 317.9,258.1 318.4,256.3 318.9,256.9 319.5,253.4 320,252.1 320.5,258.5 321.1,251.5 321.6,253.4 322.1,256.4 322.7,249 323.3,256.3 323.9,255.4 324.5,255.6 325,257.8 325.6,255.1 326.1,253.6 326.6,265.3 327.2,260.8 327.7,264.9 328.2,266.8 328.8,266.1 329.3,267.9 329.9,269.9 330.4,273.5 331,272.1 331.5,275.4 332.1,273.2 332.6,274.6 333.2,277.7 333.7,280.3 334.3,282.4 334.8,287.8 335.4,286.7 335.9,285.1 336.4,290.5 337,286.7 337.5,287.2 338,288 338.5,286.4 339,284.9 339.5,288.5 340.1,287.8 340.6,286.8 341.1,289.8 341.6,289.2 342.1,288.4 342.6,285.5 343.1,289.9 343.6,295 344.1,293 344.6,293.7 345.1,291.1 345.6,294 346.2,289.8 346.7,290.5 347.2,293.2 347.7,288.4 348.2,292.5 348.7,293.3 349.2,297 349.7,291.1 350.2,294.2 350.7,291.6 351.2,292.1 351.7,286.7 352.2,291.4 352.7,296.9 353.2,295.4 353.7,294.6 354.2,300.7 354.7,295.9 355.2,291.5 355.8,294.3 356.3,294.8 356.8,299.3 357.3,293 357.8,296.5 358.3,298.1 358.8,293.7 359.3,296.1 359.8,290.9 360.3,296.5 360.8,290.7 361.3,295.5 361.8,301 362.4,297.8 362.9,297 363.4,297.4 363.9,302.6 364.4,298.6 364.9,300 365.4,296.4 365.9,296.5 366.5,295 367,297.4 367.5,296.2 368,300.6 368.5,299.9 369,298.2 369.5,297.3 370,291.4 370.5,297.5 371,299 371.5,299.2 372.1,288.8 372.6,289.8 373.1,295.6 373.6,291.8 374.1,293.1 374.7,291.7 375.2,293.7 375.7,286.6 376.2,289.1 376.7,292.1 377.3,289.3 377.8,285.8 378.3,288.2 378.8,286.9 379.3,283 379.8,286.2 380.4,285.3 380.9,282.3 381.4,284.2 381.9,277.2 382.5,280.5 383,276.4 383.5,272.8 384.1,272.1 384.6,274.9 385.1,268.9 385.7,267.8 386.2,265.3 386.8,263 387.4,265.4 387.9,266.6 388.5,262.4 389.1,258.2 389.7,256.1 390.3,250.6 390.9,247.5 391.5,243 392.2,248.5 392.9,242.6 393.4,241.8 393.9,242.1 394.5,244.3 395,242.5 395.5,244.1 396.1,246.4 396.8,251.5 397.4,246.8 397.9,255.4 398.5,259.2 399,264.6 399.6,272.3 400.1,276.1 400.7,283.2 401.3,292.7 401.9,300.5 402.5,310.3 403.1,316.1 403.6,325.2 404.2,332.1 404.7,334.1 405.2,335.4 405.8,335.9 406.3,339.4 406.8,343.3 407.3,340.1 407.9,341.6 408.4,344.4 408.9,342.4 409.5,347.4 410,347.8 410.5,340.8 411,345.7 411.5,345.3 412.1,350.9 412.6,351.9 413.1,347.1 413.6,349.1 414.2,351.2 414.7,351 415.2,354.4 415.8,355.6 416.3,355.2 416.9,357 417.4,356.7 417.9,354.1 418.4,353.3 418.9,352.5 419.4,356.6 419.9,356.8 420.4,357.2 420.9,353.8 421.5,353.7 422,355.4 422.5,358 423,355.7 423.5,355.5 424,352.8 424.5,356.1 425,356.4 425.5,352.6 426,359.6 426.5,352.7 427,357.5 427.5,354.6 428,355.5 428.5,353.1 429,353.7 429.5,357 430,354.7 430.5,354.3 431,357.5 431.5,357.1 432,355.7 432.5,355.9 433,359.7 433.5,354.9 434,356.3 434.5,356.4 435,351.8 435.5,350.4 436,355.7 436.5,357.6 437,355.9 437.5,354.1 438,353.8 438.5,357.5 439,354.7 439.5,351.4 440,357.2 440.5,356.1 441,356.5" fill="none" stroke="#74b042" stroke-width="0.95" stroke-linejoin="round" /><polyline points="253.8,281.8 262,282.8 272.2,284.7 282,286.6 291.4,288.5 300,290.5 306.7,292.4 312.5,294.8 318.3,298.1 324,301.6 329.8,305.8 335,308.4 345,312.5 355,316.5 365,320.3 374.3,323.8 380,327.3 386,332.8 391,340 396,346.5 400,350.2 403.7,353 407,355 411,356 420,356.6 430,357 441,357.4" fill="none" stroke="#f05050" stroke-width="0.9" stroke-linejoin="round" /><text x="309.8" y="246.5" font-size="9.7" font-weight="bold" text-anchor="start" fill="#000" >Fe 2p<tspan font-size="7.8" dy="2">1/2</tspan></text><text x="381.6" y="235.7" font-size="9.7" font-weight="bold" text-anchor="start" fill="#000" >Fe 2p<tspan font-size="7.8" dy="2">3/2</tspan></text><rect x="490.3" y="216.6" width="188.3" height="166.29999999999998" fill="none" stroke="#3a3a3a" stroke-width="1"/><line x1="487.3" y1="383.1" x2="490.3" y2="383.1" stroke="#3a3a3a" stroke-width="1.0" /><text x="485.4" y="387.1" font-size="11.2" text-anchor="end" fill="#000" >−40</text><line x1="488.3" y1="362.2" x2="490.3" y2="362.2" stroke="#3a3a3a" stroke-width="1.0" /><line x1="487.3" y1="341.4" x2="490.3" y2="341.4" stroke="#3a3a3a" stroke-width="1.0" /><text x="485.4" y="345.4" font-size="11.2" text-anchor="end" fill="#000" >−20</text><line x1="488.3" y1="320.6" x2="490.3" y2="320.6" stroke="#3a3a3a" stroke-width="1.0" /><line x1="487.3" y1="299.8" x2="490.3" y2="299.8" stroke="#3a3a3a" stroke-width="1.0" /><text x="485.4" y="303.8" font-size="11.2" text-anchor="end" fill="#000" >0</text><line x1="488.3" y1="278.9" x2="490.3" y2="278.9" stroke="#3a3a3a" stroke-width="1.0" /><line x1="487.3" y1="258.1" x2="490.3" y2="258.1" stroke="#3a3a3a" stroke-width="1.0" /><text x="485.4" y="262.1" font-size="11.2" text-anchor="end" fill="#000" >20</text><line x1="488.3" y1="237.3" x2="490.3" y2="237.3" stroke="#3a3a3a" stroke-width="1.0" /><line x1="487.3" y1="216.4" x2="490.3" y2="216.4" stroke="#3a3a3a" stroke-width="1.0" /><text x="485.4" y="220.4" font-size="11.2" text-anchor="end" fill="#000" >40</text><line x1="490.5" y1="382.9" x2="490.5" y2="385.9" stroke="#3a3a3a" stroke-width="1.0" /><text x="487.2" y="398.4" font-size="11.2" text-anchor="middle" fill="#000" >−10</text><line x1="514" y1="382.9" x2="514" y2="384.9" stroke="#3a3a3a" stroke-width="1.0" /><line x1="537.5" y1="382.9" x2="537.5" y2="385.9" stroke="#3a3a3a" stroke-width="1.0" /><text x="534.2" y="398.4" font-size="11.2" text-anchor="middle" fill="#000" >−5</text><line x1="561" y1="382.9" x2="561" y2="384.9" stroke="#3a3a3a" stroke-width="1.0" /><line x1="584.5" y1="382.9" x2="584.5" y2="385.9" stroke="#3a3a3a" stroke-width="1.0" /><text x="584.5" y="398.4" font-size="11.2" text-anchor="middle" fill="#000" >0</text><line x1="608" y1="382.9" x2="608" y2="384.9" stroke="#3a3a3a" stroke-width="1.0" /><line x1="631.5" y1="382.9" x2="631.5" y2="385.9" stroke="#3a3a3a" stroke-width="1.0" /><text x="631.5" y="398.4" font-size="11.2" text-anchor="middle" fill="#000" >5</text><line x1="655" y1="382.9" x2="655" y2="384.9" stroke="#3a3a3a" stroke-width="1.0" /><line x1="678.5" y1="382.9" x2="678.5" y2="385.9" stroke="#3a3a3a" stroke-width="1.0" /><text x="678.5" y="398.4" font-size="11.2" text-anchor="middle" fill="#000" >10</text><text x="584.5" y="412.7" font-size="11.7" text-anchor="middle" fill="#000" >Applied field (kOe)</text><text transform="translate(465,300.7) rotate(-90)" x="0" y="0" font-size="11.7" text-anchor="middle" fill="#000">Ms (emu g<tspan font-size="8" dy="-4.5">−1</tspan><tspan dy="4.5">)</tspan></text><text x="457" y="222.6" font-size="11" font-weight="bold" text-anchor="start" fill="#000" >(f)</text><clipPath id="fc"><rect x="490.3" y="216.6" width="188.3" height="166.3"/></clipPath><g clip-path="url(#fc)"><polyline points="490.5,370.4 492.4,370.3 494.3,370.3 496.1,370.2 498,370.1 499.9,370 501.8,369.9 503.7,369.8 505.5,369.7 507.4,369.6 509.3,369.5 511.2,369.4 513.1,369.3 514.9,369.2 516.8,369.1 518.7,369 520.6,368.9 522.5,368.8 524.3,368.8 526.2,368.7 528.1,368.6 530,368.5 531.9,368.3 533.7,368.1 535.6,367.9 537.5,367.7 539.4,367.5 541.3,367.3 543.1,367.2 545,367 546.9,366.8 548.8,366.6 550.7,366.2 552.5,365.8 554.4,365.3 556.3,364.9 558.2,364.5 560.1,364.1 561.9,363.7 563.8,363.3 565.7,362.6 567.6,361.7 569.5,360.9 571.3,360 573.2,359.1 575.1,357.6 577,355.6 578.9,352.2 580.7,347 582.6,339.3 584.5,324.7 586.4,299.8 588.3,274.8 590.1,260.2 592,252.5 593.9,247.3 595.8,243.9 597.7,241.9 599.5,240.4 601.4,239.5 603.3,238.6 605.2,237.8 607.1,236.9 608.9,236.2 610.8,235.8 612.7,235.4 614.6,235 616.5,234.6 618.3,234.2 620.2,233.7 622.1,233.3 624,232.9 625.9,232.7 627.7,232.5 629.6,232.3 631.5,232.2 633.4,232 635.3,231.8 637.1,231.6 639,231.4 640.9,231.2 642.8,231 644.7,230.9 646.5,230.8 648.4,230.7 650.3,230.7 652.2,230.6 654.1,230.5 655.9,230.4 657.8,230.3 659.7,230.2 661.6,230.1 663.5,230 665.3,229.9 667.2,229.8 669.1,229.7 671,229.6 672.9,229.5 674.7,229.4 676.6,229.3 678.5,229.2" fill="none" stroke="#e8505a" stroke-width="0.8" stroke-linejoin="round" /><polyline points="678.5,229.1 676.6,229.1 674.7,229.2 672.9,229.3 671,229.4 669.1,229.5 667.2,229.6 665.3,229.7 663.5,229.8 661.6,229.9 659.7,229.9 657.8,230 655.9,230.1 654.1,230.2 652.2,230.3 650.3,230.4 648.4,230.5 646.5,230.6 644.7,230.7 642.8,230.8 640.9,230.9 639,231 637.1,231.1 635.3,231.3 633.4,231.5 631.5,231.7 629.6,231.9 627.7,232 625.9,232.2 624,232.4 622.1,232.6 620.2,232.8 618.3,233.1 616.5,233.5 614.6,233.9 612.7,234.3 610.8,234.8 608.9,235.2 607.1,235.6 605.2,236 603.3,236.4 601.4,237.3 599.5,238.1 597.7,239 595.8,239.9 593.9,240.8 592,242.8 590.1,245.4 588.3,249.5 586.4,255.3 584.5,265.8 582.6,285.1 580.7,311.9 578.9,332.2 577,343.4 575.1,349.5 573.2,353.7 571.3,356.5 569.5,358.6 567.6,359.5 565.7,360.4 563.8,361.3 561.9,362.1 560.1,363 558.2,363.5 556.3,363.9 554.4,364.3 552.5,364.7 550.7,365.1 548.8,365.5 546.9,366 545,366.4 543.1,366.7 541.3,366.9 539.4,367.1 537.5,367.2 535.6,367.4 533.7,367.6 531.9,367.8 530,368 528.1,368.2 526.2,368.4 524.3,368.5 522.5,368.6 520.6,368.7 518.7,368.8 516.8,368.9 514.9,369 513.1,369.1 511.2,369.2 509.3,369.3 507.4,369.4 505.5,369.5 503.7,369.5 501.8,369.6 499.9,369.7 498,369.8 496.1,369.9 494.3,370 492.4,370.1 490.5,370.2" fill="none" stroke="#e8505a" stroke-width="0.8" stroke-linejoin="round" /><defs><radialGradient id="hl1"><stop offset="0" stop-color="#fff" stop-opacity="0.95"/><stop offset="0.4" stop-color="#fff" stop-opacity="0.6"/><stop offset="1" stop-color="#fff" stop-opacity="0"/></radialGradient></defs><g fill="#e8454f"><circle cx="490.5" cy="370.4" r="2.45"/><circle cx="492.4" cy="370.3" r="2.45"/><circle cx="494.3" cy="370.3" r="2.45"/><circle cx="496.1" cy="370.2" r="2.45"/><circle cx="498.0" cy="370.1" r="2.45"/><circle cx="499.9" cy="370.0" r="2.45"/><circle cx="501.8" cy="369.9" r="2.45"/><circle cx="503.7" cy="369.8" r="2.45"/><circle cx="505.5" cy="369.7" r="2.45"/><circle cx="507.4" cy="369.6" r="2.45"/><circle cx="509.3" cy="369.5" r="2.45"/><circle cx="511.2" cy="369.4" r="2.45"/><circle cx="513.1" cy="369.3" r="2.45"/><circle cx="514.9" cy="369.2" r="2.45"/><circle cx="516.8" cy="369.1" r="2.45"/><circle cx="518.7" cy="369.0" r="2.45"/><circle cx="520.6" cy="368.9" r="2.45"/><circle cx="522.5" cy="368.8" r="2.45"/><circle cx="524.3" cy="368.8" r="2.45"/><circle cx="526.2" cy="368.7" r="2.45"/><circle cx="528.1" cy="368.6" r="2.45"/><circle cx="530.0" cy="368.5" r="2.45"/><circle cx="531.9" cy="368.3" r="2.45"/><circle cx="533.7" cy="368.1" r="2.45"/><circle cx="535.6" cy="367.9" r="2.45"/><circle cx="537.5" cy="367.7" r="2.45"/><circle cx="539.4" cy="367.5" r="2.45"/><circle cx="541.3" cy="367.3" r="2.45"/><circle cx="543.1" cy="367.2" r="2.45"/><circle cx="545.0" cy="367.0" r="2.45"/><circle cx="546.9" cy="366.8" r="2.45"/><circle cx="548.8" cy="366.6" r="2.45"/><circle cx="550.7" cy="366.2" r="2.45"/><circle cx="552.5" cy="365.8" r="2.45"/><circle cx="554.4" cy="365.3" r="2.45"/><circle cx="556.3" cy="364.9" r="2.45"/><circle cx="558.2" cy="364.5" r="2.45"/><circle cx="560.1" cy="364.1" r="2.45"/><circle cx="561.9" cy="363.7" r="2.45"/><circle cx="563.8" cy="363.3" r="2.45"/><circle cx="565.7" cy="362.6" r="2.45"/><circle cx="567.6" cy="361.7" r="2.45"/><circle cx="569.5" cy="360.9" r="2.45"/><circle cx="571.3" cy="360.0" r="2.45"/><circle cx="573.2" cy="359.1" r="2.45"/><circle cx="575.1" cy="357.6" r="2.45"/><circle cx="577.0" cy="355.6" r="2.45"/><circle cx="578.9" cy="352.2" r="2.45"/><circle cx="580.7" cy="347.0" r="2.45"/><circle cx="582.6" cy="339.3" r="2.45"/><circle cx="584.5" cy="324.7" r="2.45"/><circle cx="586.4" cy="299.8" r="2.45"/><circle cx="588.3" cy="274.8" r="2.45"/><circle cx="590.1" cy="260.2" r="2.45"/><circle cx="592.0" cy="252.5" r="2.45"/><circle cx="593.9" cy="247.3" r="2.45"/><circle cx="595.8" cy="243.9" r="2.45"/><circle cx="597.7" cy="241.9" r="2.45"/><circle cx="599.5" cy="240.4" r="2.45"/><circle cx="601.4" cy="239.5" r="2.45"/><circle cx="603.3" cy="238.6" r="2.45"/><circle cx="605.2" cy="237.8" r="2.45"/><circle cx="607.1" cy="236.9" r="2.45"/><circle cx="608.9" cy="236.2" r="2.45"/><circle cx="610.8" cy="235.8" r="2.45"/><circle cx="612.7" cy="235.4" r="2.45"/><circle cx="614.6" cy="235.0" r="2.45"/><circle cx="616.5" cy="234.6" r="2.45"/><circle cx="618.3" cy="234.2" r="2.45"/><circle cx="620.2" cy="233.7" r="2.45"/><circle cx="622.1" cy="233.3" r="2.45"/><circle cx="624.0" cy="232.9" r="2.45"/><circle cx="625.9" cy="232.7" r="2.45"/><circle cx="627.7" cy="232.5" r="2.45"/><circle cx="629.6" cy="232.3" r="2.45"/><circle cx="631.5" cy="232.2" r="2.45"/><circle cx="633.4" cy="232.0" r="2.45"/><circle cx="635.3" cy="231.8" r="2.45"/><circle cx="637.1" cy="231.6" r="2.45"/><circle cx="639.0" cy="231.4" r="2.45"/><circle cx="640.9" cy="231.2" r="2.45"/><circle cx="642.8" cy="231.0" r="2.45"/><circle cx="644.7" cy="230.9" r="2.45"/><circle cx="646.5" cy="230.8" r="2.45"/><circle cx="648.4" cy="230.7" r="2.45"/><circle cx="650.3" cy="230.7" r="2.45"/><circle cx="652.2" cy="230.6" r="2.45"/><circle cx="654.1" cy="230.5" r="2.45"/><circle cx="655.9" cy="230.4" r="2.45"/><circle cx="657.8" cy="230.3" r="2.45"/><circle cx="659.7" cy="230.2" r="2.45"/><circle cx="661.6" cy="230.1" r="2.45"/><circle cx="663.5" cy="230.0" r="2.45"/><circle cx="665.3" cy="229.9" r="2.45"/><circle cx="667.2" cy="229.8" r="2.45"/><circle cx="669.1" cy="229.7" r="2.45"/><circle cx="671.0" cy="229.6" r="2.45"/><circle cx="672.9" cy="229.5" r="2.45"/><circle cx="674.7" cy="229.4" r="2.45"/><circle cx="676.6" cy="229.3" r="2.45"/><circle cx="678.5" cy="229.2" r="2.45"/><circle cx="678.5" cy="229.1" r="2.45"/><circle cx="676.6" cy="229.1" r="2.45"/><circle cx="674.7" cy="229.2" r="2.45"/><circle cx="672.9" cy="229.3" r="2.45"/><circle cx="671.0" cy="229.4" r="2.45"/><circle cx="669.1" cy="229.5" r="2.45"/><circle cx="667.2" cy="229.6" r="2.45"/><circle cx="665.3" cy="229.7" r="2.45"/><circle cx="663.5" cy="229.8" r="2.45"/><circle cx="661.6" cy="229.9" r="2.45"/><circle cx="659.7" cy="229.9" r="2.45"/><circle cx="657.8" cy="230.0" r="2.45"/><circle cx="655.9" cy="230.1" r="2.45"/><circle cx="654.1" cy="230.2" r="2.45"/><circle cx="652.2" cy="230.3" r="2.45"/><circle cx="650.3" cy="230.4" r="2.45"/><circle cx="648.4" cy="230.5" r="2.45"/><circle cx="646.5" cy="230.6" r="2.45"/><circle cx="644.7" cy="230.7" r="2.45"/><circle cx="642.8" cy="230.8" r="2.45"/><circle cx="640.9" cy="230.9" r="2.45"/><circle cx="639.0" cy="231.0" r="2.45"/><circle cx="637.1" cy="231.1" r="2.45"/><circle cx="635.3" cy="231.3" r="2.45"/><circle cx="633.4" cy="231.5" r="2.45"/><circle cx="631.5" cy="231.7" r="2.45"/><circle cx="629.6" cy="231.9" r="2.45"/><circle cx="627.7" cy="232.0" r="2.45"/><circle cx="625.9" cy="232.2" r="2.45"/><circle cx="624.0" cy="232.4" r="2.45"/><circle cx="622.1" cy="232.6" r="2.45"/><circle cx="620.2" cy="232.8" r="2.45"/><circle cx="618.3" cy="233.1" r="2.45"/><circle cx="616.5" cy="233.5" r="2.45"/><circle cx="614.6" cy="233.9" r="2.45"/><circle cx="612.7" cy="234.3" r="2.45"/><circle cx="610.8" cy="234.8" r="2.45"/><circle cx="608.9" cy="235.2" r="2.45"/><circle cx="607.1" cy="235.6" r="2.45"/><circle cx="605.2" cy="236.0" r="2.45"/><circle cx="603.3" cy="236.4" r="2.45"/><circle cx="601.4" cy="237.3" r="2.45"/><circle cx="599.5" cy="238.1" r="2.45"/><circle cx="597.7" cy="239.0" r="2.45"/><circle cx="595.8" cy="239.9" r="2.45"/><circle cx="593.9" cy="240.8" r="2.45"/><circle cx="592.0" cy="242.8" r="2.45"/><circle cx="590.1" cy="245.4" r="2.45"/><circle cx="588.3" cy="249.5" r="2.45"/><circle cx="586.4" cy="255.3" r="2.45"/><circle cx="584.5" cy="265.8" r="2.45"/><circle cx="582.6" cy="285.1" r="2.45"/><circle cx="580.7" cy="311.9" r="2.45"/><circle cx="578.9" cy="332.2" r="2.45"/><circle cx="577.0" cy="343.4" r="2.45"/><circle cx="575.1" cy="349.5" r="2.45"/><circle cx="573.2" cy="353.7" r="2.45"/><circle cx="571.3" cy="356.5" r="2.45"/><circle cx="569.5" cy="358.6" r="2.45"/><circle cx="567.6" cy="359.5" r="2.45"/><circle cx="565.7" cy="360.4" r="2.45"/><circle cx="563.8" cy="361.3" r="2.45"/><circle cx="561.9" cy="362.1" r="2.45"/><circle cx="560.1" cy="363.0" r="2.45"/><circle cx="558.2" cy="363.5" r="2.45"/><circle cx="556.3" cy="363.9" r="2.45"/><circle cx="554.4" cy="364.3" r="2.45"/><circle cx="552.5" cy="364.7" r="2.45"/><circle cx="550.7" cy="365.1" r="2.45"/><circle cx="548.8" cy="365.5" r="2.45"/><circle cx="546.9" cy="366.0" r="2.45"/><circle cx="545.0" cy="366.4" r="2.45"/><circle cx="543.1" cy="366.7" r="2.45"/><circle cx="541.3" cy="366.9" r="2.45"/><circle cx="539.4" cy="367.1" r="2.45"/><circle cx="537.5" cy="367.2" r="2.45"/><circle cx="535.6" cy="367.4" r="2.45"/><circle cx="533.7" cy="367.6" r="2.45"/><circle cx="531.9" cy="367.8" r="2.45"/><circle cx="530.0" cy="368.0" r="2.45"/><circle cx="528.1" cy="368.2" r="2.45"/><circle cx="526.2" cy="368.4" r="2.45"/><circle cx="524.3" cy="368.5" r="2.45"/><circle cx="522.5" cy="368.6" r="2.45"/><circle cx="520.6" cy="368.7" r="2.45"/><circle cx="518.7" cy="368.8" r="2.45"/><circle cx="516.8" cy="368.9" r="2.45"/><circle cx="514.9" cy="369.0" r="2.45"/><circle cx="513.1" cy="369.1" r="2.45"/><circle cx="511.2" cy="369.2" r="2.45"/><circle cx="509.3" cy="369.3" r="2.45"/><circle cx="507.4" cy="369.4" r="2.45"/><circle cx="505.5" cy="369.5" r="2.45"/><circle cx="503.7" cy="369.5" r="2.45"/><circle cx="501.8" cy="369.6" r="2.45"/><circle cx="499.9" cy="369.7" r="2.45"/><circle cx="498.0" cy="369.8" r="2.45"/><circle cx="496.1" cy="369.9" r="2.45"/><circle cx="494.3" cy="370.0" r="2.45"/><circle cx="492.4" cy="370.1" r="2.45"/><circle cx="490.5" cy="370.2" r="2.45"/></g><g fill="url(#hl1)"><circle cx="490.5" cy="370.0" r="1.0"/><circle cx="492.4" cy="369.9" r="1.0"/><circle cx="494.3" cy="369.9" r="1.0"/><circle cx="496.1" cy="369.8" r="1.0"/><circle cx="498.0" cy="369.7" r="1.0"/><circle cx="499.9" cy="369.6" r="1.0"/><circle cx="501.8" cy="369.5" r="1.0"/><circle cx="503.7" cy="369.4" r="1.0"/><circle cx="505.5" cy="369.3" r="1.0"/><circle cx="507.4" cy="369.2" r="1.0"/><circle cx="509.3" cy="369.1" r="1.0"/><circle cx="511.2" cy="369.0" r="1.0"/><circle cx="513.1" cy="368.9" r="1.0"/><circle cx="514.9" cy="368.8" r="1.0"/><circle cx="516.8" cy="368.7" r="1.0"/><circle cx="518.7" cy="368.6" r="1.0"/><circle cx="520.6" cy="368.5" r="1.0"/><circle cx="522.5" cy="368.4" r="1.0"/><circle cx="524.3" cy="368.4" r="1.0"/><circle cx="526.2" cy="368.3" r="1.0"/><circle cx="528.1" cy="368.2" r="1.0"/><circle cx="530.0" cy="368.1" r="1.0"/><circle cx="531.9" cy="367.9" r="1.0"/><circle cx="533.7" cy="367.7" r="1.0"/><circle cx="535.6" cy="367.5" r="1.0"/><circle cx="537.5" cy="367.3" r="1.0"/><circle cx="539.4" cy="367.1" r="1.0"/><circle cx="541.3" cy="366.9" r="1.0"/><circle cx="543.1" cy="366.8" r="1.0"/><circle cx="545.0" cy="366.6" r="1.0"/><circle cx="546.9" cy="366.4" r="1.0"/><circle cx="548.8" cy="366.2" r="1.0"/><circle cx="550.7" cy="365.8" r="1.0"/><circle cx="552.5" cy="365.4" r="1.0"/><circle cx="554.4" cy="364.9" r="1.0"/><circle cx="556.3" cy="364.5" r="1.0"/><circle cx="558.2" cy="364.1" r="1.0"/><circle cx="560.1" cy="363.7" r="1.0"/><circle cx="561.9" cy="363.3" r="1.0"/><circle cx="563.8" cy="362.9" r="1.0"/><circle cx="565.7" cy="362.2" r="1.0"/><circle cx="567.6" cy="361.3" r="1.0"/><circle cx="569.5" cy="360.5" r="1.0"/><circle cx="571.3" cy="359.6" r="1.0"/><circle cx="573.2" cy="358.7" r="1.0"/><circle cx="575.1" cy="357.2" r="1.0"/><circle cx="577.0" cy="355.2" r="1.0"/><circle cx="578.9" cy="351.8" r="1.0"/><circle cx="580.7" cy="346.6" r="1.0"/><circle cx="582.6" cy="338.9" r="1.0"/><circle cx="584.5" cy="324.3" r="1.0"/><circle cx="586.4" cy="299.4" r="1.0"/><circle cx="588.3" cy="274.4" r="1.0"/><circle cx="590.1" cy="259.8" r="1.0"/><circle cx="592.0" cy="252.1" r="1.0"/><circle cx="593.9" cy="246.9" r="1.0"/><circle cx="595.8" cy="243.5" r="1.0"/><circle cx="597.7" cy="241.5" r="1.0"/><circle cx="599.5" cy="240.0" r="1.0"/><circle cx="601.4" cy="239.1" r="1.0"/><circle cx="603.3" cy="238.2" r="1.0"/><circle cx="605.2" cy="237.4" r="1.0"/><circle cx="607.1" cy="236.5" r="1.0"/><circle cx="608.9" cy="235.8" r="1.0"/><circle cx="610.8" cy="235.4" r="1.0"/><circle cx="612.7" cy="235.0" r="1.0"/><circle cx="614.6" cy="234.6" r="1.0"/><circle cx="616.5" cy="234.2" r="1.0"/><circle cx="618.3" cy="233.8" r="1.0"/><circle cx="620.2" cy="233.3" r="1.0"/><circle cx="622.1" cy="232.9" r="1.0"/><circle cx="624.0" cy="232.5" r="1.0"/><circle cx="625.9" cy="232.3" r="1.0"/><circle cx="627.7" cy="232.1" r="1.0"/><circle cx="629.6" cy="231.9" r="1.0"/><circle cx="631.5" cy="231.8" r="1.0"/><circle cx="633.4" cy="231.6" r="1.0"/><circle cx="635.3" cy="231.4" r="1.0"/><circle cx="637.1" cy="231.2" r="1.0"/><circle cx="639.0" cy="231.0" r="1.0"/><circle cx="640.9" cy="230.8" r="1.0"/><circle cx="642.8" cy="230.6" r="1.0"/><circle cx="644.7" cy="230.5" r="1.0"/><circle cx="646.5" cy="230.4" r="1.0"/><circle cx="648.4" cy="230.3" r="1.0"/><circle cx="650.3" cy="230.3" r="1.0"/><circle cx="652.2" cy="230.2" r="1.0"/><circle cx="654.1" cy="230.1" r="1.0"/><circle cx="655.9" cy="230.0" r="1.0"/><circle cx="657.8" cy="229.9" r="1.0"/><circle cx="659.7" cy="229.8" r="1.0"/><circle cx="661.6" cy="229.7" r="1.0"/><circle cx="663.5" cy="229.6" r="1.0"/><circle cx="665.3" cy="229.5" r="1.0"/><circle cx="667.2" cy="229.4" r="1.0"/><circle cx="669.1" cy="229.3" r="1.0"/><circle cx="671.0" cy="229.2" r="1.0"/><circle cx="672.9" cy="229.1" r="1.0"/><circle cx="674.7" cy="229.0" r="1.0"/><circle cx="676.6" cy="228.9" r="1.0"/><circle cx="678.5" cy="228.8" r="1.0"/><circle cx="678.5" cy="228.7" r="1.0"/><circle cx="676.6" cy="228.7" r="1.0"/><circle cx="674.7" cy="228.8" r="1.0"/><circle cx="672.9" cy="228.9" r="1.0"/><circle cx="671.0" cy="229.0" r="1.0"/><circle cx="669.1" cy="229.1" r="1.0"/><circle cx="667.2" cy="229.2" r="1.0"/><circle cx="665.3" cy="229.3" r="1.0"/><circle cx="663.5" cy="229.4" r="1.0"/><circle cx="661.6" cy="229.5" r="1.0"/><circle cx="659.7" cy="229.5" r="1.0"/><circle cx="657.8" cy="229.6" r="1.0"/><circle cx="655.9" cy="229.7" r="1.0"/><circle cx="654.1" cy="229.8" r="1.0"/><circle cx="652.2" cy="229.9" r="1.0"/><circle cx="650.3" cy="230.0" r="1.0"/><circle cx="648.4" cy="230.1" r="1.0"/><circle cx="646.5" cy="230.2" r="1.0"/><circle cx="644.7" cy="230.3" r="1.0"/><circle cx="642.8" cy="230.4" r="1.0"/><circle cx="640.9" cy="230.5" r="1.0"/><circle cx="639.0" cy="230.6" r="1.0"/><circle cx="637.1" cy="230.7" r="1.0"/><circle cx="635.3" cy="230.9" r="1.0"/><circle cx="633.4" cy="231.1" r="1.0"/><circle cx="631.5" cy="231.3" r="1.0"/><circle cx="629.6" cy="231.5" r="1.0"/><circle cx="627.7" cy="231.6" r="1.0"/><circle cx="625.9" cy="231.8" r="1.0"/><circle cx="624.0" cy="232.0" r="1.0"/><circle cx="622.1" cy="232.2" r="1.0"/><circle cx="620.2" cy="232.4" r="1.0"/><circle cx="618.3" cy="232.7" r="1.0"/><circle cx="616.5" cy="233.1" r="1.0"/><circle cx="614.6" cy="233.5" r="1.0"/><circle cx="612.7" cy="233.9" r="1.0"/><circle cx="610.8" cy="234.4" r="1.0"/><circle cx="608.9" cy="234.8" r="1.0"/><circle cx="607.1" cy="235.2" r="1.0"/><circle cx="605.2" cy="235.6" r="1.0"/><circle cx="603.3" cy="236.0" r="1.0"/><circle cx="601.4" cy="236.9" r="1.0"/><circle cx="599.5" cy="237.7" r="1.0"/><circle cx="597.7" cy="238.6" r="1.0"/><circle cx="595.8" cy="239.5" r="1.0"/><circle cx="593.9" cy="240.4" r="1.0"/><circle cx="592.0" cy="242.4" r="1.0"/><circle cx="590.1" cy="245.0" r="1.0"/><circle cx="588.3" cy="249.1" r="1.0"/><circle cx="586.4" cy="254.9" r="1.0"/><circle cx="584.5" cy="265.4" r="1.0"/><circle cx="582.6" cy="284.7" r="1.0"/><circle cx="580.7" cy="311.5" r="1.0"/><circle cx="578.9" cy="331.8" r="1.0"/><circle cx="577.0" cy="343.0" r="1.0"/><circle cx="575.1" cy="349.1" r="1.0"/><circle cx="573.2" cy="353.3" r="1.0"/><circle cx="571.3" cy="356.1" r="1.0"/><circle cx="569.5" cy="358.2" r="1.0"/><circle cx="567.6" cy="359.1" r="1.0"/><circle cx="565.7" cy="360.0" r="1.0"/><circle cx="563.8" cy="360.9" r="1.0"/><circle cx="561.9" cy="361.7" r="1.0"/><circle cx="560.1" cy="362.6" r="1.0"/><circle cx="558.2" cy="363.1" r="1.0"/><circle cx="556.3" cy="363.5" r="1.0"/><circle cx="554.4" cy="363.9" r="1.0"/><circle cx="552.5" cy="364.3" r="1.0"/><circle cx="550.7" cy="364.7" r="1.0"/><circle cx="548.8" cy="365.1" r="1.0"/><circle cx="546.9" cy="365.6" r="1.0"/><circle cx="545.0" cy="366.0" r="1.0"/><circle cx="543.1" cy="366.3" r="1.0"/><circle cx="541.3" cy="366.5" r="1.0"/><circle cx="539.4" cy="366.7" r="1.0"/><circle cx="537.5" cy="366.8" r="1.0"/><circle cx="535.6" cy="367.0" r="1.0"/><circle cx="533.7" cy="367.2" r="1.0"/><circle cx="531.9" cy="367.4" r="1.0"/><circle cx="530.0" cy="367.6" r="1.0"/><circle cx="528.1" cy="367.8" r="1.0"/><circle cx="526.2" cy="368.0" r="1.0"/><circle cx="524.3" cy="368.1" r="1.0"/><circle cx="522.5" cy="368.2" r="1.0"/><circle cx="520.6" cy="368.3" r="1.0"/><circle cx="518.7" cy="368.4" r="1.0"/><circle cx="516.8" cy="368.5" r="1.0"/><circle cx="514.9" cy="368.6" r="1.0"/><circle cx="513.1" cy="368.7" r="1.0"/><circle cx="511.2" cy="368.8" r="1.0"/><circle cx="509.3" cy="368.9" r="1.0"/><circle cx="507.4" cy="369.0" r="1.0"/><circle cx="505.5" cy="369.1" r="1.0"/><circle cx="503.7" cy="369.1" r="1.0"/><circle cx="501.8" cy="369.2" r="1.0"/><circle cx="499.9" cy="369.3" r="1.0"/><circle cx="498.0" cy="369.4" r="1.0"/><circle cx="496.1" cy="369.5" r="1.0"/><circle cx="494.3" cy="369.6" r="1.0"/><circle cx="492.4" cy="369.7" r="1.0"/><circle cx="490.5" cy="369.8" r="1.0"/></g></g><line x1="490.3" y1="299.8" x2="678.6" y2="299.8" stroke="#666" stroke-width="0.9" stroke-dasharray="3,2"/><line x1="584.5" y1="216.6" x2="584.5" y2="382.9" stroke="#666" stroke-width="0.9" stroke-dasharray="3,2"/><text x="509.2" y="259.1" font-size="8.5" font-weight="bold" text-anchor="start" fill="#e23b2e" >Ms: 33 emu g<tspan font-size="6.2" dy="-3.6">−1</tspan></text><text x="509.2" y="269.2" font-size="8.5" font-weight="bold" text-anchor="start" fill="#f0862c" >Hc: 109 Oe</text><rect x="611.8" y="306.2" width="63.4" height="55.7" fill="#fff" stroke="#3a3a3a" stroke-width="0.9"/><line x1="643.5" y1="306.2" x2="643.5" y2="361.9" stroke="#888" stroke-width="0.6" stroke-dasharray="1,1"/><line x1="611.8" y1="334.1" x2="675.2" y2="334.1" stroke="#888" stroke-width="0.6" stroke-dasharray="1,1"/><line x1="609.8" y1="362" x2="611.8" y2="362" stroke="#3a3a3a" stroke-width="0.7" /><text x="609.8" y="364.6" font-size="7.2" text-anchor="end" fill="#000" >−10</text><line x1="609.8" y1="348" x2="611.8" y2="348" stroke="#3a3a3a" stroke-width="0.7" /><text x="609.8" y="350.6" font-size="7.2" text-anchor="end" fill="#000" >−5</text><line x1="609.8" y1="334.1" x2="611.8" y2="334.1" stroke="#3a3a3a" stroke-width="0.7" /><text x="609.8" y="336.7" font-size="7.2" text-anchor="end" fill="#000" >0</text><line x1="609.8" y1="320.2" x2="611.8" y2="320.2" stroke="#3a3a3a" stroke-width="0.7" /><text x="609.8" y="322.8" font-size="7.2" text-anchor="end" fill="#000" >5</text><line x1="609.8" y1="306.2" x2="611.8" y2="306.2" stroke="#3a3a3a" stroke-width="0.7" /><text x="609.8" y="308.9" font-size="7.2" text-anchor="end" fill="#000" >10</text><line x1="615" y1="361.9" x2="615" y2="363.2" stroke="#3a3a3a" stroke-width="0.7" /><line x1="624.5" y1="361.9" x2="624.5" y2="363.9" stroke="#3a3a3a" stroke-width="0.7" /><text x="623" y="369.5" font-size="7.2" text-anchor="middle" fill="#000" >−300</text><line x1="634" y1="361.9" x2="634" y2="363.2" stroke="#3a3a3a" stroke-width="0.7" /><line x1="643.5" y1="361.9" x2="643.5" y2="363.9" stroke="#3a3a3a" stroke-width="0.7" /><text x="643.5" y="369.5" font-size="7.2" text-anchor="middle" fill="#000" >0</text><line x1="653" y1="361.9" x2="653" y2="363.2" stroke="#3a3a3a" stroke-width="0.7" /><line x1="662.5" y1="361.9" x2="662.5" y2="363.9" stroke="#3a3a3a" stroke-width="0.7" /><text x="662.5" y="369.5" font-size="7.2" text-anchor="middle" fill="#000" >300</text><line x1="672" y1="361.9" x2="672" y2="363.2" stroke="#3a3a3a" stroke-width="0.7" /><text x="643.5" y="376.7" font-size="7.2" text-anchor="middle" fill="#000" >Hc (Oe)</text><text transform="translate(600.6,334.6) rotate(-90)" x="0" y="0" font-size="7.2" text-anchor="middle" fill="#000">Ms (emu g<tspan font-size="5" dy="-2.8">−1</tspan><tspan dy="2.8">)</tspan></text><clipPath id="ic"><rect x="611.8" y="306.2" width="63.4" height="55.7"/></clipPath><g clip-path="url(#ic)"><polyline points="612.8,361.9 624.3,334.1 630.8,315.4 635.3,306.2" fill="none" stroke="#f0812a" stroke-width="0.9" stroke-linejoin="round" /><polyline points="645.5,361.9 655.6,334.1 662,317 666.5,306.2" fill="none" stroke="#f0812a" stroke-width="0.9" stroke-linejoin="round" /></g></svg></body></html>
